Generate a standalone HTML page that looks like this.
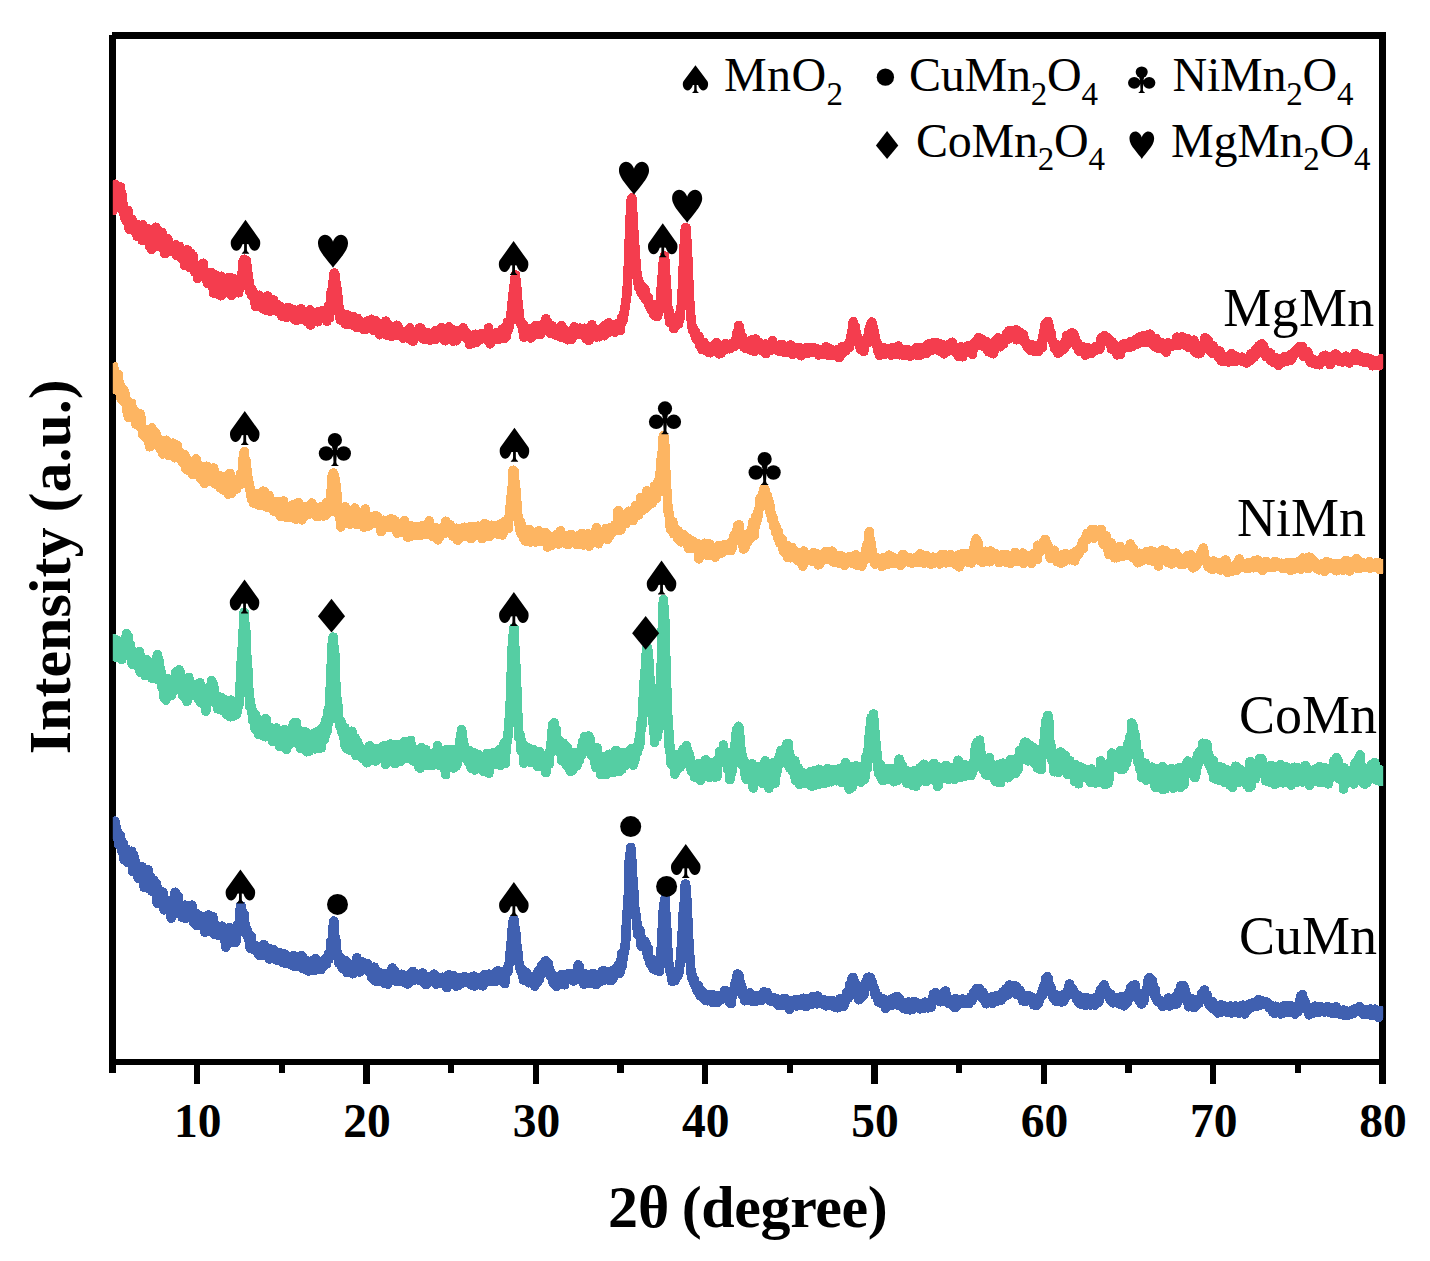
<!DOCTYPE html>
<html><head><meta charset="utf-8"><title>XRD</title>
<style>
html,body{margin:0;padding:0;background:#fff;}
svg{display:block;}
text{font-family:"Liberation Serif",serif;fill:#000;}
.lg{font-size:48px;letter-spacing:-0.25px;}
.sub{font-size:33px;}
.lab{font-size:54px;}
.tk{font-size:47.5px;font-weight:bold;text-anchor:middle;}
.ax{font-size:60px;font-weight:bold;}
</style></head><body>
<svg width="1430" height="1261" viewBox="0 0 1430 1261">
<rect width="1430" height="1261" fill="#fff"/>
<g fill="#000" shape-rendering="crispEdges">
<rect x="109" y="35" width="7" height="1030"/><rect x="112" y="32" width="1274" height="6.6"/><rect x="1379" y="32" width="7" height="1052"/><rect x="109" y="1059" width="1277" height="6"/><rect x="109.3" y="1062" width="6.4" height="10.8"/><rect x="194.0" y="1062" width="6.4" height="22"/><rect x="278.6" y="1062" width="6.4" height="10.8"/><rect x="363.3" y="1062" width="6.4" height="22"/><rect x="448.0" y="1062" width="6.4" height="10.8"/><rect x="532.6" y="1062" width="6.4" height="22"/><rect x="617.3" y="1062" width="6.4" height="10.8"/><rect x="702.0" y="1062" width="6.4" height="22"/><rect x="786.6" y="1062" width="6.4" height="10.8"/><rect x="871.3" y="1062" width="6.4" height="22"/><rect x="956.0" y="1062" width="6.4" height="10.8"/><rect x="1040.6" y="1062" width="6.4" height="22"/><rect x="1125.3" y="1062" width="6.4" height="10.8"/><rect x="1210.0" y="1062" width="6.4" height="22"/><rect x="1294.6" y="1062" width="6.4" height="10.8"/><rect x="1379.3" y="1062" width="6.4" height="22"/></g>
<clipPath id="cp"><rect x="112.8" y="0" width="1270.4" height="1261"/></clipPath>
<g clip-path="url(#cp)" shape-rendering="crispEdges">
<path d="M112.5 198.9l.33 11.5.34-2.8.33-15.5.33-2.5.34 .6.33 7 .33-1.4.34 0 .33-11.5.33 17.3.34-4.5.33 1.4.33-4.5.34-1.2.33 6 .33 2.4.34-5.5.33 .4.33 3.3.34-8.5.33-2.7.33 9.5.34-4.5.33-6.1.33 6 .34 3.5.33-2.9.33 .6.34 10.2.33 6.2.33-4.6.34-1.7.33 6.7.33 2.7.34-2.8.33 4.5.33 2.8.34-5.7.33-2.4.33 5.8.34 2.8.33 2 .33-9.2.34 .7.33-.3.33-1.5.34 9.1.33 3.4.33-2.4.34 8.6.33 .2.33-1.3.34-.1.33 .2.33-7.4.34 6.9.33-.1.33-8.3.34 6.7.33 1 .33 2.9.34-3.9.33 .9.33 .7.34-3.6.33 4.5.33-1 .34 .8.33-2.1.33 5.8.34-1.1.33-2.9.33 3.8.34 4.7.33-.2.33-11.4.34 7.3.33 .6.33-3.6.34-1.8.33 6.6.33-6.5.34 6.4.33 2.2.33-10.7.34 1.5.33-1.4.33 7.2.34 7.8.33-.6.33-15 .34 2.6.33 8 .33 4.2.34-5.2.33-5 .33 3.3.34-.1.33-1.3.33-.9.34 4.6.33 .8.33-1.6.34-1.9.33-3.6.33 4.4.34 7 .33-5.3.33-3.8.34 10.2.33 1.4.33 4 .34-7.6.33-5.3.33-1.7.34 12.5.33 4.9.33-13.1.34-1.5.33 4.1.33-4.3.34 .8.33 .8.33 3.2.34 3.3.33-2.9.33 1.3.34-4.1.33-.8.33-9 .34 2.8.33 9.2.33-2 .34 3.9.33 2.2.33 3.2.34-.8.33-.6.33-5 .34-3.6.33-.3.33 .4.34-1.8.33 2.4.33 2.9.34 1.4.33-3.9.33-5.4.34 6.7.33 4.2.33 3.6.34-2.4.33-5.5.33 1.5.34 10.5.33-1 .33 3.8.34-.4.33-10.7.33 2.4.34 1.9.33 .8.33-.1.34-1.2.33-2 .33-5.4.34 3.6.33 .2.33 2.8.34-.1.33 4.4.33 1.7.34-1.6.33-.6.33-1.2.34-2 .33 .5.33 0 .34 3.2.33 .1.33 .3.34-4.9.33 5.8.33-4.4.34-.8.33 2.1.33 .1.34 2.4.33-3 .33-2.6.34 2.7.33 7.8.33-4.2.34-5.2.33 2.1.33-1.9.34 8.8.33-8.1.33 5 .34 .5.33-6.1.33 6.2.34 4.4.33-1.2.33-.2.34 2.3.33-1.8.33-.1.34-.5.33 1.4.33-3.5.34 4.5.33-3.8.33-1.9.34 6.9.33 6.3.33-2.8.34-5.2.33 2.4.33-2.8.34 .6.33-1 .33-6.8.34 6.6.33-1.9.33-.5.34-2.6.33-.2.33 4.2.34 8.6.33 3.6.33-4.6.34 1.7.33-5.7.33-5.6.34 7.1.33 2.5.33-2.1.34 2.5.33 .6.33-5.7.34-2.3.33 4.7.33 1.5.34 1.2.33 6.3.33 2.6.34-6 .33 3.1.33 2.3.34 .2.33 .3.33-3.7.34 4.7.33 5.2.33-4.6.34-5.2.33 4.2.33 2.9.34-3.5.33-2.4.33 4.6.34-7 .33 3.7.33-1.4.34-2.5.33 7.3.33-2.3.34-4.7.33 4.4.33-3.4.34-5.2.33 4.4.33 5.3.34 2.2.33-1.2.33-.1.34 1.4.33-.4.33 4.2.34-1.8.33 .4.33 .1.34-4.7.33 2.4.33 7.9.34-2.5.33-2.5.33 1.2.34-1.6.33 1.2.33-1.9.34 .9.33-3.3.33 7.3.34-5.1.33-4.3.33 3.9.34 1.3.33 .8.33-2.5.34 7.6.33 9.1.33-13.1.34 1.3.33-.1.33-.2.34-5.9.33 2.4.33 6.2.34 1.4.33 3.7.33-5.9.34 3.6.33 7.5.33-10.8.34-2.9.33 3.1.33 1.6.34 2.7.33-2.5.33-2.8.34 5 .33 8.4.33-6.2.34-13.2.33 5.4.33 1.2.34 4.2.33 .6.33 6.1.34-1.5.33-1.4.33-2.6.34-.9.33 2.2.33 3.2.34-2.5.33-2.3.33 4.1.34-2.6.33-2.6.33-2.6.34 0 .33-2 .33-4.4.34 11 .33 .9.33-2.2.34 3.1.33-1.3.33-3.4.34-8.2.33 6 .33 5.6.34 4.6.33 1.4.33-3.5.34-10.2.33-3.4.33 8.4.34 1.4.33 2.1.33-2.6.34-1 .33-3.9.33 4.7.34-.6.33 2.2.33 .6.34-1.4.33 .8.33-.1.34 2.1.33-1.2.33-4 .34 .8.33 6.1.33-3.7.34 1.2.33-2.6.33-4.7.34-1.7.33 1.8.33 .1.34-1.8.33-7.5.33-.9.34 1.5.33 .6.33-12.4.34 3.1.33-2.6.33-.3.34-3.5.33 2 .33 3.3.34-3.1.33-.2.33 .2.34-1 .33 5 .33 .4.34 .4.33 4.5.33 3.3.34 4.9.33-.1.33 1.5.34 7.8.33 2.1.33 1.6.34-1.2.33-1.9.33-.3.34 2.4.33 4.5.33-2.1.34-3.9.33 3.2.33-1.3.34 3.7.33-2.6.33 .4.34 4.9.33-.4.33-3 .34 8.1.33 3.9.33-8 .34 5.9.33-5.4.33-1.1.34 .2.33-1.6.33 7.3.34-1.4.33-4.1.33-.3.34-2.5.33 4 .33 3.3.34-6.3.33 2.8.33 3.9.34 3.8.33 .4.33-5.6.34-1.3.33 3 .33-1.6.34 .7.33 4.9.33 2 .34-4.5.33-2 .33 .1.34-5.7.33 3.2.33 .9.34 8.9.33-2.9.33-3.3.34-3.1.33-4.8.33 9.4.34 3.8.33-5.2.33 2.9.34-.2.33-4.8.33 6.6.34 2.5.33-3.1.33-1 .34 .8.33-5.2.33 4 .34 2.6.33-4.6.33 4.1.34-3.9.33-4.7.33 4.2.34-.2.33 2.2.33-2 .34 4.4.33-3 .33 1.3.34-1.8.33 1.4.33 4.2.34-2.1.33-2.9.33-.9.34 6.7.33 .2.33-2.6.34 .4.33-2.9.33-.2.34 1.9.33 4.1.33 .4.34-1.8.33 4 .33 1 .34-1 .33 1.2.33-3.3.34-.1.33 1.5.33-.6.34 .5.33-3.7.33 4.7.34-4.3.33-.7.33-1.8.34 5.5.33 3.3.33-.3.34-2.7.33-6.8.33 .8.34 1.1.33 .4.33 5 .34-1.4.33-.9.33 .4.34-3.8.33-.8.33 1.3.34 4.1.33 .9.33 1.2.34 0 .33-6.1.33 1.3.34 1.7.33-3.1.33 2.7.34 5.5.33 1.6.33-.5.34-2.9.33-.3.33 2.8.34-2.5.33 2 .33 2.4.34-4.3.33-1.4.33 2.1.34 2 .33-.3.33-.9.34-1 .33-5.7.33 1 .34 2.3.33-3.1.33-2.2.34 .1.33 1.3.33 1.6.34-1 .33 4.1.33 4 .34-3.2.33 2.3.33-2.6.34-4 .33 1.3.33 0 .34 3.5.33-2.3.33 5.6.34-2 .33-5.8.33 7.1.34 2.9.33-4.7.33 1.7.34-5.1.33 2.8.33-2.4.34 3.3.33-5.6.33-1.8.34 9.4.33 5.5.33-6.2.34 1.3.33-1.7.33-1.5.34 2.7.33 1.2.33-6.7.34 2.6.33-.9.33-3.3.34 7.7.33 1 .33-6.3.34 4.6.33-3 .33-.5.34 4 .33-2.2.33 .4.34 3.6.33 0 .33-2.9.34-7 .33-.2.33 6.2.34-3.4.33 .6.33-2.4.34 .6.33-.7.33 5.4.34-5.2.33 .4.33 1.2.34 2 .33-5.8.33 2 .34 1 .33 2 .33-.2.34-2.1.33 1 .33-.5.34 1.7.33-1.3.33-1.5.34 1.8.33 3 .33 3.8.34-6.2.33 1 .33 1.1.34-9.6.33-1.7.33 1.9.34 4.5.33 5.6.33-4.9.34-1.9.33-7.2.33-9.9.34-1.3.33 6.5.33-4.1.34-6.4.33 .9.33-7.3.34 3.4.33-1.2.33-8.7.34-2.6.33 3.9.33-2.5.34 4.3.33-1.3.33 6.6.34 1.8.33 .7.33 2.2.34 4.6.33-1.3.33 6 .34 4.2.33 4.1.33-.7.34 7.7.33-2.8.33-.7.34 8.1.33 2.1.33-5 .34-2.2.33 2 .33-.9.34 2.1.33 4.9.33-2.2.34-1.4.33 .1.33-.3.34 2.3.33-.1.33-3.1.34 2.2.33 5.6.33-4.4.34-1.4.33 4.6.33-4.8.34-3.2.33 3.3.33-2.8.34 .8.33 2.5.33-.9.34-1.8.33 .3.33 1.5.34 3.8.33-3.8.33 1.1.34 5.8.33-3.9.33 4 .34 0 .33-5 .33-3.2.34 4.6.33 2.2.33 .5.34-1.4.33 2.7.33-.3.34-4.8.33 4.5.33-2.2.34-2.5.33 1.9.33 5.9.34-2.6.33-6.7.33 3.4.34 1 .33-.2.33-1.2.34-1 .33 4.9.33-2.7.34 .5.33-.1.33 .8.34 3.9.33-.6.33-3.1.34-1 .33 2.2.33 3.7.34-1.2.33-.7.33-1.4.34 0 .33-.1.33-3 .34 6.2.33-4.1.33 .2.34 4.4.33-1.9.33-1.7.34-2.5.33-1.9.33 4.6.34 2.5.33-3.4.33 3 .34-4.9.33 .3.33 3.2.34 0 .33 .6.33-3.6.34-2.2.33-2 .33 1.3.34 .5.33 .3.33 3.7.34-2.3.33-1.2.33 8.8.34-6.1.33-1.5.33 6.3.34 0 .33-6.2.33-1.9.34 2.5.33 5.2.33-2.6.34-1.6.33 2.7.33 2.2.34-5.2.33 .5.33 .4.34 8.7.33 .9.33-3 .34-2.8.33-.3.33-5.1.34 3.6.33-2.6.33-.5.34 2 .33 2 .33 2.8.34 .7.33-1.8.33-2.4.34 3 .33-.1.33 1.5.34-5.8.33-4.7.33 6.5.34 7.2.33-3.2.33-2.2.34 2.1.33-.5.33-1.1.34-2.3.33 .8.33 .1.34-2.5.33-.9.33 3.5.34 2.9.33-.3.33-.4.34 1.5.33 4.1.33-4 .34 1.3.33 1.8.33-4 .34 0 .33 2.6.33 1.4.34-3 .33-.9.33-1.4.34-2 .33 4.2.33-2.9.34-3.7.33 2.1.33-2.7.34 1.5.33 2.4.33-.5.34 2.9.33-4.2.33 3.1.34 2.5.33 2.2.33-1.1.34-2 .33-.7.33 .5.34 2 .33-2.8.33 1.8.34-.4.33 .5.33 .7.34 4.3.33-4.7.33 .8.34 1 .33 1 .33-.1.34 .3.33 0 .33-4.9.34 1.5.33-1.3.33 2 .34-2.6.33 .2.33 3.2.34 3.6.33-1.4.33-.5.34 1 .33-5.9.33-3.2.34 3.5.33 2.4.33 4.4.34 1.2.33-5.6.33 6.8.34-.2.33-2.5.33-.3.34 3.4.33-4.8.33-2.3.34 .2.33-2.2.33 3.2.34-.1.33 .6.33-.6.34-2.1.33 3.5.33-3.2.34 1.7.33-3.7.33 2.6.34-1.2.33 1 .33-2.1.34-3.4.33 2.4.33 3.9.34 .9.33-5.1.33-2 .34 3.1.33 2.2.33-.7.34 .5.33 4 .33 1.3.34-1.4.33-3.5.33 1.4.34-.7.33-1.7.33 4.4.34-.8.33-.8.33 3.8.34-.4.33-.1.33 .5.34-2.2.33-4.7.33 1.7.34 2.8.33-2.9.33 1.1.34 2.1.33 2.7.33 .1.34-1.6.33-2.2.33 1.9.34-.7.33-1 .33 2.7.34-1.9.33-2.4.33 3.2.34-2.1.33-.2.33-3.8.34 1.7.33-1.4.33-1.2.34 .1.33 7.9.33-2.9.34 .2.33 1.6.33-2 .34-.2.33-3.2.33 2.4.34 .1.33 1.7.33-1.1.34-4.3.33-1.5.33 2.9.34 4.6.33 .3.33-1.7.34-6.3.33-1.9.33 4.8.34 1.8.33 .1.33 1.8.34-1.4.33-2.7.33 .7.34 2.6.33 .3.33 .9.34 4 .33-4.6.33-1.3.34-2.2.33 1.3.33 2.5.34 .2.33-1.5.33 .6.34-1.7.33-5.8.33-1.2.34 11.8.33-.7.33-4 .34-4.3.33 1.8.33 4.3.34-6.9.33 4.4.33 4.1.34-.6.33 .7.33-.2.34 3.6.33-7 .33-1.8.34 4.3.33 2.9.33-2.3.34 .7.33-3.7.33-1.1.34 5.9.33 1.8.33-1.3.34-5.4.33-3.1.33 0 .34 2.6.33 2.4.33-1 .34-3.9.33 2.6.33 .4.34-.1.33-.5.33-.2.34 1.4.33-.8.33-.7.34-1.6.33 1.7.33-1.7.34-3.5.33 4.8.33 .7.34 2.1.33-1.5.33 0 .34 1.1.33-.2.33-1.6.34-1 .33 6.2.33-5 .34 1.8.33 3.2.33 .3.34 .6.33 1 .33 .9.34-.3.33 3.4.33-6.9.34 .3.33-.8.33-.2.34 2.4.33 2 .33-4.6.34-.5.33 3.1.33 1.2.34 2.6.33-1.9.33-2.8.34-1.5.33 .8.33-1.2.34-2.2.33 2.5.33 .4.34-.2.33 .8.33 4.4.34-1 .33-.9.33-3.8.34-1.5.33 1.7.33 1.3.34-1.1.33 .5.33 2.3.34-1.9.33-3.2.33 .2.34 .1.33 1 .33-2.3.34 2 .33 2.2.33-1.6.34-2.5.33 .6.33 2.2.34 1.5.33 .4.33-2.8.34-1.8.33 5.1.33-1.1.34-.6.33-1.1.33-2.9.34 1.1.33 2.2.33 1.5.34-3.7.33-6.4.33 5.5.34 3.8.33 2.5.33 .5.34 3.6.33-1.2.33-.8.34-2 .33-4.2.33 4 .34 .2.33-2 .33 2 .34-.3.33-2 .33 .1.34 0 .33 .6.33-.8.34 .3.33-4.5.33 1.5.34-1.9.33 2.6.33 2.6.34-.8.33-.6.33 1.1.34 1.9.33-4.6.33 1.6.34-4.2.33 1.2.33 1.3.34-1.7.33 2.1.33 .5.34-3.8.33 1.2.33-1 .34-3 .33 2.9.33 .8.34 3.4.33-2.6.33 3.5.34-2.6.33 3.7.33-2.2.34-1.2.33 .5.33 .4.34 1 .33-.6.33-6 .34-4.8.33-3.3.33 4.9.34 3.3.33-1.1.33-2 .34-2.5.33-2 .33-.2.34-1 .33-5.3.33 1.5.34-5.6.33-1 .33-3.1.34-3.2.33-5 .33-3.7.34-1.7.33-2.8.33 3.8.34-8.4.33-4.8.33-1.8.34-3 .33-2.3.33 6.5.34 3.8.33-.9.33 5.1.34 1.9.33 6 .33 5.4.34 3.9.33 2.5.33 1 .34 5.3.33 .6.33 3.6.34 2.7.33-1.2.33-.5.34 4.4.33-2 .33 .3.34 1.6.33 4.8.33-2.1.34-3.5.33 7.4.33 5.4.34-1 .33-5.5.33 .6.34 1.9.33 .8.33-2.4.34-2.1.33 3.9.33-.3.34-4.2.33 1.7.33 2.1.34 .1.33 1.4.33 .8.34-.8.33-2.6.33-2.3.34 4.6.33 3.5.33 .6.34-4.6.33-.4.33 3.7.34 .2.33-2.5.33-.6.34-2.7.33 1.6.33-2.3.34 .9.33 .1.33-1.9.34-3.6.33 2.8.33 3.4.34-.6.33-.7.33 1.9.34 1.2.33-.6.33-3.7.34 .7.33-.9.33-2.2.34-1.3.33 2.4.33 .5.34 5.5.33-4.2.33-2.1.34 .5.33 3.6.33-5.5.34-.5.33-.9.33 1.1.34 1 .33 1.2.33-4.9.34 2.8.33 3.5.33-4.2.34-1 .33-2.6.33-3.2.34 6.1.33 3.8.33-4 .34-3.1.33 4.6.33 1.6.34 2.5.33-.1.33-2.3.34 0 .33-2.9.33 5.8.34 .4.33 2.2.33 0 .34-2.8.33-.6.33-2.1.34-1.9.33 4.5.33 1.4.34-1.6.33 3.5.33-.1.34-.2.33-3.4.33-1.6.34 5.6.33 .7.33-2.1.34-1 .33 .2.33 .3.34-1.7.33-2.1.33 4.6.34-3.1.33 1.6.33 1.2.34 .4.33-2.5.33 5.5.34 .5.33 .2.33 0 .34-6.2.33-4.9.33 7.6.34 4.3.33-.8.33-3.9.34 .3.33-.1.33-4 .34 1.7.33 2.3.33 4.3.34-2.6.33 3.4.33-3.3.34-2.6.33 6.7.33-4.3.34 2.7.33 2.3.33-5.2.34-1.7.33 4.4.33-1.8.34-3.8.33-.2.33 2.5.34 2.7.33-1.8.33 1.9.34 2.6.33-.5.33-.2.34-2.3.33-5.6.33 4.5.34-1 .33-2.4.33-3.1.34-1.8.33 1.4.33 2.1.34-2.2.33 .2.33 1.3.34 2.5.33-1.7.33 .5.34 2.7.33-2.8.33 .3.34-2.8.33 2.4.33 .5.34-.2.33-1.8.33-1.1.34 1.6.33 1.2.33 3.7.34-.5.33-4 .33 2.8.34-.9.33 1.2.33-2.2.34-1.3.33 5.5.33-.7.34-4.7.33-1.6.33 2.8.34-.1.33 2.5.33 3.5.34 1.7.33-3 .33 3 .34-.7.33-5.1.33-2.8.34 5.1.33 1.8.33 3.4.34-1.9.33-1.9.33-.1.34-5.8.33 1 .33 .7.34 3.8.33-4 .33-7.3.34 7.4.33-2.1.33 2.1.34-1.8.33 1.3.33 1.1.34-1.5.33-1.6.33 4.7.34-1.1.33-1 .33 1 .34-1 .33 4.6.33-2.4.34-.5.33-.7.33-3.3.34-.6.33 3.5.33 1.8.34 1.9.33-2.8.33-3.6.34 3.1.33 1.7.33 0 .34-2.8.33-3.1.33 3.7.34-2.7.33 .6.33-3.4.34 3.5.33-1.5.33 4 .34 2.3.33-2.8.33-6.5.34-1.1.33 1.1.33 3.6.34-.2.33-.7.33 .3.34 .8.33 1 .33 1.6.34-3.7.33-1.7.33-4.7.34 .5.33 1.8.33 .1.34 4 .33 2.1.33-3.3.34-1 .33 .2.33 1.2.34-.8.33 1.9.33 .2.34 .1.33 .5.33-1.7.34 .6.33 3 .33-3.4.34 .4.33-1.9.33-2 .34-.8.33-.5.33 1.3.34-1.1.33 .9.33 3.4.34-2 .33 1.6.33-1.4.34-.4.33-3.4.33 2.2.34 5.3.33-3.5.33-1.8.34-2 .33-.8.33-5.2.34-.2.33 3.3.33 .5.34-3.5.33-1 .33-1.1.34-1.3.33-4 .33-1.8.34 .6.33-5.3.33-1.4.34-1.9.33-3.6.33-1.4.34-5.7.33-5.7.33-8.7.34-6.2.33-4.3.33-8.8.34-11.3.33-7.9.33-9.6.34-8.4.33-5 .33-10.7.34-2.4.33-.6.33-1.4.34 1.3.33 9.7.33 5.8.34 5.4.33 6.5.33 5.9.34 4.4.33 7.4.33 1.4.34 7.7.33 2.3.33 7.1.34 6.7.33 .9.33 2 .34 4.4.33 .3.33 .8.34 2.8.33 6.2.33 0 .34-1.2.33-2.7.33 3.6.34-2.1.33 3.3.33-.5.34 5.6.33-5.6.33 5.8.34-.6.33-6.2.33 4 .34 5.8.33-1.3.33-7 .34 1 .33-.6.33 .7.34 3.3.33 6.5.33-2.7.34-1.7.33 .8.33 3.3.34 .4.33-2.2.33 4.5.34-4.2.33 1.7.33 4.1.34 3.3.33-3.7.33 1.8.34 3.4.33-.1.33 1.6.34 .2.33-1.2.33 1.3.34 1.1.33-.7.33 2 .34-7.3.33 2.7.33 7 .34-1.2.33-2.3.33 3 .34 1.9.33-2.6.33 2.2.34-1.2.33-.4.33 1 .34 1.7.33-4.9.33 .9.34 1.4.33-5.4.33-1.8.34 3.7.33-2 .33-2.8.34-2.7.33-3.5.33 3.7.34-11.9.33-6.4.33-6.6.34-1.5.33 .1.33-7.3.34-4.4.33-4.5.33 2.7.34-4.7.33-2.6.33 6.8.34 3 .33 6.7.33 5.1.34 5.8.33 4.7.33 2.2.34 4.5.33 10.3.33 3 .34 3.4.33 .2.33-1.7.34 4.7.33 7.6.33-2.5.34-.2.33-1.3.33 2.3.34 1.4.33 .8.33 .3.34-1.2.33 .2.33 1.7.34 1 .33 .2.33 3.6.34-2.9.33-1.7.33-1.2.34 2.4.33-4.8.33-2.6.34 2.1.33 3.2.33-2.3.34 4 .33-3.1.33-4.3.34 3 .33 3.6.33-6.7.34-2.8.33 3.6.33 1.3.34-3.2.33-5.8.33-2.4.34-2.1.33-1 .33-2.9.34-9.6.33-4.6.33-9.3.34-6.4.33-10.8.33-7.3.34-4.8.33-8.7.33-2.8.34-7.2.33-2.2.33-.8.34 1.1.33 5.7.33 10 .34 10.3.33-2.1.33 8.9.34 7.2.33 6.4.33 9.3.34 5.2.33 8.4.33 7.4.34-1 .33 8.1.33 4.7.34 .8.33 5.4.33 2.3.34 1 .33 3.4.33-2.6.34 3.7.33-.5.33-1.1.34 2.2.33 1.4.33 1.9.34-3.2.33 2.1.33 1.9.34 3.5.33-3 .33 2.5.34-3.2.33 3.5.33 1.1.34 .9.33-2.1.33-2.5.34 2.3.33 6.3.33-1 .34-1.6.33 2.6.33-2.3.34-.8.33 .5.33 5.4.34 1.6.33-4.9.33 1.7.34 2.8.33 .6.33-7.4.34 3.4.33 1.5.33-3 .34 2.9.33 1 .33 .5.34-1.7.33 1.1.33-.8.34 1.9.33-.4.33-1.6.34-.7.33 5.6.33 .4.34-1.4.33-3 .33 .9.34 3.8.33-1.6.33-3.3.34 1 .33 .5.33-1.1.34-.5.33 3.7.33-.6.34-2.6.33-2.6.33 1.7.34 2.1.33 1.5.33-1.3.34 2 .33-1.7.33-3.3.34-3.9.33 2.1.33 .8.34 2.8.33 2.2.33 1.7.34-2.8.33-1.2.33 5.5.34-2.6.33-2.2.33-.8.34-1.2.33 3.3.33 1 .34 2 .33-.6.33-.6.34-.3.33-3.2.33-1 .34-.1.33-1.8.33 1.4.34 .5.33 1.4.33-1.9.34-3.4.33 3.6.33 2 .34-5.4.33 .9.33 1.3.34-1.9.33 1.1.33 .9.34-1.7.33 2.6.33 .1.34-2.8.33 2.2.33 2.1.34-2 .33 .6.33 0 .34-1.3.33 1.6.33-1.6.34-2.6.33 2.4.33 1.2.34-.9.33-2.8.33 1.7.34 1.4.33-2 .33 .8.34-.7.33-3.4.33-.8.34-2.2.33 .4.33-3.5.34-2.8.33-.6.33-.9.34-.1.33-1.3.33-3.8.34 .7.33 2.9.33 1.3.34 1.5.33 5.8.33-1.2.34-1.5.33 2.9.33 2.7.34-1.4.33-2.7.33 4 .34 3 .33 3.3.33-4.8.34 4.8.33-.8.33 1.2.34-1.5.33 .9.33 1.8.34-1.2.33 .9.33-2.2.34-1.2.33 0 .33-.3.34 1.3.33 2 .33-4.7.34-1.5.33 4.2.33 4.1.34-.2.33 .3.33-1.1.34-3.8.33-.7.33-4.4.34 3.4.33 2.3.33-4.3.34-1.9.33 2 .33 3.9.34 3.5.33 2.8.33-3.2.34-7.3.33-1.9.33 5.2.34 1.9.33-4.6.33 1 .34 1 .33 1 .33 .1.34 1.7.33 1 .33-1.4.34 1.7.33 1.5.33-5.6.34-.7.33 4.1.33 3 .34-2.2.33 .6.33-1.7.34 1.2.33-1.9.33 1.9.34 .1.33 .4.33 1.9.34-1 .33-2.9.33 .9.34-3.3.33 5.3.33 4 .34-3.7.33-1.4.33-.6.34 .8.33-1.7.33 1.2.34-1.5.33-.5.33 1 .34-.9.33-1.7.33 6.2.34-3.1.33-3.3.33 4.3.34-.8.33 .2.33 .4.34-4.2.33-3.6.33 5.1.34 2.6.33 .9.33-3 .34 .4.33 1.3.33-1.1.34 0 .33 .4.33-1 .34 3.4.33-3.5.33 .5.34-.5.33-.3.33 2.6.34 1.8.33 .7.33-2 .34-1.9.33 1 .33-3.2.34 2.2.33 1.9.33-.4.34-3.5.33 .2.33 5.4.34-3.2.33-2.9.33 1.1.34 3.6.33 2.6.33-1 .34 1.5.33-1.1.33 .3.34 .5.33-2.1.33 .3.34-1.1.33-.3.33 1.8.34-1.9.33 .6.33-.9.34 .8.33 .4.33 2.7.34-1.1.33 .4.33 1.1.34-7.3.33 .7.33-.9.34 5 .33 2.4.33 .5.34-1.2.33-1.2.33 3.8.34-2 .33-2.3.33-1.4.34 2 .33-1.2.33-.1.34 1.2.33-.2.33-1.1.34 2.4.33-3.5.33-.6.34 2.8.33 .4.33-.4.34-.6.33 .4.33-1.4.34-1.1.33 3.3.33-1.8.34 1.2.33 1.9.33 .4.34 3 .33-6.6.33-.3.34 2.5.33 2.1.33-3.1.34-1.9.33 3.5.33-2.5.34 .9.33 1.7.33-2.4.34 .1.33 1.6.33-.7.34 0 .33-1.9.33 .5.34-1.7.33 .1.33 5.6.34-.8.33-.6.33-3.1.34 .8.33-.5.33-1.5.34 2.6.33-1.3.33-.2.34-1.1.33 4.2.33 .6.34-1.4.33-2.4.33 1 .34 3 .33-1.7.33 .4.34-.5.33-1.1.33 3 .34-4.4.33 2.6.33-.2.34-2.1.33 3.2.33 1.1.34-1.3.33-1.4.33 2.4.34 1.4.33-.8.33 2 .34-1.1.33-.4.33 .1.34-3.7.33-.2.33 2.1.34 1 .33 1.7.33-.6.34-2.1.33-.6.33-1 .34-.4.33 .4.33 2 .34-2 .33-.2.33 .7.34-.9.33-.6.33-2.4.34 3.7.33 .3.33 .7.34-.4.33-2.2.33 6.2.34-2.3.33-2 .33-2.7.34 3.6.33 .3.33-1.4.34 1.2.33 1.5.33-3 .34-.8.33 3.5.33-1.1.34-.1.33 3.6.33-3 .34-1.4.33 .5.33-.6.34 .9.33 0 .33-1.3.34 .8.33 1.4.33 .7.34 .6.33 .3.33-.8.34-.1.33-1.6.33 .4.34 1.1.33-4.2.33 4.3.34 4.1.33-7.1.33 2.4.34-3.9.33 3 .33 3.2.34-1.1.33-5.1.33-2.2.34 .5.33 3.5.33-1 .34 .3.33 .7.33 .5.34 .1.33-1.5.33-2.1.34 3.1.33-4.8.33 4.8.34-1.6.33-.3.33-.7.34 0 .33 .2.33-1.3.34-1.4.33 2 .33-1.9.34 1.4.33-3.5.33-2.5.34 .9.33-.9.33-4.6.34-.3.33 1.1.33-5.6.34-1.9.33 0 .33-4.2.34-4 .33 1.4.33 4.4.34 1.5.33 .1.33-.7.34-1.8.33 4.5.33 2.2.34-1.4.33 3.2.33-.1.34 2 .33 1.2.33-.8.34 5.2.33-1.7.33 1.3.34 1 .33 2.6.33 .9.34 .5.33 2.4.33-1.5.34-2.9.33-3.8.33 4 .34 1 .33-1.2.33 .4.34 2.9.33 1.7.33 1.2.34-2.4.33-4.1.33-.4.34-2.4.33 2.3.33-1.2.34-2.9.33-.7.33-1.5.34-1.2.33 3.3.33 2.1.34-5.2.33-2.6.33-3.5.34-1.7.33 2.4.33-4.8.34-1 .33-1.1.33 .4.34-.9.33 .2.33-2.5.34 3.1.33 3.5.33-2.8.34 2.1.33 5.6.33 1 .34 1 .33-3.5.33 4.2.34-.2.33 1.5.33 5.3.34 2.4.33-3.7.33 .7.34 2.3.33 1.3.33 .3.34 6.2.33-1.6.33-2.3.34 1 .33 5.7.33 .2.34-4.8.33 .9.33 1.1.34-4 .33 1 .33 3.1.34-2.9.33-.9.33-1.4.34 1.4.33 2.5.33-2.5.34-1.2.33 2.3.33 4.4.34-2.2.33-1.7.33 1.3.34 .9.33-1.3.33-2.8.34 3 .33 .6.33 .9.34-2.6.33 2.9.33-2.5.34-1.6.33 4.4.33-1.8.34 .6.33-.1.33 2.2.34 .6.33-.3.33-1.9.34-4.8.33-.4.33 3 .34-.6.33 2 .33-.7.34-3 .33-.1.33 .1.34 .8.33 1.8.33 2.4.34 .5.33-4 .33 .6.34 3.9.33-.7.33-2.9.34-4.8.33 1.9.33 2.5.34 .4.33 3.8.33-2.3.34-1.1.33-2.5.33-.3.34 1 .33 .6.33 1.2.34 1.5.33 .5.33 .4.34-3.3.33 2 .33 1.4.34 1.8.33-2.7.33-.4.34-1.5.33 1.7.33-.1.34-2.1.33 0 .33 1 .34 .5.33-2.2.33 2.5.34-.3.33 3.5.33-.6.34-3.9.33 .2.33 5.1.34-2.1.33-1.4.33-1.7.34 .6.33 1.9.33-.5.34-1.9.33 2.9.33-1.4.34-1.9.33 2.7.33-.8.34 .7.33-1.6.33 .2.34-2.5.33 2.1.33-1.9.34 1 .33-3.2.33 3.9.34 2.5.33 .3.33 .2.34-2.9.33 4.1.33 0 .34-5.3.33-.4.33 .8.34 1.3.33-.6.33-3.7.34 4.2.33-.6.33-1 .34 2.7.33-1 .33 1.8.34-1 .33-1.4.33 2.2.34-.8.33-3.4.33-2.4.34 1.9.33 2.3.33-.3.34 2.7.33-2.1.33-.8.34-.3.33-2.1.33 .6.34-1.6.33-3.3.33 1.4.34 4.5.33-1 .33-.8.34-2.3.33 1.5.33 2.4.34-1.3.33-.9.33 2.5.34-2.7.33-1 .33 1 .34-4.3.33 2 .33-2.3.34-.3.33 .5.33 1.6.34 .4.33 .3.33 .5.34 2.6.33 .8.33-1.7.34-.8.33-2.4.33-.9.34 3 .33 .5.33 .4.34-2.4.33 6.1.33-4.6.34 1.6.33 1.7.33-3.5.34 .1.33-1.9.33 .6.34 .5.33 4.1.33 1.2.34-.2.33 3 .33 .4.34-2.9.33-1.1.33-.4.34 .3.33 2.7.33-1.7.34-1.8.33 0 .33 .9.34-1.5.33 .5.33 0 .34 2.1.33-1.3.33-5.1.34 1.3.33 1.5.33-1.6.34 1.4.33-.4.33-.2.34-1.1.33 .6.33-.3.34-3.5.33 .4.33 1.7.34 5.1.33-1 .33-.2.34-.3.33-1.2.33 .4.34 2.9.33-.3.33 2.9.34-1.5.33-.7.33-.4.34 .4.33 1.3.33 3.5.34 .8.33-5.8.33 1.4.34 .8.33-2.8.33-.1.34-.4.33-2.3.33 4.9.34 .2.33-.3.33 .5.34 1.4.33 3.2.33-2.9.34-.5.33-2 .33 .6.34-.9.33-.6.33-1.5.34 .3.33 2.6.33 1 .34-1.1.33-2 .33-.1.34-3.6.33 4.9.33-.1.34 .5.33 1 .33-2.1.34 1.2.33-1.7.33 .7.34-1.1.33 1.4.33 1.5.34-3.7.33-.9.33 .7.34 2.5.33 3.4.33-6.4.34-4.2.33 1.3.33-1.1.34 1.6.33 .7.33-2 .34-1.1.33-1.8.33 2.6.34-.6.33 2.7.33-.7.34-4.3.33-.3.33 1 .34 .1.33-4.2.33 2.8.34 3.6.33-2.9.33-.5.34-.8.33-1.3.33 3.7.34 0 .33 .1.33 1.6.34-.5.33-3.8.33 3.5.34-.1.33 1 .33-1 .34 .5.33 3.6.33-.9.34-.7.33 .3.33 1 .34-1 .33-3.8.33 2.4.34 2.7.33 2.9.33 .7.34-2.7.33 3.8.33-2 .34-.6.33-2 .33 .4.34 3.2.33-2.4.33 0 .34 2.8.33 .1.33-5.6.34 1.1.33 1.9.33 4.1.34 .9.33-4.6.33-.2.34 1.2.33 0 .33-2.4.34 .6.33-3.8.33-4.5.34 2.2.33 3.9.33 .2.34-6 .33-.1.33 2 .34-4.2.33 6.4.33 .8.34-6.3.33 5.1.33 .6.34 2.1.33-2 .33-1.6.34 .6.33 1.2.33-1.6.34-1.9.33-2.6.33 2.5.34 .5.33 2.1.33-3.6.34-1.9.33-1 .33 1.5.34-2 .33-.8.33 4.2.34-.1.33-5.4.33-1.7.34 2.9.33-1.6.33 4.9.34-4.1.33-.6.33-3.8.34 1.9.33 2.6.33-1.3.34-.9.33 4.9.33-2.7.34-3.2.33-1.3.33 1.3.34 2.4.33-3.5.33 0 .34-.5.33 3.2.33-1.6.34 1.2.33-.7.33-2 .34 2.3.33 .2.33-3.2.34 4.6.33 5.3.33-6 .34-.8.33-2.6.33 2.6.34-.3.33 2.2.33-1.4.34-1.4.33 3.8.33-1.8.34-1.6.33 1.5.33-.7.34 2.4.33-.1.33-.1.34 1.4.33-2 .33 2.7.34-2.8.33 6 .33-.9.34-1.3.33 .1.33 2.7.34-.2.33 .8.33 2.4.34-1.9.33 .5.33 2.3.34 1.5.33-1.8.33 .3.34 .6.33 2.1.33 .9.34-4 .33 .7.33 1.1.34 2.1.33 1.6.33-2.4.34 .3.33 .9.33-4.2.34 .1.33 1.2.33 1.2.34 .5.33-.2.33 3.1.34-3.6.33 .6.33 2.9.34-.3.33-1.4.33 .7.34 .9.33-1 .33 .3.34-2.3.33 .4.33-2.6.34 .6.33 1 .33 3.9.34-2.2.33-.2.33-2.2.34 .3.33-.7.33-1.1.34 1.1.33-4.2.33 3.5.34 2.4.33-7.1.33-2.3.34-3.7.33 0 .33-3.1.34 2 .33-3.4.33-4.7.34-1.1.33-.8.33 2.3.34 1.8.33-3 .33-2.4.34 .9.33 1.3.33-2.8.34 6.1.33 .8.33-3.1.34 6.2.33-2.1.33 3.7.34 3.6.33-4.1.33-.3.34 2.6.33 2 .33 2.8.34 .5.33 .7.33 .9.34 .9.33-.1.33 2.5.34-.2.33-.4.33 4.2.34-3.7.33 2.1.33-1.3.34 1.8.33 1.2.33 1.2.34 .2.33-2.4.33 5.3.34-3.9.33-4 .33 .2.34 7.1.33-.4.33-3.4.34 1.1.33 .9.33-2.5.34-1.5.33 .9.33 1.6.34-1.9.33-2.1.33 2.1.34-3.8.33 1.6.33 3.9.34-1.3.33-.9.33-.2.34 .8.33-3.2.33-4 .34 1.3.33-5.9.33 1.7.34 7.2.33-.7.33-4 .34-.6.33 .3.33 .5.34-4 .33-1.7.33 .4.34 1.3.33-.1.33-1 .34 .9.33-2.8.33 .7.34-.9.33 .4.33 4.1.34-2.2.33-1.2.33 1.8.34-.2.33 3.7.33 2.1.34 .2.33-3.1.33 2.6.34 4.4.33-1.8.33 2.9.34 .5.33-3.9.33 4.2.34 1 .33 1 .33 1.6.34-1.9.33-.7.33 .8.34-.9.33 .4.33-2.5.34 5.5.33-1.9.33 1.2.34 .2.33-.4.33 0 .34-.8.33-2.9.33 2.3.34 3 .33-3.6.33 .4.34 6 .33-.1.33-.5.34-2.8.33 .1.33 1.1.34-.4.33-2.1.33-2.6.34 .4.33 .4.33 4.9.34-2.3.33-.3.33 .8.34-.1.33 .3.33-2.6.34-.9.33 4.8.33-3.3.34-1.1.33-.6.33 .5.34 1.4.33 .7.33-2.8.34 1.2.33-.5.33 2 .34-3.5.33 1.6.33 .7.34-3.3.33 1.8.33 .1.34-1.7.33 1.1.33 2.1.34-1.5.33-1.9.33 .1.34 1.5.33 1.4.33-1 .34-.4.33-.4.33-6.5.34-2.4.33-.7.33 3.8.34-4.3.33 2.9.33 1.2.34-4.3.33 .1.33 1.3.34 .7.33-3.7.33 2.6.34 1.2.33-1.1.33 .2.34 1.7.33-1.6.33-1.1.34 0 .33 1.7.33-.6.34 1.6.33 .3.33 1.3.34-2.5.33 1.5.33 1.6.34 1.2.33 1.7.33-.4.34 1.8.33 2.3.33-2.2.34-4.3.33-.2.33 4 .34-.4.33 .9.33 .4.34 3 .33-.4.33-3.9.34 1.6.33-.8.33-1.1.34 3.2.33-.1.33 2 .34 4.1.33-1.3.33-1.7.34-3.5.33-1 .33 3.8.34-1.7.33-.3.33-.4.34 1.9.33 3.5.33-4.4.34-1.2.33 1 .33-.4.34-3.4.33-1.4.33 2.2.34 .9.33-1.2.33-.9.34 .1.33 1.1.33 0 .34-2.6.33 1.8.33 2 .34-1.3.33-2.3.33 1.5.34 1.5.33 .5.33-3.4.34 2.8.33-.9.33 .9.34 .3.33-3 .33-.5.34 1.6.33 1.2.33-2.8.34-2.3.33 1.3.33 2.8.34 1 .33-3.1.33-.7.34 .2.33-.5.33-1.6.34 .7.33 1.3.33-.3.34-1 .33-2.2.33 .1.34 .5.33 3.6.33 .9.34-1.6.33 .9.33-3.5.34-1.6.33-1.4.33 2.2.34-.5.33 .9.33 .7.34-1.9.33-1.8.33 1.6.34 .4.33 .4.33 .7.34-1.7.33 .3.33 3.6.34-1.1.33-3.4.33-2.3.34 .9.33 2.1.33 2.1.34 2 .33-4.6.33-.9.34-.7.33 .4.33-1 .34-.6.33 3.7.33-.1.34 1.3.33-2.6.33 1.1.34 .2.33-4.5.33 1.2.34 4.5.33-1 .33-3.5.34 1.3.33 .5.33 2.2.34 3.6.33-1.8.33 3.3.34-3.5.33-.8.33 4.3.34 .2.33 1.1.33 1 .34-1.3.33-1.5.33-5.4.34 1.1.33 3.1.33 .5.34 .5.33-1.2.33 3.3.34 2.1.33-2.1.33-.1.34-.1.33 .7.33-1.3.34-1.1.33 1.3.33-.3.34-2.2.33 2.9.33 .9.34 .1.33-.7.33 2 .34 .3.33-2 .33 1.8.34 1.5.33-.6.33-3.3.34-.5.33 1.6.33 .2.34 5 .33-4.9.33-.9.34 2.3.33-2.4.33-3.3.34 3.1.33-.5.33-.1.34-1.7.33 1.2.33 1.7.34-.2.33-2 .33 0 .34 .2.33 1.5.33-.9.34-1.7.33 2.4.33-1.5.34 .6.33-1.7.33 1.4.34-.4.33 .2.33 .8.34-.2.33-.7.33-1 .34-2.5.33 .5.33-3.9.34-.3.33 3.7.33 1.8.34 2.9.33-.9.33-.5.34-2.6.33 .9.33 1.3.34-1.2.33-1 .33-1.2.34-2.4.33-.8.33-.2.34 3.2.33-.7.33-.6.34 1.4.33-.5.33 3.3.34 1.9.33-3.1.33-3.4.34-.3.33 6.1.33-2 .34-2.7.33 2.6.33-3.6.34 1.6.33 1.3.33-.2.34 .5.33 5.7.33-3.2.34 .3.33-.8.33-2.7.34 1.9.33 2.6.33 1.4.34-1.6.33 .6.33-.5.34 .2.33-4 .33 4.2.34-.7.33-1.5.33-3.4.34 3.6.33 5.2.33 3 .34-4.9.33-.6.33 2.4.34 0 .33-1.4.33 .5.34 .4.33 2.2.33 1.4.34 1.7.33-1.3.33-1.1.34-.9.33 .3.33-2 .34 4.2.33-1.9.33 0 .34-3.3.33 1.8.33-1.1.34-2.1.33-1.9.33 .2.34 4.4.33-.9.33-3 .34-1.3.33-2.8.33-3 .34-.1.33 2.4.33 .9.34-.8.33 3.3.33 .4.34-1.5.33-2.8.33 2.6.34 1 .33-2.3.33 .2.34 7.5.33-.5.33-1 .34 3.7.33 .2.33-1.2.34 0 .33 1.7.33 1.2.34-2.1.33-.5.33 .1.34-4.4.33 3.9.33 .9.34 .7.33 .4.33 1.1.34 .1.33 0 .33 .2.34 .9.33-.6.33 1.4.34-2.9.33 2.6.33 .8.34-2.3.33 1.8.33 3 .34-1.9.33-2.6.33-2.4.34 5 .33 1.4.33 1.5.34 1.9.33-2.8.33-.9.34-1 .33 .9.33 .7.34 1.3.33-.5.33-2.2.34 .8.33 2.3.33-2.4.34 2.4.33 1.9.33-1.3.34-.5.33 1.4.33-1.3.34-.9.33 .2.33 2.2.34 .3.33 .5.33-2.7.34-.7.33 .2.33 .8.34-.6.33 2 .33-.8.34-3.2.33-3.3.33 2.4.34 5.3.33-1 .33-.4.34-.5.33 .2.33-3.4.34-.9.33 1.2.33 3.2.34 1.7.33-.4.33-1.6.34-1.4.33 2.5.33-.9.34-.1.33-.2.33-.8.34-.6.33-.2.33-.5.34 2.1.33 .4.33 .7.34-3 .33 3.3.33-.9.34-.9.33-1.1.33-.5.34-.2.33 3.2.33-.4.34 1.2.33 .1.33-2 .34-.1.33 .6.33 1.9.34-.9.33 0 .33 .6.34-.3.33 1.9.33-3.2.34 2.3.33 0 .33-3.4.34 1.9.33-.1.33-.2.34-2.8.33 .9.33-1.3.34 1 .33 2.3.33-2.9.34-4 .33 .5.33 1.3.34 2.7.33-2.5.33-1.3.34 3.3.33-.6.33-1 .34-1.3.33 2.1.33-2.8.34-3.9.33 .3.33 .6.34 1.1.33 .6.33-2.6.34 .2.33 3.3.33-3.3.34-2.3.33-.3.33-1.7.34 2.2.33 .5.33-2.1.34 1.3.33-1.5.33 0 .34-1.5.33-.7.33-.3.34 2.7.33 .2.33-.1.34-1 .33 .3.33 1.9.34 2.6.33 .3.33-.7.34 2.4.33 2.8.33-.9.34 2.4.33-1 .33 .5.34-1.6.33 1.5.33-2.2.34 1.5.33-.7.33-2.3.34 1.7.33 4.4.33 .6.34 1 .33-2.4.33-3.9.34 3.8.33 .2.33 .1.34 .3.33-.3.33 .7.34 3.4.33-.7.33-1.8.34 .7.33 2.2.33-.3.34-1.1.33-1.9.33 .4.34-1 .33-.4.33 3.8.34-.9.33-.8.33-.2.34 3.1.33 2.2.33-1.8.34-1 .33-2.9.33 1.3.34 1 .33 1.3.33-2.4.34-1.9.33 .7.33 .4.34 2.5.33-.8.33-.9.34-.3.33 .4.33-2.1.34-1.7.33-.6.33 4.2.34 .1.33-.3.33-.4.34 1.3.33-2.8.33 1.6.34-2.3.33-.6.33-.6.34 1.6.33 .1.33 .5.34-1.8.33-1.1.33 3 .34 1.6.33-1.2.33-1.5.34-.7.33-3 .33 1.7.34 2.4.33-1.3.33-2.1.34 1.5.33-1 .33-.2.34-3.2.33 .5.33 1.4.34 0 .33-.2.33-1.3.34-.6.33 .8.33-.3.34-3.6.33 .8.33 .6.34 .8.33 .5.33-2.9.34 1.1.33-2.7.33 .8.34 .8.33 .4.33-.4.34 .2.33 .4.33-.4.34-2.3.33 .6.33 2.4.34 2.4.33 2.2.33 2.4.34-4 .33-1.9.33 1.7.34 1.4.33-.9.33-1.4.34 1.5.33 .3.33-1.7.34 1.1.33 3.1.33-3.2.34 2.8.33 1.3.33 2.6.34-.8.33-1.5.33 2.5.34-.7.33 3.6.33 0 .34-2.3.33 .6.33-.8.34-1.1.33 2.7.33 .1.34 .7.33 .7.33 .7.34-.8.33-1.8.33 .1.34 .5.33-.6.33 .6.34 2.9.33-.7.33 .8.34-3.3.33 0 .33-.3.34 0 .33 .2.33 .2.34 .4.33 3 .33-1.6.34-2.7.33 .1.33 1.9.34-.4.33-1.5.33 .9.34-3 .33 1.3.33 2 .34-5.3.33 2.5.33 2.2.34-1.6.33-1.6.33-.9.34-1.7.33 1.4.33 2.3.34-.1.33 .7.33 .3.34 0 .33-2.3.33 1.4.34 .6.33-.2.33-1.4.34-1.2.33 4 .33 2 .34 1.8.33-1.8.33 .2.34-1.9.33-1.9.33 .1.34-2.1.33 1.2.33-.7.34-1 .33 3 .33 .2.34-1.2.33 .5.33 .6.34-3.1.33-2.6.33 .8.34 2.7.33-.7.33-1.7.34 3.6.33 .1.33 1.8.34-.6.33-2.3.33 .1.34-.9.33-.1.33 1.4.34 2 .33 1.1.33-2.5.34 1.5.33-.4.33-.1.34 1.6.33-1.1.33 1.5.34-2.2.33-1 .33 1.6.34-2.8.33 0 .33 1.8.34 .5.33-1 .33-2.6.34 1.1.33 3.2.33 .2.34-1.9.33 1.4.33 .8.34 .6.33-1.5.33 2.1.34-1.2.33 1.9.33-.9.34-3 .33 .5.33 1.4.34 .3.33-3.3.33 .7.34 1.9.33-.7.33-2.6.34-.1.33 1.3.33-1.6.34 1.5.33 1 .33-2.5.34-3.3.33 4.9.33 1.5.34 .1.33-1.9.33-3.2.34 3.6.33-.3.33 .2.34-1.5.33-.5.33 .9.34 2.6.33-1.4.33-1.4.34-.9.33 2.5.33 .3.34 .7.33 1.6.33-.1.34-.9.33 .2.33 .3.34 1.1.33 .1.33-1.1.34-1.1.33 2.4.33 0 .34-2.5.33 1.3.33-1.3.34-2.3.33 3.1.33 1.8.34-2.2.33 .1.33 1.9.34-2.6.33-.3.33 1.4.34 1.7.33 0 .33-1.8.34 .1.33 .5.33-.8.34-1 .33 .2.33 2.3.34 .5.33 3.5.33-2.9.34-2.7.33 .7.33 .9.34 .2.33 .1.33-.1.34-.6.33 1.7.33 1.8.34-3.4.33-.3.33 2 .34 1.2.33-.2.33 .1.34-1.8.33-.4.33 1.3.34 .8.33 1.5.33-1 .34-4.3.33 2.1.33-1.8.34-1.8.33 3.1.33 0 .34-.9.33-1.5" fill="none" stroke="#F43D4E" stroke-width="9.7" stroke-linejoin="round" stroke-linecap="butt"/>
<path d="M112.5 362.9l.33 1.2.34 1 .33 5.2.33 6.7.34-7.2.33 8.3.33 2.9.34-5.9.33-1.1.33 6 .34 6 .33 4.1.33-2.6.34 .4.33-7.2.33-3.7.34-2.4.33 3.1.33 5.2.34 2.5.33-2.6.33 7 .34-1.3.33-2.4.33 2.6.34 10.1.33-5 .33-5.5.34 2.2.33 9.6.33-4.6.34 5.6.33-.4.33-10.7.34 10 .33-3 .33-4.1.34 2.9.33 5.4.33 .9.34-.5.33-1.9.33 7.9.34 4 .33 1.6.33-1.2.34 3.9.33 1.3.33-4.2.34-.1.33-.1.33 .7.34-.6.33-8 .33 4.4.34 2.5.33-8.5.33 3.4.34 10.4.33-6.8.33 .8.34 3.2.33-2.8.33-1.8.34 1.3.33 .9.33 .6.34 4.8.33 5.7.33-1.9.34 3.4.33-1.7.33-.2.34-1.4.33-2.5.33 2.3.34-.6.33-3.4.33 6.4.34 1.6.33-1.3.33-5.3.34-4.4.33 13.5.33-3.3.34-6.3.33 8.6.33-.5.34 4.2.33 .1.33 4 .34-1.8.33-.3.33 1 .34 2.2.33-6.2.33 7.2.34-.3.33-4.5.33 .8.34-.3.33 2.8.33 2.7.34-3.8.33 4.6.33 2.1.34 .2.33 2 .33-4.7.34 3.3.33 5.5.33-8 .34-2.9.33 .9.33 1.3.34-3.9.33-1.3.33-4.9.34 1.3.33 .7.33 .3.34 3.9.33 4.3.33-3.9.34-3 .33 5.4.33 0 .34-4.5.33 3.8.33-2.5.34 .9.33 1.9.33 4.8.34-4.1.33 1.2.33 3.6.34 4.3.33-.5.33-6.1.34 5.9.33-.3.33 2.8.34-1 .33-5.6.33 .7.34 .3.33 3.9.33 4.6.34-5.3.33-.8.33 8.9.34-9.4.33 .8.33 0 .34-2.6.33 7.4.33 2.1.34-4.1.33-.8.33-2.3.34-4.7.33 4.8.33-3.7.34 1 .33 6.1.33 1.7.34-4.4.33 6.8.33 3 .34-5.8.33-2.1.33 .4.34-2.4.33-.8.33 5.6.34 .7.33-4.5.33-.9.34-.6.33-.6.33-1.3.34 .3.33 8.1.33-1.8.34 2.5.33 5.3.33-6 .34 .4.33-5.7.33 2.4.34 5.1.33-3.5.33-5.4.34 .4.33 6.2.33-1.3.34 5 .33-.2.33-2 .34 1.7.33 3.2.33-2.5.34-2.7.33 3.8.33-.9.34 .9.33 3.3.33 .7.34 1.5.33-4.1.33-2 .34 .9.33 1.9.33-3.4.34 .3.33-1.1.33 .6.34 5.2.33 8.2.33-7.2.34 .2.33 .2.33-.5.34 2.9.33 5.9.33-4.4.34 4.5.33-2.9.33-6.2.34-.2.33 .6.33 .1.34 7.3.33-.5.33-1.6.34-4.3.33 3.4.33 .4.34 8 .33-6.4.33-.8.34-.1.33-3.1.33-.6.34 1.1.33 3.2.33-4.3.34 1.1.33 1.7.33-3.1.34-4 .33 .7.33 2.9.34 .8.33 6.2.33-1.3.34-1.5.33-1.8.33 4.6.34-2 .33-2.2.33 3.8.34 9.2.33-8.2.33-1.6.34 7.1.33-.4.33-2.5.34 2.8.33-8.1.33 .2.34-.5.33 9.1.33 .4.34 6.6.33-5.4.33-3.1.34-5.7.33-.7.33 4.1.34 4.2.33-6.9.33-3.5.34 10.9.33 1.7.33-5.4.34 4.1.33 3.8.33-1.6.34-8.6.33 2.8.33 .1.34 4.9.33-2.7.33-4.3.34 4.2.33 1.1.33-7.2.34-.5.33 3.1.33 1.8.34-1.8.33-4.6.33 1.3.34 6.3.33 1.9.33-3.3.34 4.3.33 5.5.33-6.3.34-2.9.33 .1.33 4.1.34 .4.33-.5.33-1.3.34 2.6.33 .5.33-.7.34 2.1.33-6.6.33 5.3.34 .1.33 4 .33 3.3.34-5.9.33-2.2.33 1.9.34 5.8.33 .9.33-4.2.34 1.8.33 3.7.33-5.2.34-7.9.33 1.1.33 2.7.34 2.9.33-.9.33 4.8.34-3.2.33 3.9.33-4.5.34 4.5.33-1.3.33 4.2.34 3.1.33-.8.33-4.4.34-7.2.33-3.9.33-4.5.34 15 .33 3.3.33-2.9.34-4.7.33 9.3.33-7.8.34 .3.33-6.9.33 3.3.34 7.6.33-.8.33-6.9.34 3 .33 2.9.33-7.3.34 5 .33-4.2.33 5.2.34-.3.33 2.3.33-4.6.34-1.1.33-.8.33-2 .34 .8.33-2.3.33 1.5.34 3.5.33-2.2.33 3 .34-1.2.33-3 .33-7.4.34 3.1.33 2.8.33-3 .34-1.4.33-3.9.33-11.6.34 2.8.33-.8.33-5.2.34-4.1.33 4.3.33 3.1.34 8.7.33 .1.33-5.1.34-1.2.33 3.6.33 5.3.34 3.2.33 8.9.33-6 .34 3.5.33 3.9.33 1.7.34-2.6.33 3.1.33 3.4.34 1.2.33-2 .33 1.6.34 4.5.33 4.6.33-7.4.34 5.5.33 2.8.33-7 .34 8.1.33 1.5.33-3.7.34 2.8.33 1.4.33-5 .34-1.1.33-4 .33 1.1.34 3.1.33 1.7.33 4.5.34-5.9.33-3.1.33 6.8.34 1.7.33-2.1.33-2.9.34-2.5.33 2.1.33 7.4.34-1.2.33-2.7.33-.1.34-3 .33-2.4.33 1.4.34 .3.33-5.3.33-1.1.34 .1.33 5.2.33 3.1.34-5.9.33-1.4.33-.5.34 3.2.33-1.3.33 .2.34 2.9.33 10.1.33-5.7.34-3.7.33 1.5.33 5.2.34 1.1.33-4.1.33-5.8.34 8.9.33 2.9.33-.9.34-1.4.33-.4.33 2.7.34-2.9.33 2.4.33-3.9.34-.8.33 0 .33-.1.34 1.5.33 5.4.33 2.3.34-7.4.33-.9.33 6.8.34-2.7.33 1 .33 1 .34 1.4.33-3.7.33 5.6.34-1.9.33-9 .33 4.4.34 1.7.33 2.1.33-1.6.34-2.5.33 1.4.33 2.4.34-.7.33 1.1.33 6.7.34-5.3.33-6.1.33 3.1.34 .8.33-3.4.33 2.1.34-3.4.33-3.2.33 8.3.34 3.5.33-.2.33-2.8.34-1.3.33 2.9.33 2.1.34 2.4.33 1.5.33-2.6.34-4.8.33-.5.33-2.5.34 6.2.33 1.9.33 1.5.34-.9.33 1.4.33-5.9.34 1.3.33-.9.33-1.5.34-4.3.33 1.4.33-1.9.34 4.6.33 .9.33 .9.34-5.1.33 2.9.33 .1.34-3.7.33 10.7.33-1.9.34-3.2.33 7.5.33-3.1.34-12 .33 3.8.33 1.2.34 1.2.33-2.3.33 1.8.34-.4.33-6.3.33 8.1.34 5.7.33-2.4.33 3 .34 1.3.33-4 .33-.8.34-.5.33-.6.33 7.1.34-4 .33-.8.33 1.8.34-.3.33-9.1.33-.2.34 4.7.33 .9.33-5.7.34-.1.33 7.4.33 .9.34-3.4.33-1.1.33-1.6.34-1.9.33 1.5.33 3.5.34 .6.33 1.7.33-7.4.34-1.4.33 6.1.33-2.9.34 1.1.33 .6.33-4.5.34-.6.33 3.5.33-6 .34 7.1.33-3.3.33 6.6.34 .5.33-.4.33 .5.34-2.3.33-3.7.33 5.7.34-.3.33 .1.33-1.9.34 .1.33 4.1.33 .5.34-3.6.33-5.2.33-.2.34 1.9.33 7 .33-.6.34-2.1.33-1.6.33-.9.34 3.3.33-5.1.33 .4.34 5.7.33-.1.33-3.9.34-5 .33 .5.33 6.7.34 .9.33 1.5.33-5.7.34-1.3.33-.7.33 5.3.34-7.5.33 5.8.33 3.1.34-8.5.33-3.7.33 .6.34 .3.33 5.3.33-1 .34-2.9.33 2.5.33 4.7.34-5.6.33-1.1.33 4.3.34-9.2.33-1.4.33 3.5.34-7.8.33-10.3.33-2.5.34-5.9.33 2.1.33 .3.34-5.6.33 7.9.33 1 .34-2.7.33-3.7.33 4.1.34 5.8.33 5.3.33 1.8.34-7.3.33 4.8.33 3.3.34 5.7.33 6.7.33 7.7.34-4 .33 2.2.33-.9.34 1.3.33 4.5.33-6.2.34 5.5.33 8 .33 3 .34-12.6.33-4.8.33-.6.34 3.3.33 2.3.33 1.6.34 2.7.33-3.4.33-.7.34-5.4.33 2.1.33 .7.34-5.1.33 7.4.33 4.1.34-1.9.33-.4.33-1.6.34-3.1.33 2.9.33-.4.34 2 .33 .7.33-.8.34-3.5.33 4.9.33 7 .34-2 .33-4.8.33-1 .34 4.8.33-3.3.33-5.7.34 4.9.33 5.6.33-8.4.34 2.4.33-.9.33 1.2.34-1.2.33-3.4.33-4.4.34 6.9.33 2.7.33-1.1.34-2.9.33 3.3.33 7.4.34-8.2.33-.7.33-1.5.34 3.3.33 3.4.33 3 .34-2.7.33-1.2.33 1.1.34 .5.33-1.9.33 .5.34 2.6.33-5.1.33-.2.34-2 .33 2.4.33 5.3.34-4.6.33 3.7.33 5.1.34-4.5.33-4.2.33-4.2.34-5.2.33 3.9.33 3 .34 6.1.33-1.1.33-5.4.34 3.7.33-.6.33 7 .34 .3.33-3.8.33-2.3.34 5.9.33-.8.33 0 .34-2.2.33-2.1.33 1.8.34-2.9.33 3.8.33-2 .34-4.8.33 5.4.33-.2.34-1.3.33 1.4.33 1.5.34-5.7.33 0 .33 5.6.34-2 .33-5.5.33 3.1.34-2.6.33 6.3.33 .9.34-1.2.33-5.7.33 2.3.34 4.5.33-4.4.33 4.1.34-.5.33-.1.33-1.8.34 3.8.33 .8.33 2.7.34 3.6.33-7.5.33-2.1.34-1.1.33 6.8.33-3.6.34 .7.33-4.5.33 2.3.34 3.6.33-.2.33-1.6.34 2.7.33-1 .33 1.4.34-3 .33 .9.33-1.8.34 3.8.33-2.9.33-1.5.34-.9.33 3.9.33-1.9.34-.8.33 3 .33-4.2.34 4.4.33 .5.33-8 .34 5.8.33 .8.33-1 .34-.8.33-3.4.33 4.6.34-.6.33-4.4.33 2.4.34-.9.33 3 .33-1.2.34 1.4.33-3.4.33 1.9.34 1.3.33 1.9.33 5.4.34 1.4.33-9.4.33 3.7.34-1.9.33-1 .33 0 .34 .5.33 1.1.33 3.4.34 1.6.33-2.8.33-1.1.34 1.5.33 1.3.33 2.5.34-7.9.33-2.3.33 4 .34 2.7.33-.6.33-.9.34-6.9.33 3.9.33 1.5.34-1.3.33 2.3.33 2.4.34 1.4.33-4.3.33-1.7.34 7.2.33 5 .33-4.6.34-2.4.33-2.8.33 3.9.34 2.4.33-7.8.33 4.4.34-4.4.33 8.3.33-.1.34-3.4.33 2.3.33 2.9.34-5.6.33 4.7.33-.4.34-1.1.33 1.7.33-7.5.34 1.5.33-1.4.33 3.2.34 1 .33-4.9.33 4.2.34 .8.33-2.4.33 1.7.34 3.4.33-.6.33 1.3.34-7.8.33-1 .33 5.3.34-4.3.33 4.9.33-1.6.34 .3.33-1.8.33 3.7.34 1.9.33-.8.33-3.7.34-4.5.33 5.2.33 .1.34 1 .33-6.4.33 3.3.34-1 .33 1.3.33 3.1.34 .9.33 1 .33-2.6.34-.8.33-1.9.33-3.1.34 4.3.33-3.9.33 .3.34 2.5.33-2.3.33-1.5.34-4.6.33 3.7.33 1.2.34 2.6.33 3.7.33-1.3.34 .2.33 1.7.33 3.2.34 .5.33-2.4.33-1.7.34 2.1.33-2.7.33-.1.34 1.1.33-2.5.33-2.5.34 0 .33 3.3.33 2.7.34 .7.33-3.2.33 1.9.34-.2.33 .6.33 6.3.34-7.9.33-2.1.33 3.9.34 3.6.33-3.6.33 1.9.34-5.6.33 .2.33 .8.34 0 .33 .6.33-.6.34-1.3.33-1.7.33 3.3.34-.5.33 .6.33 2.1.34-2.1.33-.9.33 1.5.34-6.1.33-4.6.33 1.4.34-.8.33 2.4.33 .8.34 .9.33 1.6.33 1.4.34-.3.33-1.1.33-1.4.34-.2.33 1.5.33-.6.34-1.8.33 2.6.33 3.7.34-1.5.33-2.1.33 3.1.34 1 .33-2.6.33 6.9.34-.2.33-3.1.33 2.5.34-1.1.33-.3.33-3.6.34 .5.33 1.5.33 .6.34-1.7.33-3 .33 1.9.34 4.5.33 .3.33 5.3.34-.7.33-4.8.33-1.6.34-4.1.33 6.1.33 1.5.34-5.6.33-1.4.33 1.3.34 4.1.33 .3.33-5.5.34 .8.33 2.9.33-.7.34-1.2.33 .9.33-4.1.34-1.2.33 5.9.33 2.3.34 .7.33-4.7.33-2.1.34 2.3.33 .4.33 .3.34 .8.33 3.4.33-1.2.34 .9.33-5.6.33-1 .34 3.9.33-4.9.33-1.3.34-.4.33-.4.33 7.4.34 4.6.33-2.1.33-.7.34-3.7.33-1.5.33 2.7.34-4.2.33-1.9.33 3 .34 5.5.33-1.3.33-3.2.34-3.1.33 .5.33 3.4.34-.9.33-1 .33 3.8.34-4.6.33-3.1.33 4.5.34 4.8.33 .2.33-.7.34-4 .33 2.3.33-.2.34-2 .33-1.3.33 5.5.34-2.2.33-2 .33 4.4.34 3.1.33-9.6.33 3.2.34 5.7.33-1.1.33-8.4.34-1.8.33-2.9.33 3.8.34-2.7.33 2.2.33 6 .34-6.2.33-2.1.33 5.3.34 2.2.33 1.1.33 1.6.34-4.3.33 .9.33 2 .34-1.2.33 4.3.33-.7.34-3.3.33-1.2.33 .7.34-.7.33-6.1.33 .7.34 2 .33 .4.33 .6.34 .8.33 1.8.33-.2.34 1.6.33 0 .33-1.5.34-1.8.33-.3.33 3.3.34-2.3.33 1.4.33 1.6.34-2.9.33-5.3.33 3 .34 6 .33-6.8.33 4.2.34-4.1.33 2.5.33 2.3.34-4 .33 2.1.33-6.6.34 3.5.33 .8.33 3.2.34 2.2.33 1.5.33-1 .34-5 .33-1.6.33 2.9.34-3.2.33-5.5.33-.3.34 5.1.33 1.4.33 1.2.34-1 .33-4.4.33 2.7.34-2.6.33 2.5.33-.1.34 2.3.33-4.7.33-5.4.34-1.8.33-1.1.33-1 .34-3.6.33-8.7.33-4.5.34 .6.33-4.5.33-2.1.34-4.3.33-1.3.33-7.1.34-8.6.33 .6.33 2.5.34-2.2.33 5 .33 6.6.34 5.6.33 2 .33-1.2.34 9.3.33 .6.33 4.8.34 2.9.33 7.2.33 1.5.34 2.9.33 2.6.33 .2.34 1.1.33 6.6.33 .4.34-.8.33-6.5.33 1 .34 10.8.33-1.2.33-5.8.34 5 .33 .3.33-2.5.34 2.9.33 5.6.33-4.8.34 1 .33-3.3.33-.1.34 10 .33-3.1.33-4.4.34-.4.33-.2.33-1 .34 4 .33 1 .33-2.7.34-.5.33-2.2.33 2 .34-4 .33 5 .33 4.6.34-1.8.33 4.8.33-8.4.34-.1.33 2 .33 3.2.34 .8.33-3.8.33-3.4.34 6.9.33 .1.33-1.6.34-5.2.33 4 .33 .6.34 3.5.33 1.3.33-6.3.34 .4.33 .3.33-1.4.34 3.1.33-.3.33-4.2.34-.4.33 1.6.33-3.8.34 4.8.33 2.9.33-.9.34-3.3.33 6.7.33 .4.34-6.9.33 5.6.33 .5.34-2.5.33-3.8.33 2.5.34-3.9.33 2.5.33 2.9.34-.7.33-1.8.33 1.2.34-.5.33 .4.33-2.7.34-1.2.33 1.3.33 .4.34 7.5.33 4.7.33-3.8.34-1.4.33-5.2.33 .4.34-.9.33 4 .33-1.1.34-1.8.33 5.1.33-1.8.34 1.5.33 1.4.33 1.7.34-.8.33-3.6.33-1.8.34-1.6.33 .4.33 5.9.34-3.4.33 2.1.33-5.1.34-.3.33 3.6.33-2.7.34-1.1.33 4.1.33-6.2.34 .4.33 5.1.33 2.4.34-4.1.33-1.1.33 6.6.34-4.3.33-2.7.33 2.4.34 .8.33-9.1.33 3.4.34 6.1.33 .4.33-1.6.34-.3.33 2.3.33 .8.34-4.1.33 .2.33 2.7.34-2.8.33-2.6.33 1.9.34-.5.33 4.4.33 1 .34-3.6.33 .8.33 2.3.34 2.7.33-.5.33-2.2.34 .5.33 2.3.33-1.4.34-2 .33-3.7.33 2.6.34 1.2.33-1.7.33-3.9.34-1.3.33 6.2.33 1.3.34-2.1.33-2.9.33 .7.34 1.9.33 2 .33-1.8.34-2.8.33-.2.33 .4.34 6.2.33-3.4.33 3.6.34-.6.33 1.7.33-5.7.34 2 .33-3.2.33-.9.34 .1.33-1.2.33 1.3.34 3.3.33 4.3.33-5.3.34-3.1.33 5.6.33 .7.34-8.5.33 4.2.33-3.6.34-1 .33 7 .33 4.1.34 .2.33-5.2.33-2.1.34 1.5.33 1.7.33 1.5.34 .9.33-2.3.33-.4.34-1.5.33-2.2.33 3.3.34 3.2.33-3.3.33-6.2.34 6.7.33-2.1.33 7.1.34 .7.33-3.4.33 .4.34-6.3.33-.5.33-.2.34 2.4.33 .1.33 .2.34 .7.33 2.8.33-3.6.34-2.1.33 1.4.33 1.2.34-1.1.33-4 .33 .3.34 .2.33-2.3.33-1.9.34 .7.33-3.6.33 4.4.34-.7.33 2.1.33 2.5.34 6 .33 1.8.33-.9.34-6.5.33-2.3.33 2 .34-3.8.33 .9.33-.7.34 2.3.33 1.6.33-3.6.34 2.6.33 .9.33 .3.34 .2.33-2.2.33 0 .34-1.6.33-1.6.33 7.3.34-.3.33-1.9.33-5 .34-2.9.33 4.1.33-.2.34 7 .33 .1.33-5.6.34 3.4.33-1.3.33-4.1.34-3.7.33 5.5.33 2.3.34-1.1.33-4.3.33 .3.34 .1.33-1 .33-1.3.34 3.9.33-1.5.33-3.2.34 1.7.33 1.5.33-2 .34-.5.33-.1.33-3.6.34 2.1.33-2.6.33 2.4.34 2.5.33-3.4.33 3.3.34 .2.33-.5.33-10.6.34-7.7.33 9.6.33 10.3.34-3.9.33-3.3.33 .5.34 .7.33-.1.33 5.3.34-6.7.33-6.7.33-.6.34 3.6.33 1.6.33 2.6.34 .8.33-1.6.33-5.7.34 1.9.33-2 .33 .6.34-1.6.33 6.5.33 1.1.34-4.6.33-3.8.33 4.7.34-2.4.33-4.5.33 5.2.34 2 .33-3 .33-5.8.34 6.5.33 1.6.33-3.5.34 3.9.33-.2.33-1.1.34-7.4.33 3.2.33 2 .34-4.6.33 4.9.33 3.8.34-7.4.33 6.5.33-1.2.34-6.7.33-1.7.33 .3.34 1.3.33-6 .33 5.6.34-4.5.33 1.5.33 1.3.34 2 .33-5.2.33 .3.34 7 .33 1.5.33-6.1.34-2.3.33 1.4.33-.6.34-1.5.33-4.9.33-3.4.34 6.8.33 1.7.33 3.5.34 .9.33-.5.33-6.5.34 .2.33-5.1.33 3.3.34 .7.33-3.9.33 3.1.34 6.4.33-7.8.33 2.5.34-2.3.33 .2.33-10.1.34 2.4.33 6.4.33 6 .34-5.8.33-4.8.33 2.7.34 2.8.33-6 .33 3.2.34 0 .33-.6.33 1.3.34-2.6.33 3.3.33 1.8.34 2.3.33-4.9.33-4.1.34-4.1.33 0 .33-.4.34 5.2.33-8.7.33 6.3.34 2.4.33-.5.33-1.7.34 5.9.33-8.3.33-6.4.34 1.6.33 1.6.33 5.3.34-4.8.33-5.6.33-1.6.34 .8.33-2.2.33-.5.34-.7.33-10.3.33-2.6.34-1.8.33-8 .33 2.1.34-1.3.33-7.9.33-3.7.34-6.7.33-1.7.33 .3.34 1.3.33 6.3.33 2 .34 10 .33 6.9.33 14.9.34 8.9.33 2.7.33 .7.34 4.9.33 2.3.33 13.2.34 1 .33 .7.33 2.9.34-2 .33 3.8.33 4.6.34 5.1.33 3.1.33-6.8.34 2.7.33-3.3.33-.8.34 4.5.33-.7.33-3.1.34 5.9.33 6 .33-6.3.34 0 .33 6.1.33-1.8.34-2.5.33 2.7.33-2.1.34-.3.33 2.7.33-1.5.34 5.1.33 2.4.33-5.9.34-1.5.33 .8.33 2 .34-.6.33 3.1.33 1.8.34-3.8.33 3.7.33 3.9.34-1.3.33-3.7.33 3.7.34-3.6.33 2.4.33-4.7.34 4 .33-1.1.33-.8.34-.5.33-.6.33 3.8.34 .9.33 .9.33-2.9.34 3.8.33 .9.33-3.4.34 5.3.33 .6.33-7.2.34 1.4.33 8.5.33-3.9.34-3.4.33-1.5.33 3.2.34-1.5.33 1.5.33 .2.34 .8.33 .2.33-1.9.34 1.8.33 .5.33-2.2.34-.8.33 3.7.33 3.5.34-3.6.33-1 .33 2 .34-.8.33 1.4.33 .2.34-.5.33 1.8.33-2.2.34-.8.33-1.5.33 2.8.34 4.2.33 4.6.33 3.8.34-7.2.33-1.2.33 4 .34-5.8.33 3.6.33 .9.34 1.9.33-3.7.33-1.4.34-4.1.33 1.9.33 1.7.34-1.2.33 .3.33 2.7.34-5.7.33-2.2.33 .7.34 1.8.33 .3.33 1.2.34 .9.33 4.6.33-4.4.34 .4.33 3.4.33 3.5.34-5.5.33-1.5.33 2.7.34-3.4.33-3.8.33-.1.34 2.3.33-.1.33 5.4.34 .7.33 2 .33-3.1.34-1.6.33 2.4.33-.2.34-2.2.33 4.9.33-1.7.34-.1.33-2.1.33 3.9.34 2.5.33-6 .33-3.1.34 2.2.33 .8.33-.3.34-4 .33 4.6.33-.9.34-2.6.33-2 .33 3.6.34 2.8.33-.9.33-.6.34-.8.33-.6.33-2.2.34 6.1.33-.1.33-3.5.34-1 .33-3.3.33 1 .34 2.8.33-2.6.33-1.5.34 2.2.33 1.6.33-2.9.34 2.9.33 1.2.33 .1.34-.6.33-1.5.33-.4.34 1.8.33-2.7.33 2.8.34-4.5.33 1.4.33 .6.34-3.5.33 5.2.33 1.6.34-4.9.33 1.5.33 3 .34 .5.33-1.3.33-6.2.34 2.3.33 2.2.33-6.7.34-1.4.33 2 .33-1.3.34-4.6.33-.6.33 1.2.34 .9.33 2.8.33-3.1.34-3.9.33-1.7.33 2.4.34 3.2.33-7.6.33-3.7.34-.1.33 2.9.33-2.1.34-1 .33 3.8.33 3.2.34 6.5.33 2.8.33-3.8.34 .8.33 4.5.33-1.1.34-.2.33 2.5.33-2.4.34 4.5.33 2.8.33-7.4.34 2.4.33 .3.33 3.4.34-1.4.33-5.2.33-.3.34-.7.33 3.2.33-4.1.34 1.1.33 2 .33-4.3.34-3.4.33-1.2.33 .3.34 1.9.33 0 .33 1.1.34-.8.33 2.5.33-.7.34-.5.33-7 .33-2.2.34 5.8.33-3.5.33-8.2.34 2.9.33 4.3.33 3.5.34 2.7.33-4.5.33-5.3.34-4.4.33-2.8.33-1.2.34-1.6.33 2.8.33 2.8.34-3.4.33-5.4.33 3.5.34 .6.33-5.2.33-2.4.34 0 .33-1.5.33-8.4.34 0 .33-.8.33 3.4.34 .6.33-3.1.33 2.7.34-2.6.33-1.6.33-2.6.34-2.9.33 7.2.33-4.9.34-6.2.33 6.5.33 1.2.34-5.9.33 4.8.33 6.1.34-1.9.33-1.5.33 .6.34 1.2.33-3.1.33 2.5.34 4 .33 1.8.33 2.9.34-5.3.33 9.5.33-4.6.34-1.2.33 3.9.33 4.5.34-.9.33 5.4.33 1.1.34-2.6.33-.2.33 1.5.34 1.4.33-1.4.33 8 .34-.5.33 .1.33-1.4.34 2.2.33 5.3.33-6.2.34 4.5.33-1.1.33-.6.34 6.4.33-.8.33 3.7.34-2.4.33-3.5.33 4.6.34-.2.33 2.7.33 1.6.34 2.6.33-.1.33-1 .34-1.2.33-2.3.33-.2.34 5.4.33-1.3.33 2.4.34 4.2.33 1.8.33 .2.34-1 .33 .7.33 .4.34-.9.33-2.4.33 3.6.34 2.2.33-1.7.33-1.4.34-5.1.33 4.3.33 7.6.34-5.1.33 2.4.33 2.7.34-.5.33-2.2.33-1.6.34-1.3.33 5.6.33-1.5.34 0 .33-6.2.33-2.6.34 1.3.33 6 .33-1 .34-.2.33 1.1.33 0 .34-.5.33-2.1.33-.5.34 3.1.33 1.9.33-2.7.34 .5.33-.1.33 .9.34-1.4.33 6.4.33 .7.34-3.9.33-2.2.33-2.2.34 5 .33 0 .33-1.2.34-2.6.33 5.2.33 2.4.34-5.6.33 1.3.33 3.6.34-.3.33 1.2.33 4.6.34-3.2.33-5.6.33-6.2.34 3.7.33-1.2.33 1 .34 4.6.33-3.4.33 1.8.34 3 .33-3.7.33-1 .34-.9.33 .7.33-1 .34 3.1.33-.4.33 2.2.34 .5.33-1.5.33-.3.34-.8.33 1.9.33 .9.34-.4.33 1 .33-2.3.34-1.1.33-.1.33-3.9.34 .5.33-1.6.33 4.7.34 1.7.33-4.2.33 .3.34 1.7.33 3.8.33-.1.34 1.5.33-.8.33-1.5.34-5.7.33 .3.33 8.2.34 2.5.33-7.2.33-.3.34 5.8.33 1.5.33-6.4.34 .1.33 3.5.33-.7.34-.3.33-.2.33-4.3.34 .4.33 3.6.33-4.7.34 2.8.33-.9.33 2.4.34-2.4.33-.5.33 2.2.34-1.9.33-2 .33-3.7.34 4.8.33 .6.33 1.5.34-3 .33-1.1.33 4.4.34-1.8.33-1.9.33-1.2.34 5.3.33-.7.33-3.7.34 2.6.33 .7.33 .7.34-1.2.33 1.7.33-7.9.34-.2.33 5.5.33 1.7.34 .3.33 3.3.33-4.2.34-3.4.33 5.6.33-1.3.34-.8.33 2.3.33 .4.34-1.1.33 2.2.33-.2.34-1.3.33-1.1.33-3.6.34 1.6.33 1 .33 1.9.34 3.5.33-2.5.33-2.3.34-1.9.33 1 .33-.6.34 .1.33 1.3.33-2.5.34 2.1.33 3.9.33-1.4.34-2.3.33 .3.33 1 .34 4.4.33 1.2.33-.1.34-4 .33 0 .33 1.1.34-3.5.33 .9.33 2.8.34-2.9.33-.8.33 2.2.34-1.2.33-.9.33 .3.34-2.3.33 4 .33 .2.34 0 .33 0 .33-.3.34-4.1.33 3.2.33 2.7.34-4.1.33-1.5.33-.3.34 .4.33 6.7.33-3.6.34-.3.33-3.2.33-.5.34-.6.33-.7.33 2.9.34 3.4.33-2 .33 3.6.34 2.5.33-2.1.33 1.1.34-.2.33-3.8.33-1.4.34-2.1.33 3 .33 3.8.34-1.4.33-1.7.33-1.2.34-.8.33 2.1.33 5.5.34-1.5.33-3.2.33-2.2.34-.6.33 2.2.33-2.8.34-1.1.33 .3.33 2.2.34-1.8.33 .2.33-5.9.34-3 .33-1.8.33 .5.34-3.4.33 .3.33 2.9.34-2.5.33-3.4.33-2.8.34-7 .33 2.4.33 6.9.34-1.5.33 1.7.33 4.2.34-1.7.33 3.5.33 1.7.34 2.4.33 2.2.33 4.8.34 .4.33 1.3.33-3.3.34 1.1.33 2.8.33 3.4.34-1.1.33-3.1.33-2.2.34 1.8.33-1.7.33 0 .34 1.1.33 .7.33 .7.34 3.3.33-2.1.33-2.1.34 1.1.33-1.8.33 3.5.34 1.7.33-.7.33-2.7.34 3.4.33 1.3.33 1.3.34-2.7.33-2.3.33-1.3.34-1.5.33-1 .33 1 .34 3 .33-1.8.33-.6.34-.6.33 1.8.33 1.4.34-.9.33-3.5.33 2.4.34 4.8.33-2.7.33-2 .34-1.8.33-2.5.33-.4.34 3.3.33 1.2.33-1.3.34 1.5.33 2 .33 .6.34 0 .33-4.4.33 2.5.34 1.5.33-1.5.33-3.4.34 .3.33 5.8.33-2.7.34 .2.33-1.6.33-.2.34 2.8.33 1.2.33-1.9.34-.3.33 1.9.33-1.7.34-.8.33-.2.33 1.3.34-.4.33-.4.33-.1.34 1.5.33 1.6.33-2.7.34-.8.33 5.4.33-1.8.34-4.5.33-2.1.33 4.5.34-2.4.33-1 .33-3.5.34 6 .33 1.8.33-2.7.34-.9.33-.4.33-2.5.34 .6.33 4 .33-1.7.34-.1.33 .4.33 1.5.34-1 .33 1 .33 .1.34-2.3.33 .6.33 1.8.34 1.2.33-.7.33-.8.34-2.8.33 .9.33 1.8.34-.8.33 .3.33 1.2.34 1.9.33-3.5.33 2.5.34 .3.33-1.6.33-1.9.34 .7.33-.1.33 2 .34-1.1.33-.8.33-1.1.34 2.1.33-3.5.33 5.6.34-4.9.33-1 .33-.2.34-.8.33 3.6.33-2.6.34-.3.33 3.7.33-1.3.34-4.8.33 .1.33 3.2.34 1.4.33 .8.33-.5.34 2.6.33 .2.33-1.5.34-.4.33 2.4.33 .7.34-2.2.33-.6.33 1 .34-1.6.33 1.6.33 .4.34-3.4.33-.8.33-1.5.34 2.9.33 2.4.33-.9.34 1.2.33-.8.33-.8.34 3.2.33-1.4.33 1.3.34-.9.33-.4.33 2.4.34-3.7.33-.7.33 3.3.34-1.6.33-2.8.33-.4.34-.9.33 3.6.33 1.7.34-.9.33 .4.33 .7.34-2.6.33-2.5.33 .3.34 2.2.33 .3.33-.8.34-2.3.33 2.5.33 2.9.34-1.5.33 1.1.33-1.7.34-1 .33 2.9.33 1.3.34-1.7.33-.2.33-3.8.34-2.8.33-.9.33 4.3.34 3.1.33-4.1.33-2.2.34 2.7.33 .6.33-.6.34-.8.33 3.7.33-3.2.34-1.1.33-1.8.33 4.4.34 3.3.33-2.2.33-4.4.34 2 .33-2.7.33 .8.34 .7.33 2.3.33-.4.34-1.8.33 .8.33 1.9.34-5 .33 1.9.33 5.4.34-3.4.33-2.5.33 3.1.34 .8.33-3.3.33 .7.34 .4.33 2.6.33-.7.34-1.3.33 2.1.33-.8.34 4.4.33-1.4.33-3.6.34 .7.33 1.9.33-1.8.34-3.6.33 .2.33 .5.34-.4.33-1.7.33 6.2.34 5.6.33-5.6.33-1.9.34-.4.33 .9.33-2.1.34 .5.33 .4.33-4.8.34 3.3.33 5.4.33-1 .34-2 .33-1.7.33-4.4.34 5 .33 .3.33 2.4.34-.9.33-1.1.33-4.8.34 .5.33 6.6.33-3.1.34-.7.33 3.5.33-.7.34 .2.33 1.7.33-2.8.34-2 .33-1.6.33-2.7.34 3.6.33 .9.33 .6.34 4.6.33-5.9.33-1.2.34-.7.33-.1.33 .9.34-2.6.33 1.2.33 1.6.34-7.6.33-4.2.33-.8.34 2.2.33-2.5.33-2 .34-2.3.33 .6.33 6.3.34 .5.33-4.7.33 .4.34 2.9.33 3.1.33 5.6.34 3 .33-2 .33-.3.34 5.2.33 1.4.33-4.8.34 2.1.33-1.6.33-.5.34 1.5.33 4.6.33-1.8.34-2.7.33 .9.33 .1.34-2.9.33 2.5.33-2.7.34 .6.33 2.6.33-7.5.34 6.9.33 1.6.33-2.5.34 1.7.33-2 .33-2 .34 1.2.33-1.6.33-.5.34 .7.33 7 .33-2.5.34-4.7.33-3.6.33 .5.34 .3.33-.1.33 2 .34 1.8.33 4.1.33-1 .34-5 .33 3.6.33-2.8.34 3.1.33-.9.33-.5.34 .1.33-2.2.33 0 .34 5.1.33-4.5.33 2.4.34-1.6.33 2.1.33-.1.34-.2.33-1.2.33 3.1.34 3.5.33-1.2.33-.4.34-3.8.33 0 .33 1.4.34-3.5.33 4 .33-1.1.34 0 .33 2.5.33-3.1.34 2.4.33-4.8.33-.4.34 5.1.33 .1.33-4.9.34 3.2.33 4 .33-4.1.34-3.5.33 1.6.33 1.2.34-.6.33-1.8.33 1.3.34 3 .33 .9.33-1 .34 .8.33-1.1.33-2.2.34 6.1.33 .6.33-3.2.34-1.2.33 .4.33 .6.34 1.6.33-.1.33-3.3.34-2.5.33 .9.33 5 .34-3.4.33-4 .33-1.5.34 5.5.33 0 .33-1 .34-2.5.33 .5.33 .4.34 2.6.33 3.2.33-5 .34-1.7.33 4.4.33 .2.34-2.8.33 .1.33-.2.34 4.9.33-2.8.33-4 .34 4.7.33 .3.33-4.7.34 2.1.33 0 .33-3.7.34 1.5.33 8.8.33-5.4.34 1.9.33 1.6.33 .9.34-.5.33-2.5.33-2.9.34-.6.33 2.9.33-1.3.34 2.9.33-.9.33 1 .34-4.1.33 5.1.33-2.5.34-.2.33-2.7.33 3.6.34 .7.33 1.7.33 .3.34 .9.33-7.4.33-.1.34-.9.33 2.9.33 3.1.34-.6.33-4.4.33-2.4.34 3.2.33 .9.33-3.9.34 1.7.33-.7.33 1.5.34-1.3.33 2.3.33-2.9.34 2 .33 3 .33-14 .34 4.4.33 2.4.33 .8.34-.3.33-1.7.33-2.7.34 .4.33 .1.33-3.9.34 3.6.33-1.2.33 1 .34-3.5.33 0 .33-1.3.34 2 .33-.3.33-3.9.34 1.2.33-1.2.33 .6.34-2.3.33 .1.33 3 .34 1.8.33-.7.33 .4.34-.2.33 3.3.33-1.2.34-.3.33 5.1.33-2.9.34 4.8.33 .1.33 2 .34 3.5.33-5.4.33-2.3.34 .2.33 4.1.33 3.2.34-2.2.33 0 .33 .5.34-.5.33 .1.33-3.7.34-2 .33 2.9.33 2.3.34 3.8.33-1.7.33-2.3.34 4.6.33-.4.33-2.2.34 4.4.33-3.2.33-2.9.34 1.3.33 2.4.33-1.2.34-2 .33 4.8.33-2.8.34-2.1.33 1.2.33 2.3.34 3.6.33-1.6.33-6.8.34 1.7.33 1.8.33 1 .34 1.5.33-1.4.33-2.9.34 5 .33-2.3.33-5.1.34 4.8.33-1.2.33-3.6.34 2.8.33 1.8.33-1.2.34-2.2.33 .8.33-.1.34 .1.33 1.4.33-2.3.34 2.1.33 1.5.33 1 .34-1.3.33-2.4.33-1 .34 .8.33 3.9.33-4 .34-2 .33 1.5.33 3.2.34-.5.33-4.4.33 4.1.34-.2.33 3.4.33-1.1.34-5.7.33-2.4.33-.2.34 1.5.33 1.8.33 .2.34 0 .33-.4.33-2.4.34-.2.33 1.3.33 .8.34-3.8.33-1.6.33 2.4.34-.7.33-.7.33-1.6.34-.2.33-2.6.33-1.5.34 .6.33-2.8.33 4.4.34 2.4.33-7.2.33-1.1.34 2.1.33-2.2.33 1.4.34-1.7.33-1 .33 1.6.34-3.3.33-1.9.33-1.4.34 3.4.33-1.2.33-1.1.34 2.3.33-1 .33 2.3.34-.9.33-3.7.33-.2.34 4.1.33-3.1.33-2.2.34-.2.33-2.7.33 2.7.34-1.7.33 3.1.33-1.6.34 2.2.33 4 .33-1.2.34-3.9.33-.1.33-2.6.34 3.5.33 3.2.33-.2.34-.2.33-2.6.33-3.7.34 1.3.33-.7.33 3.9.34-1.9.33-1.6.33-.6.34 3.3.33 1.7.33-1.3.34-3.7.33 3.8.33-2.1.34-2.9.33 6.7.33 0 .34-2.8.33 5.7.33 2 .34 2.9.33-2.1.33-2.2.34-2 .33 7 .33-5.6.34 1.7.33 3.3.33-2.9.34-5.2.33 5.2.33 2.6.34 3.6.33-.6.33 3.4.34 .3.33 .1.33 .4.34 3.6.33-1.9.33-1.2.34-2.5.33-1.9.33-2.8.34-1.4.33 3.3.33 5 .34-1.9.33 .6.33 .4.34 1.8.33 2.5.33 1.7.34-4.1.33 5.6.33-3.8.34-2.4.33 1.6.33 4.2.34 0 .33 .3.33-2.9.34 2.7.33-2.3.33-.1.34-2.4.33 0 .33 .5.34 3.5.33-1.9.33-8.3.34 5.9.33 1.1.33-3.4.34 .8.33 5 .33-1.4.34 2 .33-1.4.33-6 .34 6.1.33-4 .33 .5.34 1.8.33 1.7.33-.3.34-2 .33-.2.33 1.6.34 .4.33-2.9.33 1 .34-.8.33-3.3.33-.2.34 1.7.33 4.8.33-3.5.34-.2.33-.7.33-3.1.34 .8.33-4.2.33 .7.34 4.7.33-.1.33 2.1.34 2.9.33 3.1.33-3.8.34-1.6.33-2.8.33 7.3.34-1 .33-.8.33 3.4.34-1.4.33-2.1.33 .4.34 4.1.33 1.3.33-2.2.34 .4.33 4 .33-5.4.34-2.2.33 2.8.33-2.8.34-1.8.33 3.2.33 .6.34 4.1.33-1.7.33 1 .34 .6.33-1.2.33-.8.34-5 .33-.4.33 2.8.34 3 .33-.4.33 .2.34 0 .33-3.1.33-2.3.34 .8.33 3.5.33-6.2.34-.3.33 3.6.33-1.5.34 2.2.33-2.1.33 .5.34-.7.33 3 .33 1.3.34 2.4.33-1.5.33-1.5.34-3.1.33 .4.33-1 .34-2.7.33 .9.33 3.7.34 2.9.33 2.5.33-5.4.34-1.7.33 4.3.33-1.4.34-1.3.33-.4.33-2.8.34 4.7.33 2 .33-.6.34-1.2.33 1.4.33 2.2.34-2.3.33 4.7.33-3.2.34 1 .33 4.9.33-5.2.34-2.9.33 .1.33-1.9.34 4.6.33-1.6.33-1.6.34-1.3.33 2.1.33-.4.34-7.7.33 2 .33 4.8.34-1.3.33-.4.33-2.3.34 1.1.33 5.2.33-.2.34-2 .33-6.5.33 6 .34 2.6.33-.1.33-1.3.34 3.5.33 .9.33-3.9.34-5 .33 4.7.33 2.6.34 .8.33-1.7.33 1.5.34-1.2.33-.1.33 .2.34 2 .33 1.8.33-1.5.34-3.8.33 2.2.33-1.3.34-.9.33-4.8.33 5.6.34-.6.33-.4.33 .4.34-2.5.33-1 .33-1.9.34 5.5.33 .3.33 1.5.34 .8.33-1.1.33 .8.34-4.5.33 3.1.33 2.2.34-1.6.33 1 .33 0 .34 3 .33 .2.33-3.5.34 .1.33 1.4.33-.4.34 .8.33-.3.33 0 .34-2 .33 2.7.33 1 .34-3.6.33 2.1.33 .6.34-.7.33-4.7.33 2.5.34 1 .33 2.1.33-1.1.34-6.6.33 3 .33 3.5.34 .7.33-.6.33-2.7.34 .7.33 2.4.33 1.2.34-1.5.33-3.9.33-3.8.34 4.5.33 2.1.33 .9.34 1.5.33 1.5.33 2.3.34-3.3.33 .5.33 2.5.34-1.7.33-3 .33 1.1.34-2.5.33 3.4.33 .5.34-2 .33 2.3.33-1 .34-2.1.33 1.3.33-2.5.34-.6.33-2 .33 3.1.34-3.2.33-2.5.33 .6.34 2.6.33 .5.33-4.8.34-2.8.33 .6.33 0 .34 .6.33-.9.33-.4.34-3.9.33 1.5.33 2.9.34-.6.33 2.2.33 4.7.34-.1.33 .4.33 .7.34-.2.33 .5.33 1.7.34 1.9.33-.1.33 1 .34 2.2.33-1 .33 .6.34-.2.33 0 .33-3.6.34-.5.33 3.6.33 .3.34-.3.33-2.2.33 5.6.34-1.9.33 2 .33-3.9.34-2 .33-2.2.33 4.2.34 .4.33-.6.33 1.2.34-1.1.33 2.2.33-.1.34-.8.33-2 .33 .3.34 3.2.33-1.6.33-.6.34-.4.33-1.2.33-1.8.34 2.4.33-1 .33-.3.34 4.3.33 2.1.33-4.4.34-.9.33-2 .33 3.3.34-.4.33 1.1.33 0 .34-1.9.33 .9.33-.9.34 .4.33-.9.33-2.9.34-.1.33-1.3.33 .7.34 5.1.33 2.9.33-.8.34-.4.33 5.1.33-1.3.34 .5.33-1.5.33 .7.34-1.6.33 .4.33-.7.34 2.1.33-.9.33-.7.34 2 .33-1.6.33-.8.34-.3.33-1.9.33 .4.34-.6.33-.8.33 .7.34 1.4.33-1 .33-1.5.34-.8.33 2.6.33 1.3.34-2.7.33-1.1.33 5.2.34-1.6.33 .8.33-5.9.34-1.4.33 1.2.33-.2.34-3.8.33 1.6.33 3.6.34-.2.33 1.4.33-1.3.34-1.2.33 1.2.33 0 .34-1.4.33 2.4.33 .2.34-.6.33-1.1.33 .2.34 .8.33 .1.33 .1.34 2.6.33-.7.33 1.4.34-1 .33-3.3.33 3.7.34-4.5.33 1.8.33-.5.34 .9.33 2.6.33 .5.34-1.3.33-1.9.33 .9.34-.6.33-.8.33-1.4.34 .8.33 1.9.33-2.9.34-.8.33 3.1.33 .2.34-.6.33 2.7.33-1.4.34-1.7.33-4.2.33 4.8.34 2.2.33-2.9.33 2.2.34-1.1.33-.6.33-.7.34-2.3.33-1.9.33 1.4.34 5.4.33-1.1.33-3 .34 3.3.33 .2.33-1.2.34 1.4.33 .3.33-.2.34 .5.33-2.9.33 1.7.34 3.5.33 .8.33-2.7.34 1.1.33-3.9.33-2 .34 3.9.33 1.1.33-2.4.34 .9.33-4.4.33-.4.34 1.2.33 1.2.33 .8.34 .6.33 .5.33-2.5.34 .9.33 3.5.33-2 .34 .8.33-.7.33-.4.34 .6.33-1.8.33 1.5.34 1.3.33-.9.33-1.5.34-.5.33 1.1.33 2.4.34-1.2.33-1.5.33 2.4.34-2.1.33 1.2.33-2.1.34-2.7.33 1.7.33-.1.34 .6.33 .1.33-.3.34 1.1.33-.6.33-1.3.34 2.6.33 .6.33-1.3.34 .3.33-.6.33-.3.34 1.4.33 1.7.33-.8.34-3 .33 1.9.33 2.6.34 .5.33-2.5.33 .6.34-1 .33-1.9.33 1.8.34-1.6.33-.2.33 4.9.34 .2.33-2.5.33-2.4.34 2.3.33-.6.33 .5.34-.7.33-.3.33-2.3.34 1.9.33 1.5.33 .5.34-3.6.33 5.8.33 1.2.34-4.2.33-1.2.33 1.8.34-3.8.33 2.1.33 3.5.34 1.8.33-1.4.33-1.5.34-.3.33 .9.33 .3.34-4.7.33 2.4.33 1.2.34-.9.33 1 .33 1.8.34-2.5.33-.2.33 2.3.34-2.3.33-2.2.33-1.8.34 1.1.33-1.7.33 1.8.34 1.9.33-1.6.33 .6.34 1.7.33 1.7.33 1.6.34-.8.33-1.7.33-1.1.34-1.6.33-2.7.33-3.1.34 4.5.33 .1.33 2.1.34-4.7.33-1.6.33 3.1.34 3.3.33-2.2.33-.4.34 2.3.33-1.7.33 .1.34-1.2.33 1.8.33 4.8.34-7.5.33 2.2.33-5.9.34 0 .33 5.7.33-.7.34 .3.33 1.3.33-2.9.34-2.2.33 3 .33 .4.34 3.9.33-1.3.33-.9.34-3.1.33 2.3.33 1.3.34-.1.33-2.6.33 3 .34 1.3.33-2.5.33-.5.34 2.3.33 1 .33-1.4.34 2.5.33 1.8.33-2.2.34-1.1.33 2.2.33 1.8.34-.3.33-1.9.33-.1.34-2 .33 .4.33-.8.34-.3.33 .8.33-.5.34 .8.33-.4.33-1.9.34 1.1.33 2 .33-.3.34 3.9.33 1.2.33-2.8.34-1.7.33-1.1.33-3.1.34 .3.33-1.4.33 4.1.34 1.7.33-1.3.33-1.2.34-.5.33 1.2.33-1.4.34 2.6.33-3.4.33-.9.34 2.7.33 1.4.33-1.1.34 .8.33 .8.33-.8.34 2.2.33-.9.33 .3.34-2.4.33-1.5.33 3.9.34 1 .33-2.6.33-.2.34-2 .33 .4.33 5.3.34 .8.33-2.6.33 2.4.34-2.8.33 .8.33-.4.34-1.2.33-3.1.33 5.1.34-2.3.33 .8.33 1.5.34-3.3.33 1.1.33 .3.34-.6.33-1.2.33 1.6.34-1.8.33 2.2.33 2.8.34-2.7.33-2.7.33 1.3.34-1.9.33 .7.33 1.5.34-1.1.33-.7.33-3.8.34 4.8.33 2.1.33-4.1.34 2.6.33 3 .33-.9.34-.8.33 .2.33 .7.34 1.5.33 1.2.33-2.8.34-1.4.33 2.3.33-.3.34-1.1.33-1.1.33-2.1.34-1.3.33 2.8.33-3 .34-1.5.33 .8.33 2.4.34 1.4.33-.1.33 0 .34-5.9.33 5.1.33-.9.34-.4.33-5.3.33 4.4.34 5.3.33-4.1.33 1.7.34-1.6.33-.6.33-2.6.34 2.6.33 4.5.33-1 .34-3.1.33 .5.33 .4.34 2 .33 .7.33-1.1.34-1 .33 .8.33 0 .34-.3.33-.8.33-2.3.34 .9.33 .7.33 2.2.34-.3.33 .6.33-1.2.34-2.3.33 1.7.33 .5.34 1.1.33-1.4.33 1 .34-2.2.33 1.9.33-.5.34-1.8.33-2.4.33 .6.34 6 .33-3.6.33 1.9.34-1.7.33 1.2.33 .3.34-1.3.33 .6.33-1.8.34 3.2.33 .8.33-3.2.34 .7.33 .6.33-.2.34-.5.33-1.1.33 .3.34-1.5.33 .2.33 1.9.34-1.8.33-.6.33 .6.34 2 .33-2.2.33 4.7.34 1.9.33-3.7.33 .6.34 1.8.33-3.9.33-.7.34 2.3.33 .4.33 2.7.34-6.8.33-3.3" fill="none" stroke="#FDB562" stroke-width="9.7" stroke-linejoin="round" stroke-linecap="butt"/>
<path d="M112.5 648.4l.33-4.8.34 6 .33-2.6.33-8.1.34 13.3.33-5.4.33 3.8.34 6.3.33-8 .33-6.9.34 2 .33 8.7.33-12.6.34 8.7.33 .6.33-7.7.34 6.8.33 2 .33-6.6.34 1.6.33 5.4.33-9.2.34 2.4.33 9.7.33-4.2.34-7.5.33 7.5.33 9.9.34-17.7.33 11.7.33-.6.34-5.3.33 3.3.33-7.3.34 10.3.33-.2.33-14.5.34 2.2.33 .6.33-4.8.34 4.1.33-7.6.33 7.9.34-4.5.33 1.6.33 3.2.34 3.2.33-8.6.33 10.3.34 1.9.33-3.6.33 9.9.34-10.2.33 2.5.33 6.1.34-4.2.33 11.6.33-5.1.34 8.5.33-13.4.33 1 .34 12.1.33-11.8.33 11 .34-9.2.33 5.6.33 4.8.34-6.1.33-5.3.33 3.6.34 8.5.33-4.5.33 2.9.34-2.8.33 1.3.33-2.1.34-3.9.33 8.2.33-1.6.34-10.7.33 10.3.33 5.2.34 5 .33-16.5.33 7.6.34 2.4.33 1.2.33-7.1.34 6.3.33-4.3.33 2.2.34-2.1.33 4.6.33-3 .34 3.8.33-1.5.33 5.5.34 4.2.33-8.6.33-3 .34 2.8.33-1.3.33-5.5.34 8.7.33-2.4.33 7 .34-5.1.33 5.3.33-.8.34-6.3.33 .8.33-1 .34 .5.33 6.6.33-6.4.34 .9.33-1.4.33 11.6.34-8.2.33 1.6.33-3 .34 6 .33-4.8.33 .5.34-7.1.33 1.4.33 8.3.34 1.6.33-13.5.33 7.4.34-1.6.33 12.5.33-21.8.34 .2.33-2.8.33 8.9.34 1.1.33-6 .33 10.1.34 4.5.33-10.9.33 7.3.34-1.2.33 .3.33 3.5.34 3.6.33-2.8.33 8.3.34 6.5.33-6.6.33 3.8.34-.3.33 7.8.33-1.2.34 6.1.33-5.4.33-5.2.34 10.3.33-4.2.33 7 .34-2.5.33-17.2.33 2.5.34 9.1.33-4.7.33-8.3.34 7.6.33 8.2.33-4.1.34-8.2.33 5.2.33 3.1.34-6.3.33 9.4.33-12.4.34 13.8.33-2.8.33-5.1.34-1.4.33-1 .33-4.7.34 9.4.33 1.3.33-2.8.34-3 .33-1.5.33-6 .34 .2.33-5.1.33 8.2.34-8.3.33 7.2.33-8.6.34 9.2.33-.1.33-.7.34-2.1.33-6.9.33 .5.34-1.2.33 6.4.33 7.9.34-12.2.33 18.7.33-13.3.34-1.6.33 8.7.33 4.9.34-5.9.33-2.2.33 14.6.34-13.1.33 11.1.33-3.4.34-2 .33 2.6.33-5.2.34 .3.33 7.3.33-6.4.34 1.5.33 11 .33 1.8.34-3.5.33-1.2.33-5.8.34 1.5.33-4.4.33-10.4.34 14.4.33-.1.33 3.3.34-11 .33 11.2.33-8.5.34-3.6.33 4.8.33 5.8.34-4.6.33 2.3.33-6.2.34 6.9.33 2.8.33-8.8.34 6.7.33-8.3.33 8 .34-8.1.33 9.6.33-1.8.34-5.4.33 7.3.33-6.5.34 5.1.33-4.9.33 7 .34-5.4.33 9.7.33-4.7.34 .5.33-9 .33-3.4.34 6.8.33 13.2.33-12.9.34 11.1.33 .7.33-8.5.34 2.4.33 7.9.33-7.2.34-.5.33-.5.33 3.4.34-.6.33 6.7.33-4.8.34 4.7.33-6.2.33 12.7.34-12.8.33-.2.33-3.3.34-4.4.33 3.8.33 4.9.34-6.3.33 8.2.33-12.7.34-1.3.33 8.6.33-.9.34-8.7.33 9.4.33 .2.34-6.1.33-8.9.33 11.7.34-7.6.33 .7.33 3.7.34-4.9.33 11.9.33-9.1.34 9.6.33 .1.33 6.2.34-4.8.33 2.9.33-5 .34 1.7.33-1 .33 7.3.34-6.2.33 11 .33-7.3.34-4.7.33 3 .33 9.3.34-7.5.33 5.5.33-10 .34 10 .33 1.9.33-1 .34 1.5.33-8.4.33-3.1.34 1.8.33 10.5.33-2 .34 2 .33-6.4.33 6.6.34-11.2.33 9.5.33-6.9.34 3 .33 5.4.33 1.2.34-4.8.33-.7.33 8.5.34-1.1.33-7.7.33 5 .34-1.9.33 6.1.33-2 .34 .2.33-1.4.33-2.8.34 7.8.33-3.3.33-13.2.34 9.1.33 2.9.33-5.1.34-1.1.33 1.1.33 4.5.34-6.4.33 6.1.33 4.6.34-2 .33 0 .33-5.8.34 6.6.33-5.6.33 3.9.34-9.7.33 11 .33-9.1.34 2.4.33 4 .33-6.1.34-3.8.33-.4.33 3.7.34-2.8.33-5.6.33-10.2.34-3.4.33 0 .33-5.1.34-13 .33-6.2.33 .2.34-4.6.33-11.3.33-12.1.34 8.1.33-11.7.33-1 .34-14 .33 7.2.33 4.7.34 5.9.33-1.1.33 2.5.34 5.8.33 12.6.33 9.8.34 6.2.33-3.3.33 10.7.34 8.2.33 10.1.33 2.3.34 2.4.33-5.8.33 16.1.34-2.9.33 3.7.33-2.2.34 3.9.33 .9.33 1 .34-1 .33 8.4.33 2.1.34-6 .33-.6.33 .7.34 3.1.33 8.6.33-6.8.34 9.5.33-14.2.33 1.1.34 1.7.33-.2.33 5.9.34 6.8.33-11.4.33 5.3.34 5 .33 5.4.33-9.8.34 4 .33 2.1.33-5.3.34 2.7.33-3.8.33-2 .34 1.9.33 8.6.33 1.3.34-4.8.33-6.6.33 11.7.34-5.5.33 7.1.33-6.4.34-5.8.33 4.1.33-1.7.34 10.5.33-18 .33 7.8.34 1.2.33-8 .33 11.5.34 .9.33 1.2.33 0 .34-4.2.33 4.9.33-6.2.34 2.4.33 1.1.33-.4.34 2.3.33-5.2.33 2.7.34-1.9.33 3.3.33 1.3.34-4.7.33 10.4.33 2.4.34-6.3.33-2.1.33-3.2.34 2.2.33 0 .33 4.3.34-3 .33 3.5.33-.5.34-4.6.33-3.7.33 .8.34 .8.33 5 .33 5.8.34-9.6.33 7.4.33-3.6.34 6.8.33 4.7.33-5.4.34-3.2.33 .9.33 3.8.34-7.2.33-2.2.33 4.6.34 6.7.33-10.5.33 8.4.34-.9.33-5 .33-2.6.34-3.8.33 2.3.33 6.3.34 2.8.33-6.2.33 .4.34-.8.33 15 .33-17.6.34-.4.33 11.9.33-9.9.34 9.7.33-8.5.33 8.5.34 1.5.33-8.8.33 1.7.34-5 .33 8 .33-6.3.34-3.8.33 5.4.33-1.4.34-3 .33-2.9.33 5.3.34-8.4.33-1.8.33 2.2.34 3.2.33-4.3.33-1 .34-1.5.33 1.7.33 1.6.34 13.3.33-16.4.33 7.3.34 3.7.33-3.2.33-.3.34 9.2.33 4.8.33-.5.34-4.3.33-1.6.33 5.7.34-10.3.33 4.2.33 11.1.34-4.5.33-1 .33-1.4.34-.8.33-2 .33 6.7.34-.2.33 0 .33-13.8.34 17.3.33-2 .33 3.2.34-10.1.33-7.6.33 4 .34 2 .33 13.5.33-12.9.34 1.4.33 6.8.33-.4.34 .3.33-6.7.33 10.9.34-7 .33-6 .33 5.6.34-8.7.33 .5.33 2.3.34-2.6.33 2.9.33-1 .34 .6.33-2.1.33 9 .34-10 .33 2 .33-1.9.34 1.4.33-3.2.33 15.9.34-10.9.33 5.2.33-5.4.34-4.2.33 3.8.33-.6.34-2.4.33 6.3.33 7.1.34-6.7.33 3.8.33 1 .34-15.3.33 17.6.33-15.3.34 14.3.33-7.9.33 1.5.34 7.1.33-5.8.33-12.9.34-1.3.33 2.4.33 10 .34-3.6.33 2.3.33-2.6.34 3.2.33-11 .33-4.2.34 4.9.33 6.4.33-9.2.34-7 .33 7.5.33 4.6.34-2.6.33-5.4.33-3 .34-10.1.33 6.6.33 5.3.34-15.4.33 5 .33-18.9.34-2 .33-6.7.33-4.5.34-15.2.33 7.3.33-13.7.34-14.6.33 8.4.33-6 .34-8.8.33 5.2.33 5.9.34 2.6.33 2.8.33 .9.34 10.9.33 11.5.33 11.2.34-.5.33 7.3.33 6.8.34-.3.33-2 .33 9.8.34 5.5.33 5.1.33 1.5.34-1.4.33 2.6.33 2.8.34-1.8.33 1.1.33-3.3.34 7.1.33 2.9.33-2.9.34 2.4.33 2.3.33-4.9.34 2.7.33-.6.33 7 .34-6.6.33 5.9.33-8.9.34 18.1.33-4.9.33-5.8.34 4 .33 9.5.33-8 .34-7.1.33 6.9.33-1.9.34 4.7.33-1.5.33-8.2.34 8.6.33 3.5.33 2.1.34-4.8.33 7.3.33-1.7.34-2.8.33 3.9.33-18.4.34 17.9.33 1.5.33-6.8.34 4.7.33-6.5.33 2.6.34 .2.33-3.8.33 4 .34-7 .33 7.7.33 8.7.34 1.1.33-8.7.33 8.3.34-5.9.33-7.6.33 3.3.34 2.9.33 .6.33 3.4.34-6 .33 1.8.33 7.1.34-3.8.33 1.7.33-1.8.34 4 .33 .6.33-6.6.34 9.2.33-7.9.33 4.9.34-2.6.33 4.8.33-1.4.34 1.7.33-1.7.33-.8.34 1.8.33-.7.33-3.6.34-3.1.33 9.7.33 3.5.34-10.4.33 6.5.33-5.3.34 3.4.33 2.9.33-2.7.34-3.1.33-8 .33 7.7.34 .8.33 5.7.33-8.8.34 2.7.33 1.5.33 4.9.34-11.1.33 9.2.33-4.1.34-2.6.33-3.2.33 1.9.34 8.2.33-6.1.33-2.1.34 2.5.33 7.9.33-1.7.34-.9.33 .6.33-1.2.34-5.7.33-3.4.33 10.4.34-6.5.33 .8.33-3 .34 4.1.33 3.6.33-8.4.34 2.3.33-.7.33 2.4.34-3.3.33-.1.33-3.1.34 2.8.33-3.5.33 6.7.34-3.9.33 8.3.33-10.3.34-1.3.33 9.3.33-.9.34-8.7.33 18.5.33-12.3.34 6 .33-6.7.33 4.9.34 1.8.33-7.4.33 3.7.34 2.2.33 5.2.33-5 .34 1.8.33-3.7.33 .5.34-.5.33-3.4.33-7.3.34 .8.33 9.3.33 .7.34-1.9.33-3.1.33 .3.34-3.6.33 10.9.33-13 .34 14.9.33-9.5.33 13.6.34-9.3.33-3.6.33 2.1.34-2.6.33 9.4.33-6.8.34 1.4.33-4.8.33 6.9.34-9.2.33 4 .33 8.9.34-15 .33 10.9.33 4.1.34-4.8.33 6.1.33-1 .34-3.6.33-9.6.33 5 .34 .6.33 5.9.33-5.1.34-1.2.33-4.7.33 4.9.34 1.8.33-12.2.33 10.8.34 2 .33-2.9.33 .6.34-1.9.33 6.6.33-6.6.34 7.8.33-4.1.33-10.7.34 6.8.33 2.2.33 2 .34-3.9.33-1.7.33 3.9.34 3.2.33-15.6.33 5.4.34 10.9.33-5.9.33-5.1.34 13 .33 2 .33-9.1.34 5.2.33-2.5.33 2.3.34 3.4.33-5.1.33 1.3.34-.7.33-6 .33 10.2.34 2.1.33-2.7.33-.3.34 3.8.33-6.7.33-1.4.34 6.9.33-1.3.33 7.2.34-14.5.33 6 .33-5.6.34 15 .33-11.7.33 5 .34-13.7.33 5.6.33 7.8.34-5.3.33-.9.33 6 .34-2.4.33 .2.33 .7.34-3.3.33 9.2.33-2.3.34-5.3.33-1.2.33-6.8.34 3.1.33 10.9.33-11.5.34 3.3.33 9.3.33-2.8.34-3.3.33 .3.33-3.2.34 2.3.33-.4.33 6 .34-2.2.33-6.6.33 10 .34-2.4.33 1.5.33 .7.34-2 .33-2.6.33 5 .34-.7.33-6.4.33 .2.34 1.8.33 1.1.33-2.8.34-6.3.33 11.3.33-8.6.34-2.6.33 1.1.33 3.7.34-1.6.33-9.7.33 3.1.34-.2.33 3.7.33 4.2.34-3.2.33 12.1.33-4.4.34 3.2.33-2.7.33-8.4.34 8.4.33-8.2.33 2.6.34 5.9.33-.4.33 2.9.34-3.7.33 6.1.33-1.1.34-2 .33-4.9.33 .5.34 7.4.33 8 .33-15.2.34 2.6.33-5.1.33-7.3.34 13.5.33-2.3.33 2 .34-6.2.33-1.2.33 10.2.34-11.1.33 7 .33 1 .34-4.5.33-2.7.33 3.4.34-9.1.33 6.5.33-.5.34-4.7.33 5.1.33 5.4.34 6.5.33-15.2.33 7.1.34 .2.33-3.1.33-.9.34 5 .33 1.3.33-9.6.34 13.3.33-7.4.33 .8.34-3.5.33 7.4.33-12.5.34 2.4.33 1 .33-6.9.34 .6.33 .8.33 .2.34-8.8.33-3.8.33 2.2.34-3 .33-5.8.33 8.8.34-4.2.33-1 .33 10.5.34 .6.33-3.6.33 9 .34-4 .33 2.6.33-.2.34 9.6.33-3.2.33 4.1.34-7.8.33 4.3.33-5.3.34 4.8.33 1.2.33 .9.34-6 .33 11.5.33-12 .34 12.6.33-5.8.33 5.3.34-9.1.33 5.3.33 2.3.34 7.4.33-7.6.33 6.3.34-6.1.33 5 .33-6.1.34 .6.33 3.9.33-9.8.34-1.6.33 8.2.33 8.8.34-2.9.33-6 .33 2.6.34-1.6.33 1.2.33 4.9.34-11 .33 .2.33-2.9.34 5.2.33 8.9.33-4.6.34-5.3.33 3 .33 .7.34 6.6.33-2.6.33-.6.34 3.3.33-3.4.33 2.2.34-8.8.33-1 .33 2.4.34 10.6.33-14.3.33 5.8.34 1.4.33-6.7.33-1.3.34 14.7.33-9.9.33-1.1.34 3.2.33-1.1.33-7 .34-1.3.33 6.9.33-2.5.34 3.3.33-4.9.33 17 .34-9.3.33 7 .33-11.1.34 1.7.33-1.7.33 2.5.34 1.6.33-4.5.33-2.7.34 1.3.33 1.9.33 4.2.34-11.2.33 3.1.33 4.8.34 3.8.33-8.5.33 2.9.34-2.7.33-.7.33 1.4.34-3.5.33 .9.33-.6.34 8.1.33-7.4.33 7.2.34-8.2.33 1 .33-4.5.34 4.6.33 5.5.33 1 .34-11.8.33 16.1.33-9.3.34 1.1.33 2.4.33-4 .34-4 .33 4.1.33-2 .34 10 .33-8.9.33-11 .34 15.3.33-4.2.33-4 .34-9.3.33 21.7.33-17.6.34-1.7.33-2.7.33 1.5.34-3.3.33-.5.33-1.9.34-5.1.33 1.4.33-13.6.34 4.4.33-7.7.33-7.3.34-3.2.33-9.1.33-7.8.34-11.2.33-10.2.33-11.4.34-7.2.33-4.8.33 .2.34-9.5.33-1 .33-5.8.34 0 .33 11.8.33 16.5.34-8.2.33 19.4.33-2.7.34 8.4.33 9.7.33 8.3.34 15 .33 3.8.33 5.5.34 2.6.33 11.2.33 8.1.34-3.3.33 0 .33-.6.34 5.4.33-2.3.33 13 .34-8 .33 9.6.33-9.6.34 10.1.33-.4.33 1.4.34-1.5.33-5.5.33 17.3.34-17.9.33 11.6.33-5.4.34-3.7.33 8.8.33 3.3.34-1.5.33-10.2.33 2.9.34 6.3.33-.4.33 2.7.34-4.8.33-6.7.33 2.6.34 6.8.33-5.8.33-1.5.34 9 .33 3.3.33-9.1.34 1.9.33 .2.33 4.4.34-5.4.33-.2.33 .8.34-5.4.33 11.4.33 1.1.34-6.6.33 .4.33 .6.34-.5.33-3.2.33 6.6.34 .6.33 1.6.33-8.7.34 5.4.33-6.3.33 14.2.34-14.7.33 6.4.33 7.8.34-14.5.33 8.4.33-7.7.34 11.8.33-5.5.33-.8.34-1.3.33 6.8.33-1.5.34 2.7.33 .7.33-6.1.34 3.9.33 4.7.33-3.4.34-.5.33-1.3.33-2.5.34 2 .33-.4.33 11.2.34-12.5.33-3.5.33 5.7.34-3.1.33-2.3.33 5.8.34-5.2.33-3.7.33 5.1.34 5 .33-4.4.33-6.4.34-1.7.33-3.6.33 1 .34-6.5.33 0 .33-4.8.34-.8.33-12.1.33 6.9.34-4 .33 0 .33 2.7.34-7.2.33 2.4.33 5.7.34 .9.33 5.4.33-.8.34-6.9.33 10.8.33-.7.34 3 .33 5.4.33-2.7.34-.3.33-5.3.33 6.1.34 6.3.33-.7.33-7.4.34-.4.33 4.8.33 4 .34-5.1.33 9.6.33 3.7.34-14.3.33 14.3.33-.1.34-17.5.33 2.1.33 7.1.34 1.2.33-3.3.33 4.4.34 4.2.33-6.9.33-5.4.34 9.4.33 5.7.33 3.8.34-1.2.33-16.5.33 7.6.34 5.4.33-2.8.33 6.7.34 0 .33 2.2.33 2.7.34-8.7.33 10.4.33-14.2.34 1.4.33-.3.33 .8.34 6.8.33 4.4.33-14.4.34 9.7.33 2 .33-4.4.34-10.5.33 10.9.33 1.9.34-12.3.33 5.7.33 6.8.34-3.4.33 3.3.33 .3.34-11.8.33-.2.33 9 .34-6 .33 4.7.33-2 .34-6.9.33 7.2.33-3 .34-5.6.33-.3.33-1 .34 3.1.33 2.1.33-2.7.34-4.1.33-6.4.33 5.8.34-1.7.33-3.4.33-1.8.34 10.4.33-.9.33-13.8.34 10.2.33-3 .33 6.1.34-12.1.33 8 .33-6.9.34 1.6.33 2.3.33 3.7.34-3.2.33-7.1.33 11.4.34-3.1.33-.3.33-6 .34 6.7.33 8 .33 1.3.34-2.7.33-5.3.33 8.3.34-6.4.33 8.3.33-5.1.34-3.6.33 9.7.33-.1.34 .7.33-4.3.33 0 .34 10.3.33-4.7.33 8 .34 .4.33-11.9.33 3.5.34-11.2.33 13.1.33-2.2.34 4.3.33-2.1.33-.5.34-.9.33 .6.33 9.4.34-2.2.33 7.1.33-5.8.34-5.2.33-.2.33 9.6.34-15.7.33 9 .33-1.2.34-8.6.33 14.3.33-4.9.34-1.3.33-3.1.33 3.3.34-.6.33 4.7.33-6.4.34 12 .33-14 .33 2.9.34-3.9.33 6.5.33-6 .34 8.3.33-1.9.33-2.7.34-9.4.33 7.6.33-.1.34 3.4.33-9 .33 9.4.34 .4.33-3.4.33 1.6.34-3.7.33 6.2.33-10 .34 1.8.33 14.1.33-12.5.34-.6.33-4.7.33 2.4.34 1.8.33-7 .33-1.6.34 4.5.33 8.9.33-8.5.34 13.2.33-6.1.33-2.3.34-4.8.33 4.9.33 11.5.34-19 .33 8.2.33 6.4.34-2.8.33-3.5.33-2.3.34 6.5.33-11.9.33 16.2.34-11.9.33-5.2.33 7.5.34 .7.33-1.1.33-6 .34 3.8.33 6.7.33-2 .34 3.3.33-4.7.33-5.9.34 3.2.33 1.6.33 .5.34 .2.33-.4.33 1.8.34 .1.33-7.1.33 8.8.34-2.3.33-4.7.33 2.3.34-1.9.33 1.7.33-9.6.34-.2.33 12.2.33-5.5.34 7.6.33 .6.33-5.4.34 6.9.33-12.9.33 4.9.34-6.9.33 6.2.33 3.9.34-4.9.33 0 .33-6.7.34 4.7.33-5.6.33 2.9.34-4.9.33 6.2.33-2.7.34-2.2.33 .5.33 .5.34-7.4.33-5 .33-1.5.34 8.2.33-8.2.33-9.3.34-2.6.33 7.1.33-10 .34 5.2.33-5.1.33-12.6.34-5.1.33-8 .33 2.4.34-15.4.33 2.7.33-9.3.34 3.3.33-13.8.33-6.6.34 2.4.33-10.5.33 5.8.34-5.5.33-1.1.33 2.7.34 2.8.33-1.2.33 12.7.34 1.7.33 2.6.33 14 .34 .6.33 11.6.33-10.6.34 19.3.33-.8.33 11.4.34-3.2.33 1.2.33 2.8.34 7.8.33-6 .33 8 .34-.5.33 17.2.33-6.4.34-2.2.33-11 .33 13.7.34-1.7.33 2.6.33 .1.34-4.2.33-4 .33 2.5.34-2 .33-3.3.33-4.4.34-3.4.33-12.1.33 .3.34-14.2.33-6.8.33-12.9.34-7.3.33-4.7.33-15.7.34-11.6.33-9.2.33-10.5.34-8 .33-6.1.33 11.1.34 5.7.33 7.2.33-3.5.34 15.1.33 16.7.33 7.5.34 16.8.33 11.9.33 .4.34 19.3.33 4.4.33 5.9.34 10.4.33 1.5.33 .4.34 15.6.33 2.2.33 2.9.34 .8.33-5 .33 8 .34 9.1.33-4.4.33-.5.34 1.9.33-1.3.33 1.8.34 .3.33-2.7.33 2.4.34 .8.33 .5.33 11 .34-12.8.33-4.2.33 4.8.34-7.4.33 15.8.33-11.1.34 1.8.33 1.5.33 3.1.34-6.7.33 4 .33-2.7.34 .7.33 2.6.33-5.8.34 9.3.33-7.5.33 4.1.34-7.1.33 1.7.33-4.1.34 6.1.33-4.4.33-3.8.34-2.7.33 13.9.33-8.5.34 .5.33 1.9.33-3.7.34 3.4.33-6.5.33 1.8.34 6.7.33-12.8.33 6.6.34-2.8.33 10.7.33-7.6.34 3.2.33 .7.33-3.3.34 3.5.33-.3.33 8.3.34-6.1.33 9.2.33-2.6.34 3.1.33 3.2.33-1.2.34-1.6.33-4.5.33 2.6.34 1.5.33 3.2.33-3.3.34-1 .33 9.5.33-6.3.34 .2.33-5.5.33 .8.34 .3.33-2.1.33 4.6.34 1.6.33-4.2.33 1.4.34 7.2.33-11.2.33 6.8.34 7.8.33-2.4.33-.4.34 4.9.33-1.4.33-2.7.34-6.3.33-3.2.33 1.9.34 9 .33-9 .33 .2.34 6.6.33-6.8.33 2.4.34-8.4.33 3 .33-.6.34-.9.33-4.3.33 3.3.34 7.6.33-3.1.33 3 .34-6.4.33 11.8.33-10.6.34 1.6.33 4 .33-3.5.34 3.3.33 6.5.33-4.2.34-3.9.33 7.7.33-8 .34 .8.33 3.3.33 .4.34-10.9.33 10.9.33-3.9.34-3.5.33 0 .33 .2.34-2.1.33 11 .33 2 .34-6.9.33 .2.33-.1.34 4.7.33-3.8.33 5.4.34-6.3.33 3.3.33-14.3.34 1.3.33 3.8.33-2.9.34-4.2.33-2.8.33-3.2.34 5.5.33-3 .33 3.9.34-6.8.33 2.1.33 2 .34 1.2.33-5.6.33 2.9.34 8.9.33-17.4.33 13 .34 1.1.33-1.6.33-5.7.34 8.8.33-1.9.33 1.8.34-.7.33-.7.33 5.4.34-5.2.33 10 .33-2.6.34-2.3.33 2.8.33 3.8.34-5 .33 5.4.33 7.9.34-10.8.33 1.1.33-5 .34 2.2.33-4.2.33 9.4.34-11.3.33 4.5.33-7.1.34 1.5.33-6.5.33-2.7.34 8.5.33-3.8.33-6.3.34-5.3.33-1.8.33-7.2.34 3.4.33 3.4.33-12 .34 12.8.33-10.5.33 5.6.34-4.3.33-6.7.33 .6.34 14.5.33 1.3.33-7 .34 16.6.33-7.1.33 18.7.34-14.1.33 9.1.33-1.6.34-1.6.33 8.8.33-5.3.34 .7.33 5.4.33-5.1.34 1.4.33 5.6.33 3.5.34 3.7.33 2.5.33-6.2.34 8.6.33-6 .33-2.2.34 5.6.33 1.3.33-6 .34-2.1.33 4 .33-2 .34-5.8.33 6.2.33 .2.34 1.2.33 1.7.33 4.2.34-9.4.33 5.1.33 3.1.34-14.4.33 16.9.33-4.7.34 11.7.33-9.2.33-8.1.34 4.1.33-2.1.33 2.8.34-9.3.33 7.5.33-2.9.34-.2.33 3.1.33-1.5.34 8.4.33-7.5.33 2.1.34-6 .33 .1.33 10.5.34-9.3.33-2.7.33 .2.34 1.8.33-.9.33 1.6.34 9.3.33-6.7.33 3.4.34 7 .33-12.7.33 0 .34-5.1.33 12.7.33-3.5.34-9.8.33 14.1.33-1.2.34-16.9.33 7 .33 9.5.34-8.3.33 3.8.33 4.3.34-1.2.33-3.7.33 5.8.34 3.3.33-7.4.33 14 .34-9.3.33-1.1.33-7.6.34 .9.33 .5.33 7.9.34-9 .33 10.3.33-1.7.34-7.6.33 2.2.33 7.2.34-11.2.33-6.8.33 6.7.34 3.7.33 3.3.33-2.4.34 8.8.33-7.1.33-3.9.34 3.3.33-.6.33-5.5.34 1.9.33-1.7.33-2.9.34-2 .33-5.9.33 3.4.34-4.4.33 6.7.33-3.7.34-6.6.33 3.9.33-1.6.34-5.8.33 2.8.33 2.9.34 5.6.33-7.6.33 1.8.34 3.2.33-1.8.33-5 .34 1.6.33-4.4.33-1 .34 1.4.33 .7.33 4 .34-1.1.33 1.6.33-11.2.34 6.3.33 2.1.33-4.3.34-4.2.33 13.7.33 8.7.34-13.3.33 6.3.33 8.8.34-8 .33 .5.33-3.2.34 5.6.33 5.4.33 1.6.34-4.9.33 6.3.33-9.3.34 3.8.33 4.2.33 .5.34 3.9.33-5.3.33-8.1.34 15.4.33 4.3.33-6.5.34-2.9.33-.7.33 3.2.34-6.3.33 7.4.33-1.7.34-5 .33 8 .33 2.1.34 6.1.33-7.8.33 7.3.34-9.9.33 .7.33 3.5.34-5.3.33 3.9.33-4.4.34-.3.33 1.5.33 5.4.34-3.3.33-2 .33 9.6.34-7.2.33 4 .33-1.6.34 2.6.33-3.7.33-2.5.34 4.7.33 .5.33 1.1.34-.5.33-.2.33-6.5.34 8.9.33 0 .33-4.9.34 1.7.33-.6.33 5.8.34-13.2.33 5.7.33 4 .34-10 .33 4.2.33 10.4.34-13.6.33 5.4.33-3.7.34 3 .33-2.9.33 4 .34-7.2.33 14 .33-5.7.34-.1.33-3.4.33 2.9.34-1.9.33 3.3.33-4.1.34 0 .33 7.5.33-1.5.34 2.5.33-3.4.33-11.8.34 9.6.33 1.4.33-2.4.34 3.4.33 0 .33-3.2.34 1 .33-2.1.33 6.2.34-11.7.33-.3.33 10.6.34-11.4.33 9.3.33-1.4.34 5.3.33-9.7.33-.1.34 3.7.33-.1.33-2.9.34-.6.33 4 .33 3.5.34-12.7.33 13.4.33-1.8.34-4.2.33-2.3.33 1.5.34-6 .33 9.1.33-.3.34-.3.33 1.5.33-6.9.34 9.3.33-4.7.33 .9.34 .9.33-.1.33 2.2.34-2.6.33-.2.33-4.8.34 1.2.33-4.7.33 7.3.34-2.4.33 .6.33 2.7.34-4.5.33 7.3.33-11.4.34 11.2.33-1.6.33-6.4.34 3.2.33 2.4.33-6.6.34 3.7.33 3.2.33-1.9.34-3.6.33-4.8.33 9.6.34 .5.33 3.9.33-3.5.34-9.2.33 .7.33-2.1.34 8.9.33-4 .33 1.2.34-3.4.33-5.3.33 7.9.34-8.9.33-1.7.33 4.4.34 6.2.33 4.2.33-4 .34-.4.33 1.9.33 2.3.34 2.1.33-8.6.33 1.6.34 16.6.33-18.8.33-3.8.34 7.4.33 .5.33-1.3.34 11.1.33-2.8.33-8.8.34 14.5.33-13 .33 2.2.34-4.9.33-1 .33 5.8.34 4.2.33-4.3.33-2.9.34-1.5.33 6.8.33-12.7.34 5 .33-3.1.33 3 .34-.4.33-2.1.33-1.6.34 6.8.33 8.1.33-7.8.34-2 .33-2.8.33 6.5.34-.5.33 7.2.33-9.9.34 8.4.33-10.6.33 6 .34 1.4.33-5.7.33-5.8.34 8.5.33 .5.33 3.6.34-1.1.33 2.2.33-13 .34 10.1.33-6.4.33 0 .34-14.2.33 8.9.33-3.8.34-2 .33 8.7.33-17.4.34-1.5.33 0 .33-2.7.34-9.6.33-3.5.33 2 .34-8.5.33 5.2.33-7.8.34-6.6.33 7.4.33-2.3.34-.4.33-2.5.33 2.2.34-3.1.33-4.7.33 8.2.34 2.8.33 2 .33 6.3.34 9.6.33-.5.33 1.8.34 4 .33-3.9.33 16.3.34-5 .33 8 .33 1.7.34 2.5.33 5.4.33-5.6.34 6.1.33-3.3.33 2.1.34-8 .33 10.8.33 .1.34 2.5.33-4.9.33-.6.34 6.8.33-2.1.33 3.2.34-6.8.33-2.3.33 8.7.34-.9.33-.6.33 .6.34-1.2.33-1.9.33-3.6.34 4.5.33-1.6.33-1.5.34-4.9.33 4.1.33 4.2.34 .7.33-9.3.33 10.3.34-6.7.33 7.1.33-5.2.34-3.8.33 8.9.33-10.8.34 7.9.33-1.6.33 2.2.34 .8.33-1 .33 3.9.34-12 .33 10.6.33 2.5.34-12 .33 0 .33 3.7.34-2.4.33 8.7.33-2.1.34-6.1.33 0 .33 8.9.34-10.9.33-1.7.33 10.6.34-4.1.33-8.1.33 3.6.34-10.6.33 11.1.33 8.5.34-14.5.33 5.4.33-2.9.34-2.7.33 4.5.33-.6.34-2.6.33 7.1.33 2.2.34 1.9.33 0 .33 .2.34-.6.33-1.8.33-4.4.34 6.3.33-1.9.33-4.2.34 6 .33 3.1.33 3.9.34-10.4.33 9.4.33-8.5.34 4.1.33 4.8.33-5.7.34-1.6.33-3 .33 9.1.34-8.7.33 4.4.33-1.3.34 2.2.33 4.3.33-3.9.34 6.9.33-1.2.33-8.2.34-4.8.33 4.6.33 .1.34 7.9.33-5.8.33 3 .34-9 .33 9.4.33 5 .34-6.6.33-4.1.33 3 .34 1.6.33-.5.33-.5.34 .9.33-5.4.33 1.9.34-1 .33-.5.33-7.2.34 7.8.33 .7.33-7.8.34 12.1.33-8.3.33 .4.34 2.7.33-1.9.33 4.1.34 .7.33-14.1.33 9.6.34 4.4.33-1.5.33 1.2.34-2.8.33-2.3.33-4.2.34 12.9.33-6.3.33-.7.34 .2.33-1.9.33 .8.34 4.2.33-3.3.33-7.6.34 5 .33-1.6.33 1.8.34-.8.33 6.9.33-11.5.34 8 .33-.2.33-4.7.34-4 .33 6.8.33-6.4.34 12.5.33-2.2.33-13 .34 11.1.33-2.1.33-1.7.34-.1.33 10.8.33-10.9.34 .5.33 7.8.33-5.3.34-7.1.33 19.6.33-11.1.34-5.7.33 15.8.33-10 .34-.9.33-2.8.33 5 .34-1.4.33-.8.33 4.6.34-6 .33-3.4.33-1.2.34 8.4.33-1.7.33-3.6.34 6.9.33-1.8.33-5.6.34-3.4.33 4 .33-2.3.34 4.6.33 2.2.33 1.2.34-11.8.33 7.5.33 4.1.34 .6.33-1.3.33-3 .34 2.1.33 4.1.33-6 .34-2 .33 5.7.33 .5.34-8.5.33 1.8.33-3.4.34 5.5.33 2.2.33-2.8.34-3.1.33-.3.33 4.6.34 3.7.33-3.1.33-.6.34 5.7.33-7.2.33-.4.34-3.2.33 9.9.33-1.6.34-5 .33 1 .33-6.1.34 1.3.33 3.7.33 2 .34-13.5.33 17.1.33-2.9.34-8.2.33 6.4.33-2.9.34-.7.33 .7.33 .2.34 2.9.33 .5.33 3.4.34-5.3.33-2.8.33 3.9.34 1.1.33-2 .33 4.8.34-7 .33-4.6.33 8.2.34 .3.33-2.8.33 .4.34-4.8.33 4.1.33 1.9.34-1.5.33-5 .33 6.5.34-4.1.33 5.2.33-.7.34 2 .33-6.7.33 4.4.34 .6.33-.9.33 3.7.34-9.7.33 7.5.33 .4.34-4.9.33-5.2.33 3.1.34-.4.33-.7.33 2.7.34-3.6.33-10.9.33 8.9.34-14 .33 2.5.33-6.4.34 7.2.33-5.8.33 5.1.34-9.2.33 2.7.33 5.2.34-8.2.33 6.7.33-3.3.34-.1.33-5.1.33 7.4.34 9.3.33-6.1.33 4 .34 5.9.33-7.1.33 4.8.34 1.7.33-1.5.33 6.5.34 4.7.33-1.9.33-1.4.34 1.9.33-7.1.33 9.8.34-5.5.33 9.1.33-7.6.34 7.8.33-6.8.33 .1.34-5 .33 8.4.33-.3.34 2.8.33-8.3.33-3.5.34 10.6.33-15 .33 6.6.34 8.6.33-4.3.33-5 .34 5 .33 7.2.33-6.2.34-.6.33 6.9.33-7.1.34 3.7.33 5.1.33-12.4.34 4.1.33 6.7.33-3.4.34 8.2.33-8.2.33 .8.34-6.7.33 1.3.33 11.1.34-9.8.33 3.9.33-2.6.34 11.3.33-17.7.33 9.3.34-2.7.33-4.8.33 2.9.34 3.9.33 9.6.33-6.8.34-3.2.33-1.9.33-7.2.34 .1.33 8.4.33-8.8.34 11.7.33-2.4.33 4 .34-4.6.33-5.1.33 9.3.34-9.5.33 4.7.33-.9.34-2.6.33 3 .33 .9.34-4.1.33 10.1.33-9 .34 .2.33 3.5.33-4 .34 .5.33 .6.33-8.8.34 15.2.33-13 .33-3.4.34 8.8.33 .1.33-1 .34-4.6.33-.2.33 4.3.34-.3.33 5 .33-4.5.34 2.7.33-2.6.33-7.6.34 3.7.33 10.2.33-5.6.34 3.9.33-6.2.33-.8.34-2.9.33 6.4.33 1 .34-11.7.33 4.2.33-5.4.34 2.8.33-8 .33-.5.34 7.6.33-2.2.33-2.1.34 6 .33-10.2.33 1.9.34 5.7.33-5.9.33-2.8.34 6.4.33-5.3.33-1.2.34-4 .33-1.5.33-.8.34 2.8.33 2.8.33 2.8.34-7.9.33 7.3.33 5 .34 .2.33-8.7.33 14.2.34-8.3.33 1.4.33 3 .34-11.9.33 2.9.33 2.3.34 1.8.33-5.8.33 9.4.34-5.9.33 4.7.33 2.3.34-5 .33 9.9.33-9.2.34-4.9.33 15 .33-4.6.34-6.2.33 6.3.33 3.6.34-1.6.33 4 .33-6.5.34 4.5.33-1.7.33 .6.34 3.4.33 3.6.33-5.4.34-.5.33 5.2.33-2 .34-10.9.33 9.2.33-1.9.34-2.5.33 1 .33-1 .34 10.5.33-12.3.33-.9.34-8.7.33 5.3.33 2 .34-8.9.33 2.1.33-4.1.34-4.5.33 9.4.33-19 .34 1.7.33-9.7.33 7.4.34-8.8.33-.9.33 5.2.34-6.2.33 7.4.33-10.7.34 13.6.33-4.7.33-3.1.34 16.6.33 6.1.33-2.6.34 8.6.33-.6.33-4.5.34 13.2.33-5.4.33 7.5.34-1.4.33-3.6.33 3.1.34-2.2.33 7.9.33-7.4.34 15.2.33-7.8.33-7.2.34 8 .33-5.7.33 11.1.34-4.2.33-6.6.33 10.4.34-1.7.33-2.5.33-7.7.34 .4.33 14.4.33-18.7.34 8.5.33-.9.33-6.9.34-1.5.33-1.2.33 11.8.34-8.9.33 8.3.33-1.3.34-2.3.33-1.7.33-.5.34 3.6.33-3.2.33-3 .34 4.9.33 9.8.33-1.3.34-8 .33-4.4.33 2.6.34 2.1.33 5.6.33-.6.34 5.5.33 3.7.33-7.7.34 5.7.33-2.4.33-5.1.34 1.7.33-1.8.33-4.2.34 12.6.33 .8.33-1.9.34-3.8.33 1.8.33 .9.34-1.1.33-2.6.33 1.4.34 .3.33 4.2.33 .8.34-9.5.33 16.8.33-8.7.34-5.1.33-3.2.33 9.1.34 3.3.33-7.8.33 2.5.34 9.6.33-2.8.33-.8.34-.2.33 6.4.33-11.1.34 3.5.33-3.9.33-3 .34-2.3.33 3.7.33-1.1.34 .5.33 4.9.33-5.1.34-1.9.33 1.8.33-.8.34 1.5.33 6.7.33-7.1.34 2.6.33-1.1.33-1.5.34 4.5.33 .6.33-1.7.34 3.7.33-2.8.33 3.9.34-6.6.33 5.8.33-1 .34-3.2.33-1.6.33-.9.34-1.4.33 2.1.33 .1.34 .5.33 10.3.33-9.7.34-3.6.33 10.3.33-1.7.34-6.9.33 6.3.33-1.6.34 2.9.33-5.5.33 3 .34-1.2.33-1.3.33 2.9.34 6.6.33-7.2.33-1.5.34 .1.33 5.5.33-3.5.34-5 .33-.1.33 3.5.34 4.8.33 2.7.33-1.7.34-5.4.33 2.2.33 2.7.34-6.9.33-12.2.33 21 .34-1.9.33-3.1.33 3.4.34-2.4.33-6.4.33-2.6.34 4.2.33-3.2.33 2.5.34 5.7.33-9 .33 5.7.34 9.8.33-8.4.33-6 .34 7.4.33-2.1.33 5.6.34-7 .33 8.4.33-2.1.34 2.6.33-7.1.33 3.7.34-17 .33 2.1.33 5.3.34-2.9.33-3.6.33 2.6.34-1.4.33-.3.33-11.3.34 10 .33-1.9.33-4.5.34-2.1.33 6.1.33-3 .34 .2.33 5.6.33 3.9.34-6.6.33-1.4.33 3.2.34-1.7.33-4.1.33 9.5.34-1.7.33-6.1.33 2.5.34 .4.33-3.6.33 8.3.34-3.2.33-7 .33-2.9.34 16.1.33-18.2.33 13.9.34-1.8.33 .9.33-7.4.34 3.8.33-.2.33 9.1.34-6.2.33-7.4.33 8.9.34 2.3.33 .5.33-6 .34 1.6.33-3.7.33 2.1.34 2.3.33-.2.33-10.9.34 6.8.33 .3.33-2.1.34-14.8.33 8.3.33 4.5.34 .6.33-9.4.33-2 .34-8.3.33 1.4.33-.9.34 7.3.33-21.2.33 14.3.34-1.4.33-.4.33-10.2.34 5.3.33-.7.33 4 .34-2.1.33 .7.33 2.3.34 .6.33 13.2.33-7.2.34 3.3.33 10.4.33-3.2.34 2.4.33 7 .33-2.6.34 3.9.33-1.6.33-8.3.34 7.2.33 5.6.33-2.5.34 7.4.33-6.4.33 1.6.34-.6.33 1.4.33 11.1.34-11.3.33-4.2.33 4.6.34-3.4.33 8.1.33 .6.34-1.4.33-1.1.33 1.1.34-7.3.33 8.9.33-2.1.34 10 .33-7.8.33 1 .34-4.7.33 3 .33 4.9.34-9.2.33 5.2.33-.9.34 3.4.33-5.1.33 1.4.34-1.1.33 8.4.33-2.2.34-5.3.33 3.2.33-7 .34 3.8.33 .3.33 .9.34 5.9.33-7.6.33-.5.34 4.6.33-.6.33 5.1.34 8.1.33-10.6.33-4.3.34-.6.33 7.7.33-10.6.34 2.7.33 2.9.33-.1.34-4.1.33 9.5.33-1.7.34 .6.33-7.8.33-2.1.34 6.4.33-2.9.33 .2.34 .3.33 6.8.33-7.3.34 17.2.33-22.6.33 8.5.34 1.5.33-1.4.33 3.1.34-.8.33-4.9.33 8.3.34 7.7.33-15 .33 2.5.34-1.7.33 5 .33-6.4.34 5.7.33 .2.33 1.2.34 2.6.33-8.7.33-.9.34 6.7.33 1.9.33-5.8.34-6.7.33 12.5.33 .2.34-13.5.33 12.9.33-4.4.34-6.2.33 13.1.33-3 .34 7.1.33-8.3.33-2.3.34 4.8.33 4 .33-5.1.34-5.2.33 1.1.33-2.1.34-4 .33 2.7.33 2.7.34-3.1.33 5.5.33-6.4.34 4.6.33-6.9.33-2.2.34 12.1.33-3.2.33-2.6.34 5.1.33 8.2.33-9.3.34 3.4.33-7.1.33 2.3.34-1.2.33 9.9.33-5.8.34-9.4.33-3 .33 17.6.34-8.6.33-3.1.33-3.1.34 1 .33-3.8.33 1.2.34-4.2.33 4.6.33-2.1.34 6.7.33-3.4.33-9 .34 5.2.33 7.1.33-4.8.34-1.6.33 5.6.33-1.2.34-5.9.33 7.1.33-2.3.34-5.4.33 2.9.33 3.7.34-4.7.33 3.2.33 2.5.34-3.6.33-2.7.33 .4.34 1.6.33-4.5.33 13.8.34-9.9.33 1.3.33-.9.34 4.2.33-13.9.33 9.5.34-5 .33-2.3.33-6.3.34 9.9.33-.9.33-2.8.34-3.7.33-5.4.33 1.6.34 5.9.33-4.4.33 3.3.34-4.9.33 2.5.33 .5.34-1.2.33-11.3.33 7.7.34-3.6.33 7.5.33-6.6.34 4 .33-7.6.33 5.2.34-4.1.33-.6.33 5 .34-.1.33 3.1.33-9 .34 2.4.33 14.6.33-8.8.34 3.6.33 4.6.33 2.7.34 1.6.33-8 .33 8.3.34-1.3.33-2.5.33 3.1.34 3.9.33 1.6.33-4 .34 6.2.33-9.8.33 6.4.34-7.9.33 17.1.33-4.1.34-4.8.33 1.3.33 1.3.34 .8.33-6.9.33 4.6.34 6.7.33-.9.33-6 .34 6 .33 3.8.33-10.1.34-3.2.33 .3.33 12.2.34-4.8.33-1.5.33-2.7.34 10 .33-5.4.33 2.7.34-3.4.33-6.6.33 13 .34-8 .33 5.6.33-1.6.34-4.1.33 8.4.33-1.2.34-1.6.33 4.8.33-8.4.34 4.8.33-4.4.33 .7.34 4.6.33-10.1.33 9.2.34-6.5.33 8.2.33-10.6.34 4.8.33 7.7.33-4.2.34 3 .33-5.1.33 8.9.34-6.3.33 6 .33-8.5.34-1.1.33 7.4.33-6.6.34 4.3.33 7.1.33-9.6.34-3.3.33 7.8.33-8.5.34 4 .33-1.6.33 .9.34-1.3.33-9.7.33 13 .34 2.8.33-.3.33-3.5.34 .7.33-8.6.33 1.2.34 11.1.33-9.6.33-4.3.34 5.6.33-1.5.33 3.8.34 1.1.33-8.1.33 6.8.34 3.8.33-2.1.33-3.8.34 6.6.33-2.7.33-6.9.34-.1.33 7.9.33-7.6.34 .7.33 6.6.33-2.4.34-3.9.33 3.3.33-3 .34 7.6.33-5.5.33 10.1.34-2.1.33-2.2.33-2.6.34-1 .33-3.7.33 9.3.34 4.9.33-12 .33 .6.34-14.7.33 13.5.33-3.2.34 14.3.33-14.8.33 5.7.34 3.9.33-1.7.33-7.9.34 6.6.33 .8.33-2 .34-.5.33-9.9.33 10.7.34-4.7.33 6.3.33-9.4.34-1.4.33 6.9.33-2.4.34-6 .33 3.3.33-1.5.34 2.4.33-.9.33-7.4.34 8.5.33 1.5.33-13.7.34 4.9.33 6.9.33-11.5.34 1.3.33-1.7.33 13.2.34-2.6.33-8.3.33 8.8.34 .9.33 .7.33 1.2.34 .9.33-5.7.33 7.4.34-7 .33 12.9.33-11.9.34 5.3.33 6.1.33-8.2.34 2.1.33 .3.33-1.2.34 4.8.33 2.9.33-8.8.34 9.7.33-11 .33 3 .34-8 .33 1.6.33 10.7.34-8.6.33 1.8.33-5.6.34 12.4.33-7.6.33-.9.34 13.4.33-7.4.33 .1.34-5 .33 13.4.33-9.5.34 5.2.33-.4.33-7.7.34 5.3.33 2.7.33 1.9.34-1.2.33-5 .33 4.8.34 2.4.33-10.4.33 6.9.34 .6.33 2.4.33-4.6.34 1.1.33-13.8.33 6.9.34-4.2.33 9.2.33 5.1.34-2.5.33-5.8.33 9.2.34-5.6.33 1.4.33-3.3.34 2.9.33-4.3.33 4.5.34 .1.33-5.5.33 8.9.34-3.8.33-6.4.33-4.6.34 7.2.33 5.4.33-6.4.34 7.2.33-3.7.33-1.4.34 2 .33-.2.33-2.6.34 1.5.33 .9.33-2.7.34 10.8.33-6.8.33 1.1.34 0 .33-1 .33-4.7.34-4.6.33 2.6.33 9.8.34-5.4.33-8.9.33 6.5.34 2.7.33-6.3.33 2.1.34 1.3.33 8.8.33-8.1.34-.4.33-6 .33 11.4.34 0 .33-2.6.33-1.8.34 3.5.33-2.1.33 1.7.34 3 .33-4.6.33-1.8.34 3.7.33-6.5.33-.2.34 10.4.33-12.4.33-.7.34 3.8.33 2.1.33-1.1.34 6.4.33-3.8.33-10.2.34 6.3.33 5.8.33-12.2.34 15.2.33-.4.33-3.7.34 .6.33-8 .33 8.6.34 1.3.33-8.4.33 7.5.34 4.2.33 2.6.33-5.8.34-2.2.33 .6.33-4.4.34 3.7.33 1.6.33-6.5.34 1.6.33 3.3.33-4 .34 8.4.33-11.6.33 5 .34 .7.33 1.7.33-6.8.34-1.5.33 3.3.33-.8.34-.6.33 5.2.33-7.3.34 7.8.33-2.9.33 4.4.34-3.1.33 1.1.33-2.1.34 .3.33-7.7.33 14.5.34 1.3.33-8.6.33 6.2.34-5.5.33 5.2.33-7.7.34 3.9.33 2 .33-3.6.34 4.8.33-8.3.33 2 .34 7.4.33-8.8.33 2 .34-5.7.33 3.9.33 2.4.34 8.6.33-8 .33 5.1.34-2.4.33-2.6.33-1.3.34 10.2.33-8.5.33-1.4.34-4.1.33 7.4.33 .4.34 1.1.33-6.4.33-1.4.34-1.9.33 5 .33-1.7.34 .5.33 3.8.33-6.5.34 4.8.33-13.7.33 12.9.34-5.8.33-3.1.33 1 .34-1.3.33 3.2.33-3.8.34 8.4.33-14.8.33 5.2.34 1.9.33 4.6.33-9.4.34 5.7.33 12 .33-7.4.34 8.1.33-11.8.33 6.2.34 2 .33-4.1.33 1.4.34-1 .33 5.2.33 2.3.34 2.5.33-3.7.33-1.1.34-6.1.33 18.5.33-2.7.34-18.3.33 12 .33-2.3.34-2.4.33-1.6.33 5.6.34 .8.33 2 .33-9.4.34 1.7.33 5.4.33-2.7.34-1.9.33 .4.33 3.6.34-6.6.33-2 .33 10.5.34-2.4.33-6.3.33 3.5.34 2.2.33 4.3.33-3.5.34-1.3.33-5.1.33 3.7.34-6.1.33 6.9.33 7 .34-13.6.33 7 .33 2.6.34-17 .33 9.9.33-6.6.34 1.8.33-4.2.33 .4.34 1.2.33-4.4.33 1.2.34-.6.33-.6.33-2.4.34-.9.33-.4.33 10.7.34-13 .33 15.8.33-4.1.34 3.6.33-4.5.33 7.5.34-4.3.33-2.5.33 4.3.34-2.2.33 15.1.33-6.2.34-1.4.33 0 .33 8.1.34-1.4.33-3.1.33-3.3.34 1.5.33 4.8.33-8.9.34 4.2.33-.4.33-3.8.34 6.9.33-4.9.33-2.5.34-1.6.33 4.2.33-6.5.34 2.6.33 2 .33-2.3.34 1.6.33 1.7.33-10.5.34 10.6.33-4.3.33 1.1.34 3.1.33-.2.33-5.2.34-1.9.33 3.9.33-8.9.34 12.2.33-7.1.33 5.1.34-1.4.33 8.1.33 .5.34-8.6.33 8.1.33-5.6.34-.9.33 3.5.33-4.4.34 3.1.33-5.7.33 3.4.34 4.8.33-6 .33 9.7.34-3.3.33-7.2.33 5.1.34-3.7.33 6.1" fill="none" stroke="#55CEA3" stroke-width="9.7" stroke-linejoin="round" stroke-linecap="butt"/>
<path d="M112.5 829.3l.33-5.6.34 1.6.33 5.2.33 0 .34-2 .33-5.2.33-2 .34 6.2.33-.2.33 6 .34-1.7.33-3.4.33 5.6.34 4 .33-2.2.33-3.1.34 5.4.33 3.4.33 3.4.34-1 .33-7 .33 2.1.34 3.9.33-6.5.33 8.1.34-4.1.33 2.8.33 8.3.34-5.1.33-2 .33 2.5.34-1.4.33-1.5.33 6.5.34 9.4.33-3.6.33-3.4.34-.2.33 2.9.33-1.2.34-5.1.33 5 .33 2.1.34 5.8.33-5 .33 2.5.34-7.6.33 3.6.33-2.9.34 .5.33 6.2.33-4.9.34 1.8.33 0 .33 4.9.34-1.8.33-8 .33 9.5.34 .5.33 9.9.33-1.9.34-4.5.33-10.3.33 13.9.34-4.2.33-5.8.33 7.8.34 3.9.33-8.4.33 8.1.34-3 .33-1.8.33 .6.34 0 .33 4.8.33 2.6.34 4.4.33 .8.33-5.6.34 2.1.33-6.4.33 3.8.34-5 .33 1.9.33 4.6.34-3.1.33 2.2.33-6 .34 3 .33 7.9.33 3.4.34-7.1.33 8.4.33 0 .34 5.2.33-8.6.33-2.2.34 2.4.33-3.4.33 4.1.34 2.3.33 5.1.33-4.2.34-7.8.33-1.4.33 .4.34-4.2.33 3.1.33 15.4.34-5.8.33 4.1.33-6 .34-1.8.33-1.9.33 10 .34-1.5.33 5 .33-5.6.34 6.5.33 0 .33-10.4.34 3.8.33-4.3.33-.5.34 6.2.33 5.1.33 1.4.34-5 .33 3.8.33-.8.34-3.4.33-3.1.33 7.4.34 11.7.33-13.9.33-1.5.34 .7.33 10 .33 4.3.34-.2.33 .8.33-5.6.34 3.3.33-5.5.33 8 .34 .7.33-6.5.33 2.9.34-6.4.33-2.7.33 .7.34 1.8.33 1.8.33 6.6.34 7.1.33-6.6.33-2.6.34 4.9.33-1.8.33 .8.34 1.5.33-.7.33-4.3.34 1.7.33 3.8.33-4.1.34-.2.33 2.5.33 .5.34-1.7.33 2.6.33-2.3.34-3.5.33 5.6.33 .2.34 12 .33-7.6.33-3.8.34 4.6.33 3.6.33-.6.34-4.4.33 1.1.33-1.9.34-4.9.33-6 .33 1.6.34-7.5.33 6.3.33 9.6.34-2.7.33-2.7.33-3.4.34-.2.33 .3.33-3 .34-.4.33 13.6.33 4.1.34-6.7.33 1.9.33-4.7.34 3.2.33-2.8.33 7 .34-2.2.33-4 .33 7.3.34 4.7.33-5.4.33-1.6.34 .4.33 1.7.33 4.7.34-1.9.33-10.2.33 8.6.34-.5.33 4.9.33-2.4.34-.7.33-6.2.33-3.2.34 6.1.33 4.3.33-.1.34-.5.33-1.6.33 .1.34-4.8.33 .1.33-3.1.34 4.7.33 1.3.33 2.6.34 3.7.33-5.3.33-8 .34 13.1.33 .4.33 .1.34-3.6.33 5.8.33 1.5.34-8.6.33 6.2.33-5.3.34-.4.33 5.3.33 5.3.34-11.8.33 1.6.33 4.5.34 2.5.33-1.8.33 .1.34-3.3.33 5.9.33 .8.34-7.6.33 .4.33 4.9.34 1.2.33-.7.33-5.6.34 1.7.33 2.5.33 5.9.34-3.9.33-3 .33-.8.34 4.5.33 3 .33-7.6.34 4.4.33 4.5.33 4.9.34-3 .33 .1.33-5.7.34-6.7.33-.9.33 3.5.34 3.5.33-.9.33 1.1.34 4.4.33-12.5.33 4.2.34 11.9.33-5.8.33-6.4.34-1.2.33 6.3.33 1.1.34-1.9.33-6.6.33 3.1.34 .8.33 .7.33-4.5.34 7.9.33 3.8.33-6.9.34 7.4.33 5.2.33-2 .34-3.2.33 0 .33-.9.34 1.7.33-2.5.33 2.5.34-2.5.33-.1.33 7.5.34-6.1.33 6.9.33-8.3.34 7.2.33-1.5.33-6.1.34 2 .33-.8.33 1.5.34 4.9.33-6.4.33-1.7.34 9.8.33-.1.33-2.1.34-.4.33 3.2.33-.5.34-2.2.33-.5.33 6.2.34 2.2.33-.8.33 5.9.34-7.7.33-1.3.33 3.7.34-3.3.33-1.7.33-1.6.34 .5.33-6.3.33 1.1.34-1.4.33-1.4.33 9.5.34-2.7.33-2 .33 2.7.34-2.6.33 6.9.33 1.5.34-7.1.33 6.3.33-.1.34 2 .33-3.2.33-4.9.34-2.9.33 1.7.33 4 .34 5.6.33-.6.33-.9.34 .4.33-10.9.33-1.5.34 .5.33 1.2.33-5.9.34 2 .33 5.1.33-1.8.34-3.1.33-10.6.33-5.5.34 .2.33-5 .33 0 .34 .1.33 3.1.33 4.5.34 1.6.33-.9.33-1.6.34 3.4.33-1.2.33-1.2.34 .2.33 5.4.33 6.2.34 2.4.33-.6.33 1.3.34-.7.33 6.3.33-2.9.34-1.1.33 3.2.33-.4.34 3.1.33 3.6.33-5.2.34 1.2.33 2.2.33 3.6.34 6.8.33-.6.33-1.8.34-9.4.33 7.6.33 2.6.34 .7.33-1.7.33-1.3.34 3.5.33-1.5.33-.4.34-1.4.33 1.6.33 3.1.34 1 .33-2.4.33-.4.34 .2.33 2.4.33-3.2.34 0 .33 1.2.33-.6.34 3.3.33 3.9.33-2.8.34 3.3.33-.9.33-2.2.34 1.9.33 1.1.33-5.5.34 3.8.33 1.5.33-4.4.34 4.7.33-1.8.33-4.3.34 1.4.33-4.9.33-1.1.34 .7.33 5.1.33-.8.34-1.4.33 .9.33 1.6.34-.4.33 0 .33 1.3.34-2.5.33 2.1.33 5.4.34-2.7.33-4.6.33 7.4.34-2.9.33 5.2.33-2.2.34-.4.33-7.2.33 1.2.34 1.4.33 .2.33-.4.34 .8.33 1.4.33-.7.34 1.5.33 .4.33-5 .34 2.8.33-.3.33 2.9.34 1.4.33-4.8.33 2.7.34 5 .33 .3.33-3.7.34 2.7.33-1 .33-1.6.34-1.3.33 2.3.33 .9.34-2.9.33 1.3.33-4 .34 .2.33 5 .33-1.3.34-1.2.33 3.6.33 1.7.34-.4.33 2.4.33-5.4.34-.2.33 3.5.33-3.3.34 2.2.33-5.3.33 .9.34 2.9.33 1.5.33 4 .34-5.3.33 1.3.33 1.1.34 .4.33 2.3.33-4.2.34-1.4.33-.1.33 4.8.34-.5.33-.5.33-1.2.34-3 .33 3.8.33 1.4.34 2.5.33-3.1.33-4 .34 2.2.33 4.5.33-7.4.34-1.3.33 5.7.33 3.9.34-3.9.33-2.1.33 7.1.34-5 .33 3.1.33 2.1.34-3.1.33 1.1.33 1 .34-6.1.33 4.4.33 2.6.34-.7.33-4.4.33 .6.34-2.5.33-1 .33 .2.34 4.3.33 .7.33 .1.34-8.3.33 3.1.33 5.9.34 3.6.33-6.7.33-3.8.34 3.3.33 3.1.33 3.3.34 1.2.33-1.6.33-1.2.34 3.7.33-6.2.33 .3.34 1.3.33-2.6.33 .6.34 1.7.33-3.3.33 1.1.34 2.5.33 6.2.33-3.3.34-4.2.33 2 .33-3 .34 1.8.33-3 .33 5.1.34-1.5.33-2.5.33 4.7.34 2.3.33-1 .33-2 .34-3 .33 2.9.33-6 .34 4.1.33 5.9.33-8.4.34-3.2.33 2.9.33 3.8.34 .1.33 1.9.33-2.9.34-2.6.33 3.8.33-2.1.34 3.1.33 2.3.33-1.4.34 0 .33-6.1.33 1 .34 1.4.33-1.6.33 6.2.34 1 .33-2.1.33-.7.34-2.7.33-2.9.33 .8.34 1.6.33 1.3.33-.5.34-.4.33-4.1.33 1 .34 3.2.33 .8.33-5.9.34 3.7.33 1.4.33-2.4.34-1.1.33-1.7.33-.3.34-2.4.33-2.4.33 5.6.34-2.7.33-3.2.33 2.1.34-4.4.33-2.1.33-7.4.34 .3.33 3.5.33 .1.34-1.3.33-3.2.33-3.1.34-9.4.33-5.6.33-1.8.34 7.2.33 3.7.33 5.9.34-.1.33 4.7.33-2.8.34 9.1.33 .7.33 5.2.34 .9.33-2.4.33 4.6.34-.4.33 4.4.33 1.3.34-.1.33-1.1.33 .2.34-.4.33-4 .33 7.5.34-.2.33-.4.33-2 .34 2.3.33 .3.33 3.4.34-5.1.33 4.2.33-3 .34 1.6.33-1.3.33-3.1.34-1.5.33 5.7.33-4 .34 3.3.33 6.2.33 .8.34-4.1.33-4.9.33 3.2.34 1.3.33-.6.33 4.9.34-1.5.33-.7.33-2 .34-3.6.33 .2.33 1.6.34 5.3.33-1.7.33 .2.34 .1.33 .7.33 2.9.34-1.8.33-2.3.33 .1.34 1.4.33-6 .33 5.4.34-2.3.33 1.2.33-1.1.34 .2.33-2.8.33-7.9.34 5 .33 2.3.33-1.5.34-.2.33 5.3.33-1.8.34 2.8.33 2.2.33-5.2.34 1.7.33 3 .33-3.6.34-2.9.33-3.1.33 6.9.34-3.4.33-3.2.33 4.1.34-2.3.33-.5.33-.7.34 3.4.33 .1.33-2.7.34 1.9.33 4 .33-2.9.34-.9.33 3.8.33-3.5.34 .1.33-2.4.33 .7.34 2.3.33 4 .33 1.4.34-2.6.33 2 .33-.8.34 .8.33-2.7.33 1.7.34-.2.33 2.2.33 5.2.34-3.7.33 1.4.33-1.9.34-5.9.33 4.1.33 1.5.34-5.9.33 3.4.33 10.2.34-6.2.33-3 .33 .8.34-1.1.33 2.5.33 1 .34 .2.33 4.8.33 1.8.34-2.6.33-5.1.33-.9.34-.8.33 3.7.33-1.1.34-.8.33 .3.33 2.4.34-.3.33-1.7.33 5.5.34-2.8.33-3.5.33 3.9.34-1.2.33 5.8.33 .1.34-1.3.33 2.2.33-6.8.34 .7.33-1.3.33-2.4.34 0 .33 5.1.33-2.6.34-2.7.33 2.9.33 7.8.34-6.4.33-3.8.33 1.6.34 3.1.33-2.7.33-1 .34-.1.33-1 .33 1.5.34 3.4.33-3.1.33-2.5.34-5 .33 8.1.33 2.6.34-3.9.33 1 .33-2.4.34 2.9.33-.5.33-4.4.34 7.4.33 2 .33-4.1.34-2.6.33 2.3.33 1.1.34 2.3.33-1.9.33 .1.34 2.8.33-.5.33-2.1.34-2.3.33-.6.33 .3.34 .1.33 2.2.33 3.5.34-2.8.33-1.8.33-2.6.34 6.2.33-1 .33 1.7.34-.4.33-2.3.33 .9.34-3.9.33 2.2.33 4.7.34-4.1.33 1.7.33-.7.34-1 .33 4.3.33-2.2.34 2.1.33 1.6.33-7.7.34 2 .33 2.8.33-1.1.34 2.3.33-.8.33-1.3.34-.4.33-3.7.33-3 .34 .1.33 4.4.33-.6.34 3.6.33-5.8.33-3.4.34 .9.33 7.8.33-1.3.34-.8.33-2.8.33 4 .34-5.4.33 1.6.33 .7.34 2.2.33-4.3.33 .6.34 1 .33 .8.33 .9.34 2.2.33 .3.33-2.9.34 0 .33 1.2.33 .6.34-.6.33 1.4.33 .2.34 .4.33-2.8.33 .9.34-2.2.33-2.9.33 2.6.34 2.5.33-1.4.33-.6.34 4.5.33 2.1.33-1 .34-1.5.33-4 .33 4.3.34 3.9.33-.9.33-2.7.34 1.1.33-3.1.33-.7.34 2 .33-.4.33-2.5.34 1.1.33 2.4.33-2.9.34 .7.33 1.2.33 1.1.34-2.1.33 .9.33 1.5.34-3.7.33-1.9.33-.5.34 4.4.33-1.6.33-1.6.34-2.2.33 2.5.33 .2.34 1.5.33 .7.33 2.1.34 2.8.33-5.2.33 .7.34-.3.33 .8.33 1.9.34 1.7.33-1.3.33 .1.34 .9.33-1.4.33-1.5.34 .7.33-.5.33-2.9.34 4.5.33 .2.33 .5.34-1.9.33-3.8.33 .9.34 1.1.33-1.2.33 3.9.34-2.8.33 4.9.33-1.5.34-1.1.33-3.7.33 1.2.34 1.4.33 4.8.33 2.5.34-2.8.33-9.3.33 2.7.34-1.1.33 1.8.33-1.1.34-3 .33 1.3.33 4.3.34-1.3.33-1.3.33 .7.34-1.5.33 2.9.33-.5.34 1.2.33-5.2.33 3.6.34-.9.33-2.3.33 1.2.34 3.4.33 1.5.33-1.9.34-.1.33-.4.33 1.3.34 5.3.33-.9.33 .2.34-3.9.33 .4.33-.1.34 2 .33-.5.33 1.9.34-3.1.33-2.8.33-1.7.34 1.4.33 2.7.33-2 .34 1.1.33 2.3.33 .2.34-4.9.33 0 .33-1.1.34 2.8.33 .5.33-.3.34-2.9.33 .4.33-1.1.34 4.3.33-1.4.33-.4.34 2.5.33 .8.33-2.3.34 .9.33 .6.33-1.6.34-1.7.33 1.1.33 3.4.34-1.3.33-3.2.33 1.5.34 2.8.33-1.5.33-2.6.34-.7.33 3.9.33 3.3.34-4.1.33-2.8.33 .5.34 2.8.33-5.3.33 2.1.34 1.7.33 .7.33 5.2.34-2.7.33-.6.33 1.6.34-3 .33-3.5.33 3.3.34-.7.33 .3.33 2.9.34-3.7.33 .6.33 .3.34 1.5.33 2.5.33-5.9.34 .8.33 2.6.33-2.4.34-2.3.33 1.2.33 2.8.34-2.9.33 6 .33 1.2.34-3.8.33-.2.33-.1.34-1.4.33-.3.33-5.4.34-.1.33 2.1.33 1.6.34 2.8.33 .2.33 .6.34-1.7.33-.4.33 .1.34-3.1.33-1 .33 0 .34-1.5.33 1.6.33 .6.34-1.9.33 0 .33 1.7.34 4.4.33 .2.33-4 .34 2.7.33-2.3.33-2.5.34 1 .33-.7.33-.7.34-.7.33 2.2.33-2.7.34 1.8.33 4 .33 2.5.34-3.9.33-.5.33 .9.34-1.1.33 .7.33-6.5.34 3.3.33-.9.33 2.4.34 2.6.33-2.6.33-1.6.34 .8.33-.6.33 .8.34-1 .33-1.4.33-.5.34 3.8.33-1.6.33-2.9.34 .3.33 2.5.33-1 .34 2.4.33 3.9.33 3.7.34-5.2.33-.9.33-6.8.34 .4.33 2.1.33-.8.34-3.9.33 3.8.33-.8.34-2.1.33-2 .33-3.2.34 .6.33-3.7.33-3.9.34-2 .33-6.2.33-2.8.34-2.8.33-2.4.33-4.6.34-3.6.33-7.2.33-2.8.34 1.6.33-2.5.33-2.4.34 2.4.33 2.4.33 3.6.34 1 .33 .5.33 5.7.34 6.6.33 2.5.33 1.4.34 6.2.33-.2.33 2.1.34 .1.33 6.2.33 3.4.34 .7.33 1.3.33 .3.34 3 .33-.3.33 2.7.34 .7.33-.3.33 .9.34 .2.33-1.4.33-1.2.34 7.5.33 2.7.33-4.6.34-2.6.33 1.3.33-1.7.34 4.7.33 3.4.33-1.6.34-1.7.33-4.6.33 2.2.34 .8.33 5.8.33-2.3.34-.7.33 2.5.33 1.8.34-1.2.33-2.7.33 2.1.34 .7.33-1.3.33 1.1.34-2.2.33 2.5.33 1.5.34-2.4.33-3 .33 2.4.34 1.4.33-1.3.33-3.7.34 1.1.33 2.5.33 5.8.34-4.4.33-2.7.33 2 .34-2.3.33 .8.33 3.9.34-.3.33-3.3.33-4.6.34-4.4.33 5.3.33 .2.34 3.9.33-.6.33-6.5.34-1.7.33 1.7.33 1.5.34 .1.33-6.4.33-3.2.34 2.9.33 0 .33 1 .34 2.1.33-3.6.33 1.4.34-2.2.33 1 .33 .5.34-3.2.33-4 .33 1.2.34 1.7.33-2.5.33 .5.34 2.3.33 .8.33 4.6.34-.4.33-5.6.33 5.6.34-.4.33 2.2.33 4.3.34-1.7.33-1.4.33-.4.34 3 .33 2.5.33 .8.34-1 .33 4.5.33-1.9.34 2.9.33-1.7.33 3.1.34-.4.33-5.4.33 .2.34 .9.33 1.3.33-3.6.34 .8.33 8.7.33-2.9.34-1 .33-2.2.33-.1.34 .8.33-1.3.33-1.6.34 .6.33 2.9.33-3.2.34 1.8.33-.7.33-.3.34 1.8.33-3.4.33-3.1.34 6.2.33 .3.33 .7.34 1.3.33-1.7.33 1.9.34-1.5.33 3.1.33-6.4.34 .6.33-.6.33-2.5.34 .5.33 1.4.33-2.8.34 3.4.33 1.6.33-4.2.34-1 .33-1.1.33 2 .34 .7.33-1.5.33 .3.34 2.4.33 .1.33-3.3.34 .7.33-.5.33-1.2.34 3.8.33 2.1.33-.7.34-1.6.33 4 .33-.5.34-4 .33 .5.33 2 .34-2.2.33 2.9.33 .2.34-4.5.33-1.6.33-.1.34 2 .33-2.5.33-6.1.34-2.3.33 1.3.33 .6.34-.2.33 4.3.33 .4.34 2.5.33 .6.33-1.8.34 7.1.33 .7.33-4.3.34-1.8.33 1.2.33 3.4.34-.8.33 2.7.33 3.4.34-3.8.33-1.2.33 1.7.34-.7.33-3.9.33-1.9.34 3.3.33 .3.33-.1.34 1.5.33 .5.33-2 .34 2.1.33-2.5.33 1 .34 1.7.33 2 .33 1.2.34-2 .33-1.4.33 .9.34-.3.33-2.2.33 .8.34-.1.33 .1.33-4.4.34-1.1.33 0 .33 6.4.34-1 .33-.9.33-3.1.34 5 .33 1.5.33 2.7.34 .4.33-2.9.33-1.3.34-.1.33-1.3.33-.8.34 .5.33-.2.33-2.4.34 1.6.33 4.1.33-4.8.34-.9.33 1.2.33-2.8.34-.2.33-1.6.33 2.3.34-2.1.33-1.8.33 5.8.34 1.9.33-1 .33 2.4.34-8 .33-1 .33 4.7.34 2.4.33-2.7.33-2.1.34-.3.33 5.6.33-3.8.34 1.2.33-1.4.33-3.2.34 4 .33-1.7.33 2 .34 .7.33-.5.33 4.4.34-.5.33-3.4.33 1.7.34 2.1.33 .2.33-3.8.34 2.8.33-6.7.33-1.8.34 3.5.33-1.6.33 3.5.34-7 .33 2.8.33 1.1.34-4.4.33 3.9.33-4.1.34 2.7.33 .6.33 0 .34 1.3.33-1.2.33-5 .34-1.2.33 1 .33-2.6.34 5.5.33-1 .33 4.1.34-4.6.33-5.5.33-1.1.34 2.2.33-9.9.33 5.5.34 6.5.33-4.9.33-1.1.34-2.5.33-1.5.33-4.8.34 .3.33 .6.33-5.5.34-2.9.33-.5.33-4.4.34-8 .33-8.9.33-6.4.34-2.8.33-5.1.33-1 .34-3.1.33-13 .33-15.6.34-9.6.33-9.4.33-.5.34-2 .33-1.3.33-4.6.34 4.2.33 4.3.33 5.9.34 .9.33 11.9.33 4.3.34 4.1.33 3 .33 8.1.34 7 .33 3.6.33 4.1.34 .8.33 5 .33 .3.34-.6.33 3.7.33 6 .34 4.1.33 2.1.33 4.1.34-1.1.33-.8.33-.2.34 3 .33-1.5.33-3.6.34 4.5.33 1.9.33 2.2.34 7.1.33-3.4.33-.5.34-.7.33-2.1.33 1.9.34 1.2.33 .1.33-1.3.34 2.7.33-.9.33-1.8.34 1.2.33 3 .33 1.4.34-2.4.33-.2.33 2.6.34 3.9.33 6.1.33-2.4.34-6 .33 4.1.33 4.3.34 2.9.33-.5.33 3.4.34-3 .33 4.8.33-3.8.34 0 .33 1.3.33-1.9.34-.5.33 4 .33 1.9.34 3.5.33-1.4.33-3 .34 1.7.33-2.8.33-1.7.34 3.3.33 .4.33 .9.34 3.9.33-1.8.33-2.4.34 1.2.33 .8.33-3.9.34 4.7.33 .8.33 .4.34 1.4.33-2 .33-5.4.34 0 .33-5.2.33-7 .34-2.2.33-4.1.33-4.6.34-9 .33-6.5.33-3.9.34-8 .33-5.5.33-4.1.34-.2.33-1.1.33-2.6.34-2.1.33 11.6.33 4.2.34 7.5.33 4.5.33 4 .34 10.8.33 4.8.33 5.7.34 6.7.33 7.9.33-2.4.34 1.3.33 1.7.33 2.9.34 2.8.33 .5.33 1.6.34 .4.33 .3.33 1.9.34 4.9.33-5.5.33-.3.34-.6.33 3.6.33 .7.34-2.3.33-1.4.33 4 .34 .6.33-6.3.33 .5.34 1.8.33 .3.33 .1.34 .3.33-2.6.33-.5.34 .2.33-2.2.33 1.4.34-3.4.33-1.2.33-3.4.34-2.5.33-4.7.33-3.8.34-4.1.33-5.6.33-2.2.34-9.2.33-3.7.33-8.6.34-4.7.33-6.4.33-3.2.34-.7.33-6.6.33-11.4.34-2.8.33-1 .33 3.3.34 1.6.33 7.6.33 4.1.34 12.4.33 3.2.33 3.9.34 8.6.33 7.8.33 4.9.34 11 .33 3.1.33 .9.34 2.7.33 6.8.33 4.7.34 3.1.33 0 .33 .7.34 4.7.33-.3.33-.7.34 2.8.33 .8.33 .8.34 1.3.33-4.4.33 5.8.34-.3.33-.3.33 1.1.34 1.3.33-1.9.33 2.7.34 3.4.33-.5.33-3.7.34-.5.33-1 .33 1.3.34 5.3.33 .6.33-2.7.34 5.6.33 .4.33-2 .34-2.3.33 .4.33 3.1.34-.4.33-3 .33 3.1.34 1.9.33 1.8.33-3.3.34 .4.33 1 .33 .2.34 .4.33 2.8.33-3.2.34-.5.33-.3.33 1.9.34 2.6.33-.8.33 .6.34-.5.33-2.5.33-2.8.34 3 .33 .4.33-.7.34-.5.33 .1.33-.9.34-.3.33 .7.33 2.6.34 2.9.33-2.7.33-4.4.34 3.1.33 2 .33 .2.34-3 .33-1.4.33 3.8.34-.2.33 2.6.33-3.3.34 3.3.33-3.2.33 3.8.34-1.5.33 .5.33-.2.34 .4.33-1.2.33-.5.34-3.5.33 .3.33-1.5.34 1.7.33 .7.33-.3.34 1.8.33-.4.33-.6.34 .5.33-.2.33-4.4.34-.3.33 .4.33-1.8.34-.2.33-1.7.33 1.5.34 4.7.33-2.7.33-2.9.34 3.4.33-.7.33-2.7.34 2.1.33 2 .33 1.2.34-.4.33 2.6.33-.4.34 4 .33-1.1.33 .3.34-1.4.33-4 .33 4.3.34 3.2.33-2.2.33-4.5.34-3.1.33 2.1.33-2.8.34-.1.33 .6.33-1.5.34-4.5.33 .9.33-2 .34-3.4.33-1.7.33 .7.34 .7.33-4.3.33-.2.34-3.6.33-.5.33 1 .34 .3.33 .1.33-.6.34 1.1.33 2.2.33 3.5.34 1.4.33 2.3.33 1.8.34-1.3.33-.6.33 2 .34 5.7.33 1.1.33 1.8.34-.1.33-1.6.33 1.2.34 1.3.33 3.9.33-1.2.34 1 .33-1.5.33 1.5.34-1.7.33-1.1.33 2.6.34-2.8.33 .4.33 2.1.34-.7.33-1.7.33 1.1.34 1.7.33-4.5.33-2.9.34 5.5.33-1.3.33 .3.34 1.7.33-1.6.33 .6.34 2.8.33-.5.33-1.9.34-1.8.33 .4.33 3.6.34-.4.33-2.7.33 .5.34-2.8.33 4.1.33 0 .34-1.4.33 2.8.33-1.1.34-1.8.33-.4.33 .6.34 2.2.33-.4.33-2.5.34-1.6.33 1.9.33 1.1.34-2 .33-.3.33 1.4.34 1.3.33 1 .33-.6.34-4.4.33 3.6.33-.7.34-1.8.33 .6.33-5.2.34 .5.33 5.9.33-4.1.34 .7.33-1.6.33 .3.34 .3.33 2.4.33-3.8.34 2.2.33-.8.33 .6.34 3.1.33-1.9.33 1.4.34 1.6.33 0 .33 1.4.34 .9.33-1.4.33-1.2.34 .3.33 .3.33 1.9.34-1.8.33 1.6.33 .7.34-2.7.33-.9.33 4 .34-.2.33-.5.33 .4.34 .7.33 .4.33-.9.34-.6.33 2.2.33 .4.34-2.9.33-1.6.33 5.1.34 1.1.33-.8.33-1.6.34 2.1.33-1.1.33-2 .34-.1.33 3.6.33-1.9.34-1.6.33-1.2.33 2.3.34-.2.33 2.4.33-1.9.34-.8.33-2.6.33-1.2.34 .5.33 .5.33-1.2.34 0 .33 .6.33 3.4.34 1 .33-1.6.33 3.1.34-.9.33-.9.33 1 .34 2.5.33-1 .33 1.3.34 2.3.33-5.3.33-1.1.34 .5.33-2.4.33-.2.34 .8.33 4.1.33-1.8.34-2.7.33-.6.33 2.7.34 .4.33-1.8.33 1.2.34-1.5.33 2.4.33-.7.34-2.2.33-1.6.33 2.5.34 2.1.33 1.8.33-3.4.34-.8.33-.5.33 1.8.34-1 .33-1.5.33 .9.34 .1.33-.6.33 1.4.34-1.2.33 0 .33 .1.34-2.1.33 2.4.33-.5.34 .2.33 4 .33-2 .34-3.4.33-1.5.33 2 .34 2.6.33-4.5.33 2.6.34-1.1.33 2.8.33 3.9.34-1.5.33-2.4.33-1.2.34 .8.33-2.8.33-.6.34 2.7.33 3.1.33-1.7.34 .2.33-2.7.33-.1.34-1.9.33 2.1.33 .2.34 3.1.33-.1.33 .1.34 .4.33-3.6.33-4.1.34 .9.33 3 .33-1.5.34 .4.33 .8.33 .2.34-4 .33 4.9.33 1 .34-1.5.33 .3.33 2.7.34-3.8.33-4 .33 4.8.34-2.4.33 1.8.33 2.4.34-3.9.33 .6.33 1.8.34-.7.33 .9.33-1.8.34-.1.33 .8.33 .5.34 1.5.33 1.6.33-.1.34-4.3.33 .8.33 1.8.34 2.1.33-.6.33-2.2.34 3.8.33-1.5.33 2.2.34-4.8.33-.1.33 3.1.34-2.5.33 .5.33 2 .34 .1.33 1.3.33-4 .34 .1.33-.6.33 2.5.34 1 .33-1.3.33-2.4.34 1.7.33-1.8.33 0 .34 1 .33 1.5.33 .4.34-1.7.33 1.5.33 3.4.34-2.5.33-.2.33-.3.34 3.8.33-3.8.33-.4.34 .2.33 .5.33 1.6.34-1.1.33 1.8.33 1.4.34-4.7.33-.5.33-.3.34 1.4.33-.2.33-.1.34-4.8.33 5.4.33-.8.34-.2.33-2.5.33 3.4.34-4.3.33 .4.33 2.4.34-1.6.33 1 .33 4.3.34-2.4.33-2.7.33-.6.34 1.9.33-.4.33-3.3.34-3.7.33 .1.33-2.9.34 1.8.33 3.3.33 1.4.34-1.1.33-2.2.33-1.9.34-4.7.33 .5.33-4.6.34-.4.33 2.3.33 1.8.34-5.8.33-2.5.33 1.9.34-.7.33-3.7.33 .9.34-.5.33 2.7.33 .5.34 0 .33 .7.33 1.6.34 .3.33 6.1.33 2.9.34-1.6.33-1.7.33 4.4.34-2.6.33 3.8.33 1.8.34 .2.33 2.1.33 .7.34-3.4.33 2.7.33-1.9.34 0 .33-1.3.33 .9.34 .6.33-.8.33 .3.34-1.2.33-.9.33-.7.34-.5.33 1.5.33-3.9.34 2.2.33-4.2.33-4 .34-1.7.33 .8.33 .3.34 .7.33 .5.33-5.5.34 1.5.33-.6.33-3.5.34 1.9.33 2.3.33-1.5.34-3.1.33 2.7.33-1.5.34-1 .33 .5.33 2.6.34 .1.33 1.3.33-.3.34 1.3.33 2.2.33 1.1.34-.1.33 1.4.33 .8.34 1.2.33-1.1.33 2.6.34 4.2.33 0 .33-.6.34-1 .33 2.4.33 .4.34 .7.33 2.6.33-4 .34 3.1.33 3 .33 .5.34-.9.33-.8.33-.5.34 .9.33-.2.33 0 .34 .9.33 1.7.33-1.7.34-1.9.33-.3.33 1.5.34-1.9.33 3.8.33-1.5.34 2 .33 2.1.33-.5.34 1.8.33 1.4.33-3.3.34-3.3.33 3.6.33-.4.34 1 .33-.8.33-3 .34 2.4.33-2.7.33-.3.34-.6.33 4.2.33-1.5.34-.7.33-3.5.33 1.6.34 3.6.33 1 .33-2.8.34-1.9.33 .8.33 .7.34 0 .33-.4.33 1.2.34-3.1.33 1.1.33 .1.34-.3.33-3.8.33 1 .34 1.6.33 .9.33-.8.34 .5.33-1.4.33-1.4.34-.6.33 5.1.33 3.4.34-7 .33 .2.33 .6.34 3.2.33 3.2.33-2.3.34 1.9.33-1.4.33-2.1.34 1 .33 3.5.33-.5.34 2.4.33-.8.33-1 .34-2.2.33 .2.33-1.1.34 3.4.33 .6.33 1.7.34-2.5.33 .3.33-.3.34 1.2.33-2.6.33 1.1.34-1.1.33-2.8.33 2.5.34 4.4.33 .1.33-1.4.34 2 .33-1 .33-.2.34-1.4.33-1.4.33 1.5.34 2.1.33-3.4.33-3.7.34 3.7.33-1.3.33-3.2.34 3 .33 1 .33 .5.34 .6.33-1.1.33-.1.34-1.7.33-.3.33 1.7.34-.4.33-.4.33-.1.34 .9.33-1.8.33 .6.34 1.1.33 3.7.33-.9.34-.4.33 1.3.33-4.2.34 2.1.33 1.4.33-2.3.34-1.1.33 0 .33 1.2.34-.2.33-.6.33 2.5.34 .5.33-2 .33-3.8.34 2.2.33 0 .33-1.2.34 1.8.33-1.1.33 2.8.34 .7.33-1 .33 1.3.34-3.1.33 3.2.33-1.6.34-1.5.33 .3.33 2.3.34-2.4.33-.6.33 3.1.34-2.3.33 1.2.33-3.9.34-1.3.33-3.2.33-.9.34-.3.33-2.7.33 .3.34-.8.33 .8.33 2.1.34-2 .33-1.3.33-.4.34 2.5.33 1.1.33 2.2.34-.5.33 .8.33 .3.34 1.4.33-3.4.33 2 .34-1.5.33-.7.33 2.2.34 0 .33 2.7.33-.9.34-2.3.33-.2.33 2.1.34-.5.33 .4.33-2.2.34 2.8.33-5.4.33-3.4.34 4.1.33 2.7.33-4.1.34-2.5.33-1.4.33 2.4.34 2.8.33 1.6.33 1.7.34 1.6.33-2.6.33 2.2.34 .3.33 2.6.33-1.1.34-.1.33-.3.33-1.8.34-.3.33 1.3.33-.1.34 3.1.33-3.3.33 1.7.34 .6.33-1.3.33 .3.34 1.4.33 1.3.33-1 .34-.1.33 .6.33 3 .34-6.7.33-2.2.33 6.2.34 .9.33-2.5.33-2.5.34 4.1.33 .3.33-.3.34 .2.33-3.5.33-1.3.34 2 .33-.2.33-.8.34 .6.33-1.6.33 2 .34 1.4.33-3.7.33-.1.34-.4.33-.5.33 3.1.34-.3.33-1.1.33 2 .34-1.1.33 .5.33-.5.34 1.6.33 .5.33-3.4.34 1.1.33-.4.33-.6.34 .3.33 0 .33 2.2.34-2 .33-.1.33 2.8.34-1.8.33-2.9.33-.2.34 .6.33-1.1.33-.9.34 .1.33-.4.33 3.7.34-.8.33-3.7.33 1.1.34-2.4.33-2.2.33 1.5.34 1.9.33 .2.33-3 .34-.7.33 1.4.33-.7.34-4.2.33 2.8.33-2.2.34 3.3.33 1.2.33-2.9.34-1.9.33 1.4.33 2.5.34-3.2.33-1.2.33 4.1.34 .3.33-.2.33 3.3.34 .8.33-1.2.33-.6.34-.5.33 .4.33-2.9.34 1.3.33 2.7.33 1.7.34-3 .33 3.1.33 3 .34-1.1.33-.7.33 3.6.34 .8.33-.3.33-2.5.34-1.8.33-1.3.33 1.3.34 .7.33 1.1.33 1.8.34-1.4.33-1.2.33-2.2.34 0 .33 1.9.33 1.5.34-.1.33-1.5.33-1.2.34-1.5.33 6.2.33-2.9.34-3.2.33-.1.33 1.9.34-.5.33 .3.33-2.3.34 2.4.33 2.3.33-3.3.34-1.8.33-.4.33 .6.34 1.7.33 3 .33-.9.34-4.7.33 .8.33-.9.34 1 .33-.1.33 2 .34-.2.33 1.8.33-.9.34 1.4.33-3 .33-1.7.34 3.1.33-3.4.33-3.5.34 3.9.33 1.4.33-3.6.34 .3.33 1.4.33-1.1.34-1.5.33-3.3.33-.3.34 .5.33 3.9.33-.6.34-.8.33 2.1.33 .9.34-3.6.33-3.3.33 .2.34-3.1.33 2.2.33 .9.34-2.1.33 3.2.33 1.3.34-2.7.33 0 .33 2.7.34 .3.33 1.4.33-1.2.34-4.9.33 0 .33-.2.34 .9.33-1.4.33 2.4.34 1.1.33 2.6.33 2.5.34-.9.33-6.4.33 3.2.34 .4.33-1.3.33 4.6.34-1.7.33 1.6.33 1.1.34-1.2.33 1.6.33-4.6.34 3.8.33-2.1.33 2.6.34-2 .33 1.3.33 3 .34 1.6.33 2.1.33-1 .34-4.5.33 .9.33 2.6.34-.9.33-1.4.33 1.9.34 1.8.33 1 .33 .3.34-3.8.33 .6.33 .6.34-3 .33 .7.33 .4.34-1.6.33 .5.33 3.9.34-2.9.33 3.5.33-.2.34-2.4.33 1.7.33-1.9.34-.2.33-.3.33 .6.34 2.8.33-.6.33 .4.34 1 .33 3.5.33-6.1.34 1.8.33 1.9.33-3.6.34 1.1.33 3.9.33 1.5.34-.4.33 .3.33-3.4.34-1 .33 2 .33 .2.34-3.4.33 3.2.33-3.1.34-2.5.33 3.3.33-3.1.34-1.8.33 1.9.33-2.6.34-1 .33 2.6.33-4.4.34 1.1.33 1.8.33-2.7.34-4.3.33-.9.33-.4.34 .8.33-3 .33 3.8.34-4.8.33-2.6.33-2.6.34 1.7.33-1.3.33-1.4.34-.7.33 5.7.33-1.4.34-2.3.33 2.2.33 4 .34 .3.33 1.1.33-.7.34 3.5.33-2.4.33 1.9.34-.7.33 4.8.33 1.9.34 .1.33 1.8.33 .7.34-2.9.33 .6.33 .8.34 2.9.33-4.6.33 .8.34 1.7.33 2 .33 2.9.34-3.5.33 .6.33 1.4.34 1.1.33-1 .33 .1.34-.2.33 .3.33-1.1.34-2.9.33 2.6.33 0 .34-.1.33 1.6.33 1.4.34 .4.33-2.4.33-1.2.34-.5.33-2.9.33 .6.34 .3.33 5.2.33-1.3.34-1.6.33 1.4.33-.6.34-2 .33 .3.33-1.1.34 .2.33-3 .33-.2.34 .5.33-.3.33-2.9.34 .4.33-1.7.33-.2.34-4 .33-1.1.33 3.6.34 1.3.33-.3.33 4.7.34-4.9.33-.9.33 2.1.34 .4.33 1.3.33-.9.34 2.4.33-2.6.33 1 .34 1.4.33 0 .33 2.9.34 .8.33 .7.33-2.3.34 1.2.33 1.7.33 2 .34-.3.33 .8.33 1 .34 1.1.33-2.5.33-3.6.34 2.7.33 4 .33-2.3.34 1.7.33 2 .33-3.5.34-.9.33 .2.33 2.8.34-1.8.33-2.1.33 .1.34-.5.33-.3.33 4 .34 2.1.33 .5.33-3.3.34 2.6.33 1.3.33-7.5.34-.1.33 2.1.33 5.1.34-1.7.33-1.8.33-.9.34-1 .33-.9.33 .7.34-.6.33 2.9.33 .1.34 .7.33 2.7.33-.9.34-1.3.33-.9.33-1.1.34 1.7.33-1.4.33-1.6.34 .4.33 .4.33-1 .34 3.3.33 2.4.33-6.3.34-.8.33 1.1.33 .5.34-.7.33 2.4.33-1.2.34 1.3.33-.7.33-2.3.34 1.6.33 2.2.33-5.1.34-1.2.33 3.9.33-4.3.34-3.8.33-1.9.33 3.9.34-1.1.33-3.8.33 1.3.34-2.4.33 3.8.33 1.5.34-1.6.33 .2.33-6 .34-.8.33 4.7.33-2.7.34 2.7.33 4.4.33-1.3.34-1.8.33 .9.33 2.3.34-2.1.33 1.9.33 .9.34 .5.33-.6.33-1.2.34 .1.33 4.3.33-.4.34 2.2.33-1.3.33-4 .34 3.9.33 .4.33 1.2.34-1.8.33 3.5.33 1.3.34-5.8.33 2 .33 2 .34 1.6.33-.3.33-2.4.34 1.4.33 1 .33-2.4.34 .7.33-.1.33-.6.34-2.4.33 3.8.33 .1.34 1.4.33 .7.33-.2.34 0 .33 .3.33 .3.34-4 .33-2.7.33 2.9.34 1.5.33 1.3.33-.7.34-.6.33 1.8.33-2.1.34-3.1.33-1.1.33 3.8.34 4.9.33-3.2.33-1.8.34 0 .33-1.7.33 3.9.34-4.1.33-1.1.33 1.5.34 3.1.33-.4.33-1.6.34-2.4.33-4.1.33 4.1.34-1.9.33-3.7.33-1.8.34 .8.33-3.3.33 .8.34 2.8.33-4.2.33-.6.34-.3.33 1.4.33-2.5.34 2.2.33 1 .33-.9.34-.9.33 1.8.33-2.5.34-1.4.33 5.4.33-.1.34 2.2.33 2.7.33 2.1.34-2.6.33 4 .33-.1.34-1.1.33 .5.33 1.6.34 2 .33-1 .33-2.6.34-.1.33 1.1.33-.6.34 5.7.33 0 .33-3.6.34-.7.33-2.7.33 5.2.34-5.9.33-.8.33 5.9.34-4.4.33-.9.33-3.4.34 .4.33 .6.33-1.5.34-2.1.33-1.4.33-.9.34-.1.33-.4.33-4.9.34-2 .33-1.7.33-.4.34-.3.33 .2.33-.2.34 3.9.33-1.6.33-.6.34 .9.33-.1.33 2.8.34-3.2.33 .7.33 4.4.34 1.3.33 .1.33 .3.34 2.7.33 6 .33-1.7.34-4.4.33 5.8.33 2.9.34 .3.33-1.6.33 2.3.34 2.3.33-1.3.33-1.1.34 1.3.33 1.5.33-1.8.34 2.3.33-1.4.33 1 .34 0 .33 .7.33-1.4.34 1 .33 .7.33-1.7.34 .9.33 4.3.33-.6.34-1.3.33-.3.33-.5.34 1.5.33-.6.33-1.9.34 .6.33 .7.33-.4.34-2 .33 2.8.33-.4.34 .4.33-2.1.33-2.3.34-1.3.33-.6.33 2.6.34 3.5.33 1.9.33-3.4.34-2.4.33 2 .33 .2.34 .1.33-2.4.33 1.3.34-.4.33 1.7.33-1.8.34 .9.33 1 .33 1 .34-2.9.33-1.6.33-1.7.34-.9.33 3.1.33 1.5.34 .1.33-.5.33 2.9.34-2.3.33-3 .33-1.5.34-1.4.33-3.9.33 .7.34-1.4.33-.7.33-.3.34-.5.33-2.6.33-1.2.34 .6.33 2.7.33-2.1.34-.8.33 3.5.33-.4.34-.3.33-.4.33-2.6.34 1.4.33 .4.33 1.7.34 4.3.33 5.4.33-.4.34-.6.33-3.1.33 3.3.34-.6.33-1.5.33 1.5.34 4.6.33 4.3.33-4.4.34-.7.33 1.7.33-1.6.34 2.6.33 1.4.33 .2.34-2.5.33-2.1.33-.6.34 3.8.33-5.3.33 3.1.34 1 .33-.2.33 2.8.34 1.7.33-3.2.33 .4.34 0 .33-1.7.33 .1.34-.2.33-1 .33 2.2.34 .3.33-1.3.33 .7.34-4.5.33 0 .33 3.8.34-3.2.33 1.4.33-2.7.34 1.3.33-.7.33-1.7.34-.5.33-1.7.33-2.4.34 2.4.33-1.3.33 3 .34-1 .33-3 .33 2.3.34-2.3.33-3.1.33 4.2.34-.5.33 .1.33 2.6.34 1.7.33-.8.33-.2.34-2 .33 2.9.33 1.1.34 1.7.33 2.7.33 .8.34 .4.33-3 .33 .2.34 3 .33-.5.33 2 .34-2.5.33 1.9.33-.4.34-3.7.33 4.1.33 2.9.34-1.1.33 0 .33 0 .34-.5.33 0 .33-.9.34 2.1.33-.6.33-1.3.34-.2.33 1.1.33 .1.34-1.6.33 2.1.33 5 .34-2.5.33-2.6.33-.7.34-.1.33 1.2.33 1.2.34 1.3.33 1.6.33-2.1.34-4.8.33-.4.33 .2.34 2.3.33 1.8.33-.8.34-2.7.33 1.9.33-2 .34 3 .33 1.6.33-.1.34 .3.33-2.3.33-.3.34 .3.33 .1.33-1.3.34 3.4.33 1.8.33-2.2.34-1.8.33 .3.33-.7.34 .9.33-1.2.33 1.2.34-.6.33-2 .33 5.9.34 .9.33-2.6.33 1.4.34-1 .33 0 .33-.7.34-2.9.33 2.3.33 .4.34 1.7.33 .4.33-3.6.34-2.2.33 1.4.33-.7.34 3.5.33 .1.33 1.6.34-1.1.33 1.5.33-4.4.34 2.1.33-.5.33 1.2.34 2.4.33-2.9.33 .2.34 .4.33 .9.33-2.3.34-1.2.33-.6.33 2.5.34-.5.33-4.5.33 2.2.34 2 .33-.8.33-.4.34-.3.33 3.5.33 2.5.34-5.4.33-1.4.33 1.1.34 2.3.33 .6.33-1.9.34-.5.33 .6.33-2.2.34 .7.33-2 .33 1.1.34 1.8.33-2.7.33-.8.34-1.6.33-.2.33 3.2.34-1.1.33 .9.33-1.2.34-.3.33 1.9.33-2.4.34 .5.33-2.4.33 1.3.34 1.2.33 1.1.33-1.7.34 .1.33 1.3.33-2 .34 1.8.33 .8.33-1.5.34-1.1.33-.3.33 .3.34-2.6.33-1 .33-.5.34 .7.33 1.5.33 3.2.34-1.1.33-1 .33-1.1.34 2.2.33-.2.33-1 .34-1.2.33-.6.33 1.8.34-.2.33-1.1.33 1.2.34 .6.33 1 .33-2.3.34-.1.33 .4.33 2 .34-.1.33-2.3.33 1.2.34 .5.33 .7.33-1.1.34 1.9.33 .3.33-.7.34 2.8.33-2.6.33 .8.34 1.7.33-.4.33-2 .34 1.2.33-.9.33 .9.34 0 .33 5 .33 .7.34-2.4.33-2.5.33 1.6.34 4.6.33-3.4.33-.7.34 1.7.33-4 .33-.6.34 3.4.33-1.5.33 2.6.34 1.3.33-1.1.33 1.5.34-3.1.33-1.4.33 1.7.34 .4.33-.6.33 1.9.34-2.5.33 2.3.33 2.8.34-.4.33 .1.33-.2.34-1.1.33 0 .33-2.3.34-3.9.33 2.6.33-2.7.34 1 .33 3.2.33 1.4.34-3.8.33-2.1.33 1.1.34 .4.33 1.9.33-1.4.34 2.5.33 1.8.33-1.2.34-.4.33 1.6.33-.9.34-.2.33-1.4.33-4.2.34 2.8.33 3.5.33-2.3.34 1.2.33-1.1.33 0 .34-2.1.33 .8.33 2.1.34 .2.33-2.4.33-.3.34 3.8.33 .9.33 .4.34 1.1.33-.6.33-.9.34-.5.33-1.5.33-.3.34 .6.33 .6.33 .4.34-2.8.33-1 .33-.4.34-2.9.33-3.2.33-.9.34-1.2.33-2.2.33-1.3.34 2.5.33 0 .33-2.8.34 2.8.33-3.5.33 2.9.34 1.5.33 0 .33 3.7.34 .2.33 .5.33-1.1.34-.8.33 3.1.33 3.8.34-2.5.33 1 .33 .6.34-.6.33 1.9.33 1.2.34 .5.33 1.4.33 .4.34 2.2.33-.6.33-2.2.34-.5.33-.4.33 .6.34-1.2.33 .8.33 1.6.34 .5.33-.9.33-2.1.34-.4.33-2.5.33-.8.34 3.5.33 1.4.33-5.4.34 1.4.33 3.8.33 0 .34-.5.33 .1.33 1.1.34-2.3.33-.5.33-.9.34 0 .33 4 .33-3.4.34-1.8.33 2 .33-2.8.34 1.9.33-1.7.33 2.1.34 .4.33-1.9.33 2.8.34 1 .33-1.2.33-2.1.34 3.3.33-.8.33 1.4.34-.9.33 1.1.33-1.4.34-2.2.33 2.1.33-2.1.34-1 .33 0 .33 2.3.34 .5.33-1 .33-2 .34 4.9.33-.7.33-1 .34-.8.33-.3.33 1.6.34 .9.33-3.2.33 1.5.34 .1.33 .2.33-1.9.34 1.6.33 2.1.33 1.3.34-.9.33 1.2.33-2 .34-.4.33-1.6.33 1.7.34-.3.33 1.3.33-3.7.34-1.8.33 1.5.33 4.2.34-.6.33 .2.33 .2.34 1 .33-3 .33 .4.34 1.5.33 1.4.33-1.1.34 1.1.33 .9.33-.9.34-.8.33 .7.33-1 .34-1.5.33 .6.33 0 .34 2.6.33-2.1.33-2 .34 3.6.33 1.8.33-3 .34 .6.33-2.4.33 1.1.34 1 .33 .4.33 1.1.34 .2.33 .7.33-.2.34-.7.33-1.9.33-.3.34-.2.33 2.2.33 .6.34-.7.33-.9.33-2.3.34 2.3.33-.5.33 1.1.34-.5.33 .4.33-1 .34 .1.33-.8.33 1.3.34-2.9.33-1.2.33-.2.34 1.6.33-.8.33-.3.34 1 .33-.7.33 .3.34-1.2.33 1.2.33-1.7.34 .3.33 2.2.33-3 .34 .3.33-1.6.33 1.4.34 .2.33 2.9.33-.7.34-1.1.33 .4.33 .2.34 2 .33-.7.33 .8.34 .3.33 .8.33 1.5.34-2.8.33-.4.33-1.5.34 1.9.33 .7.33 1.9.34-1 .33-2.2.33 .2.34 2.2.33-1.7.33-.5.34 1 .33 .7.33-.7.34 0 .33-.9.33-1.7.34-.6.33 .3.33 1.5.34 1.9.33 .5.33 .1.34 2.2.33-2.4.33 .4.34-1.7.33 .3.33 1 .34-1.6.33-1.6.33-.8.34 1.1.33 3.3.33-.6.34-1.3.33-.6.33-.9.34 1 .33 .9.33 2.2.34 3 .33-3.8.33-2.1.34 1.2.33-.3.33-1.9.34 .5.33 .5.33-.6.34 1.2.33 2.1.33-.2.34-2.4.33 0" fill="none" stroke="#4060B0" stroke-width="9.7" stroke-linejoin="round" stroke-linecap="butt"/>
</g>
<g fill="#000">
<path transform="translate(245.50,219.80) scale(1.000,1.000)" d="M0,0 L14,19.6 C15,21.3 15,24.5 14.2,26.8 C13.2,29.8 10.8,31.2 8.7,31 C6.3,30.8 4.4,28.4 3,24.4 L1.4,24.2 L1.4,29.5 C1.5,31.6 2.4,32.8 3.6,33.2 L3.6,34 L-3.6,34 L-3.6,33.2 C-2.4,32.8 -1.5,31.6 -1.4,29.5 L-1.4,24.2 L-3,24.4 C-4.4,28.4 -6.3,30.8 -8.7,31 C-10.8,31.2 -13.2,29.8 -14.2,26.8 C-15,24.5 -15,21.3 -14,19.6 Z"/><path transform="translate(333.00,234.80) scale(1.000,1.000)" d="M0,7 C1.4,3 4.4,0 8,0 C12,0 15.05,3.6 15.05,8.5 C15.05,13 12,17.6 8.6,22 C5.6,26 2,30 0,33 C-2,30 -5.6,26 -8.6,22 C-12,17.6 -15.05,13 -15.05,8.5 C-15.05,3.6 -12,0 -8,0 C-4.4,0 -1.4,3 0,7 Z"/><path transform="translate(513.60,241.00) scale(1.000,1.000)" d="M0,0 L14,19.6 C15,21.3 15,24.5 14.2,26.8 C13.2,29.8 10.8,31.2 8.7,31 C6.3,30.8 4.4,28.4 3,24.4 L1.4,24.2 L1.4,29.5 C1.5,31.6 2.4,32.8 3.6,33.2 L3.6,34 L-3.6,34 L-3.6,33.2 C-2.4,32.8 -1.5,31.6 -1.4,29.5 L-1.4,24.2 L-3,24.4 C-4.4,28.4 -6.3,30.8 -8.7,31 C-10.8,31.2 -13.2,29.8 -14.2,26.8 C-15,24.5 -15,21.3 -14,19.6 Z"/><path transform="translate(634.00,161.80) scale(1.000,1.000)" d="M0,7 C1.4,3 4.4,0 8,0 C12,0 15.05,3.6 15.05,8.5 C15.05,13 12,17.6 8.6,22 C5.6,26 2,30 0,33 C-2,30 -5.6,26 -8.6,22 C-12,17.6 -15.05,13 -15.05,8.5 C-15.05,3.6 -12,0 -8,0 C-4.4,0 -1.4,3 0,7 Z"/><path transform="translate(662.75,223.30) scale(1.000,1.000)" d="M0,0 L14,19.6 C15,21.3 15,24.5 14.2,26.8 C13.2,29.8 10.8,31.2 8.7,31 C6.3,30.8 4.4,28.4 3,24.4 L1.4,24.2 L1.4,29.5 C1.5,31.6 2.4,32.8 3.6,33.2 L3.6,34 L-3.6,34 L-3.6,33.2 C-2.4,32.8 -1.5,31.6 -1.4,29.5 L-1.4,24.2 L-3,24.4 C-4.4,28.4 -6.3,30.8 -8.7,31 C-10.8,31.2 -13.2,29.8 -14.2,26.8 C-15,24.5 -15,21.3 -14,19.6 Z"/><path transform="translate(687.15,189.80) scale(1.000,1.000)" d="M0,7 C1.4,3 4.4,0 8,0 C12,0 15.05,3.6 15.05,8.5 C15.05,13 12,17.6 8.6,22 C5.6,26 2,30 0,33 C-2,30 -5.6,26 -8.6,22 C-12,17.6 -15.05,13 -15.05,8.5 C-15.05,3.6 -12,0 -8,0 C-4.4,0 -1.4,3 0,7 Z"/><path transform="translate(244.75,410.90) scale(1.000,1.000)" d="M0,0 L14,19.6 C15,21.3 15,24.5 14.2,26.8 C13.2,29.8 10.8,31.2 8.7,31 C6.3,30.8 4.4,28.4 3,24.4 L1.4,24.2 L1.4,29.5 C1.5,31.6 2.4,32.8 3.6,33.2 L3.6,34 L-3.6,34 L-3.6,33.2 C-2.4,32.8 -1.5,31.6 -1.4,29.5 L-1.4,24.2 L-3,24.4 C-4.4,28.4 -6.3,30.8 -8.7,31 C-10.8,31.2 -13.2,29.8 -14.2,26.8 C-15,24.5 -15,21.3 -14,19.6 Z"/><g transform="translate(334.90,433.00) scale(1.000,1.000)"><circle cx="0" cy="7.1" r="7.1"/><circle cx="-8.8" cy="20.5" r="7.3"/><circle cx="8.8" cy="20.5" r="7.3"/><path d="M-3.2,12 L3.2,12 L2.2,17 L6,18.5 L6,22.5 L1.8,22 L1.4,29 C1.6,31 2.4,32 3.6,32.3 L3.6,33 L-3.6,33 L-3.6,32.3 C-2.4,32 -1.6,31 -1.4,29 L-1.8,22 L-6,22.5 L-6,18.5 L-2.2,17 Z"/></g><path transform="translate(514.45,427.70) scale(1.000,1.000)" d="M0,0 L14,19.6 C15,21.3 15,24.5 14.2,26.8 C13.2,29.8 10.8,31.2 8.7,31 C6.3,30.8 4.4,28.4 3,24.4 L1.4,24.2 L1.4,29.5 C1.5,31.6 2.4,32.8 3.6,33.2 L3.6,34 L-3.6,34 L-3.6,33.2 C-2.4,32.8 -1.5,31.6 -1.4,29.5 L-1.4,24.2 L-3,24.4 C-4.4,28.4 -6.3,30.8 -8.7,31 C-10.8,31.2 -13.2,29.8 -14.2,26.8 C-15,24.5 -15,21.3 -14,19.6 Z"/><g transform="translate(665.00,401.30) scale(1.000,1.000)"><circle cx="0" cy="7.1" r="7.1"/><circle cx="-8.8" cy="20.5" r="7.3"/><circle cx="8.8" cy="20.5" r="7.3"/><path d="M-3.2,12 L3.2,12 L2.2,17 L6,18.5 L6,22.5 L1.8,22 L1.4,29 C1.6,31 2.4,32 3.6,32.3 L3.6,33 L-3.6,33 L-3.6,32.3 C-2.4,32 -1.6,31 -1.4,29 L-1.8,22 L-6,22.5 L-6,18.5 L-2.2,17 Z"/></g><g transform="translate(764.65,452.00) scale(1.000,1.000)"><circle cx="0" cy="7.1" r="7.1"/><circle cx="-8.8" cy="20.5" r="7.3"/><circle cx="8.8" cy="20.5" r="7.3"/><path d="M-3.2,12 L3.2,12 L2.2,17 L6,18.5 L6,22.5 L1.8,22 L1.4,29 C1.6,31 2.4,32 3.6,32.3 L3.6,33 L-3.6,33 L-3.6,32.3 C-2.4,32 -1.6,31 -1.4,29 L-1.8,22 L-6,22.5 L-6,18.5 L-2.2,17 Z"/></g><path transform="translate(244.55,579.40) scale(1.000,1.000)" d="M0,0 L14,19.6 C15,21.3 15,24.5 14.2,26.8 C13.2,29.8 10.8,31.2 8.7,31 C6.3,30.8 4.4,28.4 3,24.4 L1.4,24.2 L1.4,29.5 C1.5,31.6 2.4,32.8 3.6,33.2 L3.6,34 L-3.6,34 L-3.6,33.2 C-2.4,32.8 -1.5,31.6 -1.4,29.5 L-1.4,24.2 L-3,24.4 C-4.4,28.4 -6.3,30.8 -8.7,31 C-10.8,31.2 -13.2,29.8 -14.2,26.8 C-15,24.5 -15,21.3 -14,19.6 Z"/><path transform="translate(331.50,598.80) scale(1.000,1.000)" d="M0,0 L13.55,17.4 L0,33.8 L-13.55,17.4 Z"/><path transform="translate(513.85,592.00) scale(1.000,1.000)" d="M0,0 L14,19.6 C15,21.3 15,24.5 14.2,26.8 C13.2,29.8 10.8,31.2 8.7,31 C6.3,30.8 4.4,28.4 3,24.4 L1.4,24.2 L1.4,29.5 C1.5,31.6 2.4,32.8 3.6,33.2 L3.6,34 L-3.6,34 L-3.6,33.2 C-2.4,32.8 -1.5,31.6 -1.4,29.5 L-1.4,24.2 L-3,24.4 C-4.4,28.4 -6.3,30.8 -8.7,31 C-10.8,31.2 -13.2,29.8 -14.2,26.8 C-15,24.5 -15,21.3 -14,19.6 Z"/><path transform="translate(645.65,615.90) scale(1.000,1.000)" d="M0,0 L13.55,17.4 L0,33.8 L-13.55,17.4 Z"/><path transform="translate(661.55,560.60) scale(1.000,1.000)" d="M0,0 L14,19.6 C15,21.3 15,24.5 14.2,26.8 C13.2,29.8 10.8,31.2 8.7,31 C6.3,30.8 4.4,28.4 3,24.4 L1.4,24.2 L1.4,29.5 C1.5,31.6 2.4,32.8 3.6,33.2 L3.6,34 L-3.6,34 L-3.6,33.2 C-2.4,32.8 -1.5,31.6 -1.4,29.5 L-1.4,24.2 L-3,24.4 C-4.4,28.4 -6.3,30.8 -8.7,31 C-10.8,31.2 -13.2,29.8 -14.2,26.8 C-15,24.5 -15,21.3 -14,19.6 Z"/><path transform="translate(240.40,869.40) scale(1.000,1.000)" d="M0,0 L14,19.6 C15,21.3 15,24.5 14.2,26.8 C13.2,29.8 10.8,31.2 8.7,31 C6.3,30.8 4.4,28.4 3,24.4 L1.4,24.2 L1.4,29.5 C1.5,31.6 2.4,32.8 3.6,33.2 L3.6,34 L-3.6,34 L-3.6,33.2 C-2.4,32.8 -1.5,31.6 -1.4,29.5 L-1.4,24.2 L-3,24.4 C-4.4,28.4 -6.3,30.8 -8.7,31 C-10.8,31.2 -13.2,29.8 -14.2,26.8 C-15,24.5 -15,21.3 -14,19.6 Z"/><path transform="translate(513.85,882.00) scale(1.000,1.000)" d="M0,0 L14,19.6 C15,21.3 15,24.5 14.2,26.8 C13.2,29.8 10.8,31.2 8.7,31 C6.3,30.8 4.4,28.4 3,24.4 L1.4,24.2 L1.4,29.5 C1.5,31.6 2.4,32.8 3.6,33.2 L3.6,34 L-3.6,34 L-3.6,33.2 C-2.4,32.8 -1.5,31.6 -1.4,29.5 L-1.4,24.2 L-3,24.4 C-4.4,28.4 -6.3,30.8 -8.7,31 C-10.8,31.2 -13.2,29.8 -14.2,26.8 C-15,24.5 -15,21.3 -14,19.6 Z"/><path transform="translate(685.75,844.00) scale(1.000,1.000)" d="M0,0 L14,19.6 C15,21.3 15,24.5 14.2,26.8 C13.2,29.8 10.8,31.2 8.7,31 C6.3,30.8 4.4,28.4 3,24.4 L1.4,24.2 L1.4,29.5 C1.5,31.6 2.4,32.8 3.6,33.2 L3.6,34 L-3.6,34 L-3.6,33.2 C-2.4,32.8 -1.5,31.6 -1.4,29.5 L-1.4,24.2 L-3,24.4 C-4.4,28.4 -6.3,30.8 -8.7,31 C-10.8,31.2 -13.2,29.8 -14.2,26.8 C-15,24.5 -15,21.3 -14,19.6 Z"/><circle cx="337.50" cy="904.40" r="10.50"/><circle cx="630.70" cy="826.60" r="10.50"/><circle cx="666.60" cy="886.40" r="10.50"/><path transform="translate(695.45,65.20) scale(0.857,0.815)" d="M0,0 L14,19.6 C15,21.3 15,24.5 14.2,26.8 C13.2,29.8 10.8,31.2 8.7,31 C6.3,30.8 4.4,28.4 3,24.4 L1.4,24.2 L1.4,29.5 C1.5,31.6 2.4,32.8 3.6,33.2 L3.6,34 L-3.6,34 L-3.6,33.2 C-2.4,32.8 -1.5,31.6 -1.4,29.5 L-1.4,24.2 L-3,24.4 C-4.4,28.4 -6.3,30.8 -8.7,31 C-10.8,31.2 -13.2,29.8 -14.2,26.8 C-15,24.5 -15,21.3 -14,19.6 Z"/><g transform="translate(1141.70,66.40) scale(0.850,0.803)"><circle cx="0" cy="7.1" r="7.1"/><circle cx="-8.8" cy="20.5" r="7.3"/><circle cx="8.8" cy="20.5" r="7.3"/><path d="M-3.2,12 L3.2,12 L2.2,17 L6,18.5 L6,22.5 L1.8,22 L1.4,29 C1.6,31 2.4,32 3.6,32.3 L3.6,33 L-3.6,33 L-3.6,32.3 C-2.4,32 -1.6,31 -1.4,29 L-1.8,22 L-6,22.5 L-6,18.5 L-2.2,17 Z"/></g><path transform="translate(887.10,130.90) scale(0.826,0.834)" d="M0,0 L13.55,17.4 L0,33.8 L-13.55,17.4 Z"/><path transform="translate(1141.80,131.60) scale(0.820,0.830)" d="M0,7 C1.4,3 4.4,0 8,0 C12,0 15.05,3.6 15.05,8.5 C15.05,13 12,17.6 8.6,22 C5.6,26 2,30 0,33 C-2,30 -5.6,26 -8.6,22 C-12,17.6 -15.05,13 -15.05,8.5 C-15.05,3.6 -12,0 -8,0 C-4.4,0 -1.4,3 0,7 Z"/><circle cx="885.40" cy="77.20" r="8.65"/>
</g>
<text x="724" y="91.3" class="lg" style="letter-spacing:0.4px">MnO<tspan class="sub" dy="13.5">2</tspan></text>
<text x="909" y="91.3" class="lg">CuMn<tspan class="sub" dy="13.5">2</tspan><tspan dy="-13.5">O</tspan><tspan class="sub" dy="13.5">4</tspan></text>
<text x="1172.6" y="91.3" class="lg">NiMn<tspan class="sub" dy="13.5">2</tspan><tspan dy="-13.5">O</tspan><tspan class="sub" dy="13.5">4</tspan></text>
<text x="916" y="156.8" class="lg">CoMn<tspan class="sub" dy="13.5">2</tspan><tspan dy="-13.5">O</tspan><tspan class="sub" dy="13.5">4</tspan></text>
<text x="1171" y="156.8" class="lg">MgMn<tspan class="sub" dy="13.5">2</tspan><tspan dy="-13.5">O</tspan><tspan class="sub" dy="13.5">4</tspan></text>
<text x="1223.3" y="325.9" class="lab" style="letter-spacing:0.3px">MgMn</text>
<text x="1237" y="535.7" class="lab">NiMn</text>
<text x="1239" y="732.9" class="lab">CoMn</text>
<text x="1239" y="954.1" class="lab">CuMn</text>
<text x="197.8" y="1137" class="tk">10</text><text x="367.1" y="1137" class="tk">20</text><text x="536.4" y="1137" class="tk">30</text><text x="705.8" y="1137" class="tk">40</text><text x="875.1" y="1137" class="tk">50</text><text x="1044.4" y="1137" class="tk">60</text><text x="1213.8" y="1137" class="tk">70</text><text x="1383.1" y="1137" class="tk">80</text>
<text x="608" y="1227.3" class="ax">2θ <tspan dx="-2.6" style="letter-spacing:-0.38px">(degree)</tspan></text>
<text transform="translate(70.3,754.3) rotate(-90)" class="ax">Intensity (a.u.)</text>
</svg>
</body></html>
